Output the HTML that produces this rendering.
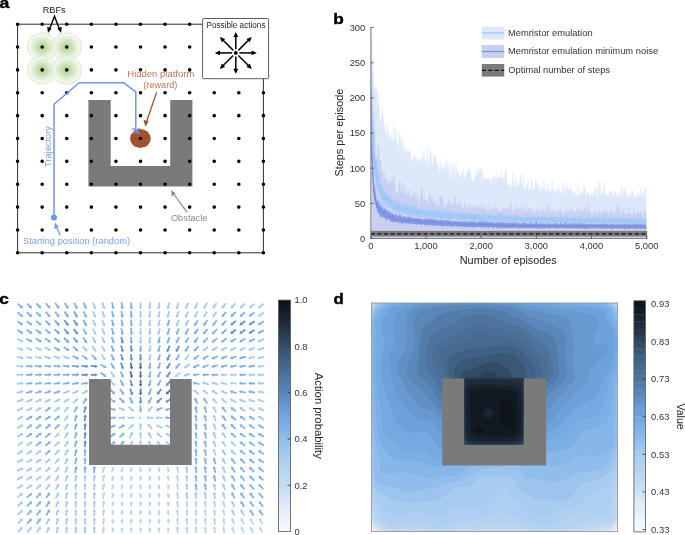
<!DOCTYPE html><html><head><meta charset="utf-8"><style>html,body{margin:0;padding:0;background:#fff;}body{width:685px;height:535px;overflow:hidden;position:relative;font-family:"Liberation Sans",sans-serif;}svg{position:absolute;left:0;top:0;will-change:transform;}</style></head><body><svg width="685" height="535" viewBox="0 0 685 535"><defs><radialGradient id="rbf" cx="50%" cy="50%" r="50%"><stop offset="0" stop-color="#aed292" stop-opacity="1"/><stop offset="0.3" stop-color="#c0daa8" stop-opacity="0.95"/><stop offset="0.6" stop-color="#dbeacd" stop-opacity="0.85"/><stop offset="0.85" stop-color="#edf5e6" stop-opacity="0.75"/><stop offset="1" stop-color="#f0f6ea" stop-opacity="0.75"/></radialGradient><marker id="ah" viewBox="0 0 10 10" refX="8" refY="5" markerWidth="4" markerHeight="4" orient="auto-start-reverse"><path d="M0,0 L10,5 L0,10 z" fill="context-stroke"/></marker></defs>
<path d="M202.6,24.2 H17.6 V252.79999999999998 H263.4 V78.7" fill="none" stroke="#151515" stroke-width="0.9"/>
<ellipse cx="42.2" cy="47.1" rx="14.8" ry="14.3" fill="url(#rbf)" stroke="#d2e3c1" stroke-width="0.7"/>
<ellipse cx="66.8" cy="47.1" rx="14.8" ry="14.3" fill="url(#rbf)" stroke="#d2e3c1" stroke-width="0.7"/>
<ellipse cx="42.2" cy="69.9" rx="14.8" ry="14.3" fill="url(#rbf)" stroke="#d2e3c1" stroke-width="0.7"/>
<ellipse cx="66.8" cy="69.9" rx="14.8" ry="14.3" fill="url(#rbf)" stroke="#d2e3c1" stroke-width="0.7"/>
<path d="M88.4,100 H110.7 V166 H170.2 V100 H192.4 V186.6 H88.4 Z" fill="#7a7a7a"/>
<path d="M15.80,24.20a1.8,1.8 0 1,0 3.6,0a1.8,1.8 0 1,0 -3.6,0M40.38,24.20a1.8,1.8 0 1,0 3.6,0a1.8,1.8 0 1,0 -3.6,0M64.96,24.20a1.8,1.8 0 1,0 3.6,0a1.8,1.8 0 1,0 -3.6,0M89.54,24.20a1.8,1.8 0 1,0 3.6,0a1.8,1.8 0 1,0 -3.6,0M114.12,24.20a1.8,1.8 0 1,0 3.6,0a1.8,1.8 0 1,0 -3.6,0M138.70,24.20a1.8,1.8 0 1,0 3.6,0a1.8,1.8 0 1,0 -3.6,0M163.28,24.20a1.8,1.8 0 1,0 3.6,0a1.8,1.8 0 1,0 -3.6,0M187.86,24.20a1.8,1.8 0 1,0 3.6,0a1.8,1.8 0 1,0 -3.6,0M15.80,47.06a1.8,1.8 0 1,0 3.6,0a1.8,1.8 0 1,0 -3.6,0M40.38,47.06a1.8,1.8 0 1,0 3.6,0a1.8,1.8 0 1,0 -3.6,0M64.96,47.06a1.8,1.8 0 1,0 3.6,0a1.8,1.8 0 1,0 -3.6,0M89.54,47.06a1.8,1.8 0 1,0 3.6,0a1.8,1.8 0 1,0 -3.6,0M114.12,47.06a1.8,1.8 0 1,0 3.6,0a1.8,1.8 0 1,0 -3.6,0M138.70,47.06a1.8,1.8 0 1,0 3.6,0a1.8,1.8 0 1,0 -3.6,0M163.28,47.06a1.8,1.8 0 1,0 3.6,0a1.8,1.8 0 1,0 -3.6,0M187.86,47.06a1.8,1.8 0 1,0 3.6,0a1.8,1.8 0 1,0 -3.6,0M15.80,69.92a1.8,1.8 0 1,0 3.6,0a1.8,1.8 0 1,0 -3.6,0M40.38,69.92a1.8,1.8 0 1,0 3.6,0a1.8,1.8 0 1,0 -3.6,0M64.96,69.92a1.8,1.8 0 1,0 3.6,0a1.8,1.8 0 1,0 -3.6,0M89.54,69.92a1.8,1.8 0 1,0 3.6,0a1.8,1.8 0 1,0 -3.6,0M114.12,69.92a1.8,1.8 0 1,0 3.6,0a1.8,1.8 0 1,0 -3.6,0M138.70,69.92a1.8,1.8 0 1,0 3.6,0a1.8,1.8 0 1,0 -3.6,0M163.28,69.92a1.8,1.8 0 1,0 3.6,0a1.8,1.8 0 1,0 -3.6,0M187.86,69.92a1.8,1.8 0 1,0 3.6,0a1.8,1.8 0 1,0 -3.6,0M15.80,92.78a1.8,1.8 0 1,0 3.6,0a1.8,1.8 0 1,0 -3.6,0M40.38,92.78a1.8,1.8 0 1,0 3.6,0a1.8,1.8 0 1,0 -3.6,0M64.96,92.78a1.8,1.8 0 1,0 3.6,0a1.8,1.8 0 1,0 -3.6,0M89.54,92.78a1.8,1.8 0 1,0 3.6,0a1.8,1.8 0 1,0 -3.6,0M114.12,92.78a1.8,1.8 0 1,0 3.6,0a1.8,1.8 0 1,0 -3.6,0M138.70,92.78a1.8,1.8 0 1,0 3.6,0a1.8,1.8 0 1,0 -3.6,0M163.28,92.78a1.8,1.8 0 1,0 3.6,0a1.8,1.8 0 1,0 -3.6,0M187.86,92.78a1.8,1.8 0 1,0 3.6,0a1.8,1.8 0 1,0 -3.6,0M212.44,92.78a1.8,1.8 0 1,0 3.6,0a1.8,1.8 0 1,0 -3.6,0M237.02,92.78a1.8,1.8 0 1,0 3.6,0a1.8,1.8 0 1,0 -3.6,0M261.60,92.78a1.8,1.8 0 1,0 3.6,0a1.8,1.8 0 1,0 -3.6,0M15.80,115.64a1.8,1.8 0 1,0 3.6,0a1.8,1.8 0 1,0 -3.6,0M40.38,115.64a1.8,1.8 0 1,0 3.6,0a1.8,1.8 0 1,0 -3.6,0M64.96,115.64a1.8,1.8 0 1,0 3.6,0a1.8,1.8 0 1,0 -3.6,0M89.54,115.64a1.8,1.8 0 1,0 3.6,0a1.8,1.8 0 1,0 -3.6,0M114.12,115.64a1.8,1.8 0 1,0 3.6,0a1.8,1.8 0 1,0 -3.6,0M138.70,115.64a1.8,1.8 0 1,0 3.6,0a1.8,1.8 0 1,0 -3.6,0M163.28,115.64a1.8,1.8 0 1,0 3.6,0a1.8,1.8 0 1,0 -3.6,0M187.86,115.64a1.8,1.8 0 1,0 3.6,0a1.8,1.8 0 1,0 -3.6,0M212.44,115.64a1.8,1.8 0 1,0 3.6,0a1.8,1.8 0 1,0 -3.6,0M237.02,115.64a1.8,1.8 0 1,0 3.6,0a1.8,1.8 0 1,0 -3.6,0M261.60,115.64a1.8,1.8 0 1,0 3.6,0a1.8,1.8 0 1,0 -3.6,0M15.80,138.50a1.8,1.8 0 1,0 3.6,0a1.8,1.8 0 1,0 -3.6,0M40.38,138.50a1.8,1.8 0 1,0 3.6,0a1.8,1.8 0 1,0 -3.6,0M64.96,138.50a1.8,1.8 0 1,0 3.6,0a1.8,1.8 0 1,0 -3.6,0M89.54,138.50a1.8,1.8 0 1,0 3.6,0a1.8,1.8 0 1,0 -3.6,0M114.12,138.50a1.8,1.8 0 1,0 3.6,0a1.8,1.8 0 1,0 -3.6,0M138.70,138.50a1.8,1.8 0 1,0 3.6,0a1.8,1.8 0 1,0 -3.6,0M163.28,138.50a1.8,1.8 0 1,0 3.6,0a1.8,1.8 0 1,0 -3.6,0M187.86,138.50a1.8,1.8 0 1,0 3.6,0a1.8,1.8 0 1,0 -3.6,0M212.44,138.50a1.8,1.8 0 1,0 3.6,0a1.8,1.8 0 1,0 -3.6,0M237.02,138.50a1.8,1.8 0 1,0 3.6,0a1.8,1.8 0 1,0 -3.6,0M261.60,138.50a1.8,1.8 0 1,0 3.6,0a1.8,1.8 0 1,0 -3.6,0M15.80,161.36a1.8,1.8 0 1,0 3.6,0a1.8,1.8 0 1,0 -3.6,0M40.38,161.36a1.8,1.8 0 1,0 3.6,0a1.8,1.8 0 1,0 -3.6,0M64.96,161.36a1.8,1.8 0 1,0 3.6,0a1.8,1.8 0 1,0 -3.6,0M89.54,161.36a1.8,1.8 0 1,0 3.6,0a1.8,1.8 0 1,0 -3.6,0M114.12,161.36a1.8,1.8 0 1,0 3.6,0a1.8,1.8 0 1,0 -3.6,0M138.70,161.36a1.8,1.8 0 1,0 3.6,0a1.8,1.8 0 1,0 -3.6,0M163.28,161.36a1.8,1.8 0 1,0 3.6,0a1.8,1.8 0 1,0 -3.6,0M187.86,161.36a1.8,1.8 0 1,0 3.6,0a1.8,1.8 0 1,0 -3.6,0M212.44,161.36a1.8,1.8 0 1,0 3.6,0a1.8,1.8 0 1,0 -3.6,0M237.02,161.36a1.8,1.8 0 1,0 3.6,0a1.8,1.8 0 1,0 -3.6,0M261.60,161.36a1.8,1.8 0 1,0 3.6,0a1.8,1.8 0 1,0 -3.6,0M15.80,184.22a1.8,1.8 0 1,0 3.6,0a1.8,1.8 0 1,0 -3.6,0M40.38,184.22a1.8,1.8 0 1,0 3.6,0a1.8,1.8 0 1,0 -3.6,0M64.96,184.22a1.8,1.8 0 1,0 3.6,0a1.8,1.8 0 1,0 -3.6,0M89.54,184.22a1.8,1.8 0 1,0 3.6,0a1.8,1.8 0 1,0 -3.6,0M114.12,184.22a1.8,1.8 0 1,0 3.6,0a1.8,1.8 0 1,0 -3.6,0M138.70,184.22a1.8,1.8 0 1,0 3.6,0a1.8,1.8 0 1,0 -3.6,0M163.28,184.22a1.8,1.8 0 1,0 3.6,0a1.8,1.8 0 1,0 -3.6,0M187.86,184.22a1.8,1.8 0 1,0 3.6,0a1.8,1.8 0 1,0 -3.6,0M212.44,184.22a1.8,1.8 0 1,0 3.6,0a1.8,1.8 0 1,0 -3.6,0M237.02,184.22a1.8,1.8 0 1,0 3.6,0a1.8,1.8 0 1,0 -3.6,0M261.60,184.22a1.8,1.8 0 1,0 3.6,0a1.8,1.8 0 1,0 -3.6,0M15.80,207.08a1.8,1.8 0 1,0 3.6,0a1.8,1.8 0 1,0 -3.6,0M40.38,207.08a1.8,1.8 0 1,0 3.6,0a1.8,1.8 0 1,0 -3.6,0M64.96,207.08a1.8,1.8 0 1,0 3.6,0a1.8,1.8 0 1,0 -3.6,0M89.54,207.08a1.8,1.8 0 1,0 3.6,0a1.8,1.8 0 1,0 -3.6,0M114.12,207.08a1.8,1.8 0 1,0 3.6,0a1.8,1.8 0 1,0 -3.6,0M138.70,207.08a1.8,1.8 0 1,0 3.6,0a1.8,1.8 0 1,0 -3.6,0M163.28,207.08a1.8,1.8 0 1,0 3.6,0a1.8,1.8 0 1,0 -3.6,0M187.86,207.08a1.8,1.8 0 1,0 3.6,0a1.8,1.8 0 1,0 -3.6,0M212.44,207.08a1.8,1.8 0 1,0 3.6,0a1.8,1.8 0 1,0 -3.6,0M237.02,207.08a1.8,1.8 0 1,0 3.6,0a1.8,1.8 0 1,0 -3.6,0M261.60,207.08a1.8,1.8 0 1,0 3.6,0a1.8,1.8 0 1,0 -3.6,0M15.80,229.94a1.8,1.8 0 1,0 3.6,0a1.8,1.8 0 1,0 -3.6,0M40.38,229.94a1.8,1.8 0 1,0 3.6,0a1.8,1.8 0 1,0 -3.6,0M64.96,229.94a1.8,1.8 0 1,0 3.6,0a1.8,1.8 0 1,0 -3.6,0M89.54,229.94a1.8,1.8 0 1,0 3.6,0a1.8,1.8 0 1,0 -3.6,0M114.12,229.94a1.8,1.8 0 1,0 3.6,0a1.8,1.8 0 1,0 -3.6,0M138.70,229.94a1.8,1.8 0 1,0 3.6,0a1.8,1.8 0 1,0 -3.6,0M163.28,229.94a1.8,1.8 0 1,0 3.6,0a1.8,1.8 0 1,0 -3.6,0M187.86,229.94a1.8,1.8 0 1,0 3.6,0a1.8,1.8 0 1,0 -3.6,0M212.44,229.94a1.8,1.8 0 1,0 3.6,0a1.8,1.8 0 1,0 -3.6,0M237.02,229.94a1.8,1.8 0 1,0 3.6,0a1.8,1.8 0 1,0 -3.6,0M261.60,229.94a1.8,1.8 0 1,0 3.6,0a1.8,1.8 0 1,0 -3.6,0M15.80,252.80a1.8,1.8 0 1,0 3.6,0a1.8,1.8 0 1,0 -3.6,0M40.38,252.80a1.8,1.8 0 1,0 3.6,0a1.8,1.8 0 1,0 -3.6,0M64.96,252.80a1.8,1.8 0 1,0 3.6,0a1.8,1.8 0 1,0 -3.6,0M89.54,252.80a1.8,1.8 0 1,0 3.6,0a1.8,1.8 0 1,0 -3.6,0M114.12,252.80a1.8,1.8 0 1,0 3.6,0a1.8,1.8 0 1,0 -3.6,0M138.70,252.80a1.8,1.8 0 1,0 3.6,0a1.8,1.8 0 1,0 -3.6,0M163.28,252.80a1.8,1.8 0 1,0 3.6,0a1.8,1.8 0 1,0 -3.6,0M187.86,252.80a1.8,1.8 0 1,0 3.6,0a1.8,1.8 0 1,0 -3.6,0M212.44,252.80a1.8,1.8 0 1,0 3.6,0a1.8,1.8 0 1,0 -3.6,0M237.02,252.80a1.8,1.8 0 1,0 3.6,0a1.8,1.8 0 1,0 -3.6,0M261.60,252.80a1.8,1.8 0 1,0 3.6,0a1.8,1.8 0 1,0 -3.6,0" fill="#000"/>
<rect x="202.6" y="18.5" width="66" height="60.2" rx="1" fill="#fff" stroke="#333" stroke-width="0.8"/>
<text x="236" y="28" font-family="Liberation Sans, sans-serif" font-size="8.3" text-anchor="middle" fill="#222" textLength="59" lengthAdjust="spacingAndGlyphs">Possible actions</text>
<line x1="239.40" y1="52.90" x2="252.80" y2="52.90" stroke="#000" stroke-width="1.5"/><path d="M256.80,52.90 L251.60,55.30 L251.60,50.50 Z" fill="#000"/><line x1="238.35" y1="50.35" x2="248.95" y2="39.75" stroke="#000" stroke-width="1.5"/><path d="M251.78,36.92 L249.80,42.29 L246.41,38.90 Z" fill="#000"/><line x1="235.80" y1="49.30" x2="235.80" y2="35.90" stroke="#000" stroke-width="1.5"/><path d="M235.80,31.90 L238.20,37.10 L233.40,37.10 Z" fill="#000"/><line x1="233.25" y1="50.35" x2="222.65" y2="39.75" stroke="#000" stroke-width="1.5"/><path d="M219.82,36.92 L225.19,38.90 L221.80,42.29 Z" fill="#000"/><line x1="232.20" y1="52.90" x2="218.80" y2="52.90" stroke="#000" stroke-width="1.5"/><path d="M214.80,52.90 L220.00,50.50 L220.00,55.30 Z" fill="#000"/><line x1="233.25" y1="55.45" x2="222.65" y2="66.05" stroke="#000" stroke-width="1.5"/><path d="M219.82,68.88 L221.80,63.51 L225.19,66.90 Z" fill="#000"/><line x1="235.80" y1="56.50" x2="235.80" y2="69.90" stroke="#000" stroke-width="1.5"/><path d="M235.80,73.90 L233.40,68.70 L238.20,68.70 Z" fill="#000"/><line x1="238.35" y1="55.45" x2="248.95" y2="66.05" stroke="#000" stroke-width="1.5"/><path d="M251.78,68.88 L246.41,66.90 L249.80,63.51 Z" fill="#000"/>
<circle cx="235.8" cy="52.9" r="1.9" fill="#000"/>
<text x="54.2" y="12.8" font-family="Liberation Sans, sans-serif" font-size="9.6" text-anchor="middle" fill="#222" textLength="23" lengthAdjust="spacingAndGlyphs">RBFs</text>
<path d="M49.6,29 L54.5,16.3 L59.4,29" fill="none" stroke="#000" stroke-width="1.4" stroke-linejoin="miter"/>
<path d="M48,33 L47.2,26.8 L51.6,28.4 Z M61,33 L61.8,26.8 L57.4,28.4 Z" fill="#000"/>
<ellipse cx="140.4" cy="138.5" rx="10.3" ry="9.6" fill="#a0522d"/>
<circle cx="140.4" cy="138.5" r="1.8" fill="#000"/>
<path d="M54,217.4 V104.2 L79.2,82.7 H123.5 L135.8,91.9 V131" fill="none" stroke="#6d95ec" stroke-width="1.5" stroke-linejoin="round"/>
<path d="M132.4,128.2 L139.6,133.8 M139.6,128.2 L132.4,133.8" stroke="#6d95ec" stroke-width="1.6"/>
<circle cx="54" cy="217.4" r="3" fill="#6d95ec"/>
<line x1="156.6" y1="92.4" x2="146.4" y2="122" stroke="#a0522d" stroke-width="1.3"/>
<path d="M145.4,126.8 L143.4,119.8 L148.6,121.5 Z" fill="#a0522d"/>
<text x="160.8" y="77.2" font-family="Liberation Sans, sans-serif" font-size="9" text-anchor="middle" fill="#b9775a" textLength="67" lengthAdjust="spacingAndGlyphs">Hidden platform</text>
<text x="160.3" y="87.6" font-family="Liberation Sans, sans-serif" font-size="9" text-anchor="middle" fill="#b9775a" textLength="34" lengthAdjust="spacingAndGlyphs">(reward)</text>
<text transform="translate(50.6,146.5) rotate(-90)" font-family="Liberation Sans, sans-serif" font-size="9" text-anchor="middle" fill="#7ba0ec" textLength="41" lengthAdjust="spacingAndGlyphs">Trajectory</text>
<line x1="60.3" y1="235.5" x2="56" y2="226" stroke="#6d95ec" stroke-width="1.2"/>
<path d="M55,222.5 L54.2,229 L58.6,227 Z" fill="#6d95ec"/>
<text x="76.5" y="244" font-family="Liberation Sans, sans-serif" font-size="9" text-anchor="middle" fill="#7ba0ec" textLength="107" lengthAdjust="spacingAndGlyphs">Starting position (random)</text>
<line x1="186.9" y1="212.1" x2="173" y2="193" stroke="#888" stroke-width="1.1"/>
<path d="M171.3,190.1 L171.6,196.5 L175.6,193.6 Z" fill="#888"/>
<text x="189.2" y="221.2" font-family="Liberation Sans, sans-serif" font-size="9" text-anchor="middle" fill="#8a8a8a" textLength="36.6" lengthAdjust="spacingAndGlyphs">Obstacle</text>
<text transform="translate(-0.6,8.0) scale(1.14,1)" font-family="Liberation Sans, sans-serif" font-size="15.5" font-weight="bold" fill="#000" stroke="#000" stroke-width="0.4">a</text>
<defs><clipPath id="cb"><rect x="370.8" y="27.6" width="275.9" height="210.9"/></clipPath></defs>
<g clip-path="url(#cb)">
<polygon points="370.8,238.5 370.8,12.2 371.3,12.2 371.8,35.3 372.3,35.3 372.8,58.2 373.3,58.2 373.8,87.8 374.3,87.8 374.8,86.2 375.3,86.2 375.8,90.7 376.3,90.7 376.8,89.4 377.3,89.4 377.8,104.0 378.3,104.0 378.8,93.5 379.3,93.5 379.8,119.7 380.3,119.7 380.8,120.2 381.3,120.2 381.8,106.1 382.3,106.1 382.8,114.6 383.3,114.6 383.8,122.3 384.3,122.3 384.8,127.4 385.3,127.4 385.8,135.3 386.3,135.3 386.8,124.9 387.3,124.9 387.8,130.4 388.3,130.4 388.8,138.2 389.3,138.2 389.8,137.7 390.3,137.7 390.8,133.1 391.3,133.1 391.8,140.5 392.3,140.5 392.8,139.3 393.3,139.3 393.8,121.6 394.3,121.6 394.8,141.7 395.3,141.7 395.8,127.5 396.3,127.5 396.8,142.7 397.3,142.7 397.8,148.9 398.3,148.9 398.8,132.7 399.3,132.7 399.8,134.0 400.3,134.0 400.8,143.9 401.3,143.9 401.8,135.8 402.3,135.8 402.8,152.2 403.3,152.2 403.8,141.8 404.3,141.8 404.8,148.6 405.3,148.6 405.8,153.6 406.3,153.6 406.8,150.1 407.3,150.1 407.8,151.3 408.3,151.3 408.8,152.2 409.3,152.2 409.8,147.8 410.3,147.8 410.8,158.3 411.3,158.3 411.8,161.8 412.3,161.8 412.8,158.5 413.3,158.5 413.8,156.6 414.3,156.6 414.8,155.8 415.3,155.8 415.8,162.7 416.3,162.7 416.8,156.4 417.3,156.4 417.8,160.3 418.3,160.3 418.8,158.2 419.3,158.2 419.8,163.5 420.3,163.5 420.8,159.0 421.3,159.0 421.8,156.8 422.3,156.8 422.8,159.6 423.3,159.6 423.8,148.3 424.3,148.3 424.8,162.6 425.3,162.6 425.8,160.8 426.3,160.8 426.8,144.0 427.3,144.0 427.8,167.6 428.3,167.6 428.8,159.4 429.3,159.4 429.8,147.1 430.3,147.1 430.8,152.1 431.3,152.1 431.8,162.3 432.3,162.3 432.8,164.8 433.3,164.8 433.8,151.8 434.3,151.8 434.8,157.3 435.3,157.3 435.8,158.1 436.3,158.1 436.8,163.8 437.3,163.8 437.8,164.9 438.3,164.9 438.8,171.9 439.3,171.9 439.8,157.6 440.3,157.6 440.8,167.1 441.3,167.1 441.8,168.1 442.3,168.1 442.8,169.1 443.3,169.1 443.8,170.6 444.3,170.6 444.8,162.7 445.3,162.7 445.8,168.5 446.3,168.5 446.8,158.1 447.3,158.1 447.8,175.0 448.3,175.0 448.8,162.6 449.3,162.6 449.8,178.8 450.3,178.8 450.8,161.6 451.3,161.6 451.8,177.1 452.3,177.1 452.8,164.5 453.3,164.5 453.8,168.2 454.3,168.2 454.8,177.5 455.3,177.5 455.8,160.5 456.3,160.5 456.8,171.4 457.3,171.4 457.8,173.2 458.3,173.2 458.8,173.8 459.3,173.8 459.8,176.0 460.3,176.0 460.8,176.1 461.3,176.1 461.8,172.8 462.3,172.8 462.8,168.9 463.3,168.9 463.8,179.0 464.3,179.0 464.8,176.5 465.3,176.5 465.8,174.5 466.3,174.5 466.8,172.4 467.3,172.4 467.8,168.4 468.3,168.4 468.8,171.2 469.3,171.2 469.8,166.5 470.3,166.5 470.8,174.8 471.3,174.8 471.8,177.8 472.3,177.8 472.8,181.8 473.3,181.8 473.8,180.0 474.3,180.0 474.8,175.8 475.3,175.8 475.8,173.8 476.3,173.8 476.8,167.8 477.3,167.8 477.8,174.7 478.3,174.7 478.8,167.5 479.3,167.5 479.8,171.6 480.3,171.6 480.8,169.0 481.3,169.0 481.8,167.8 482.3,167.8 482.8,181.2 483.3,181.2 483.8,176.6 484.3,176.6 484.8,178.2 485.3,178.2 485.8,179.3 486.3,179.3 486.8,179.6 487.3,179.6 487.8,179.0 488.3,179.0 488.8,178.6 489.3,178.6 489.8,181.0 490.3,181.0 490.8,184.2 491.3,184.2 491.8,176.4 492.3,176.4 492.8,178.9 493.3,178.9 493.8,176.8 494.3,176.8 494.8,176.6 495.3,176.6 495.8,182.4 496.3,182.4 496.8,171.1 497.3,171.1 497.8,177.5 498.3,177.5 498.8,178.0 499.3,178.0 499.8,176.4 500.3,176.4 500.8,169.7 501.3,169.7 501.8,178.2 502.3,178.2 502.8,176.7 503.3,176.7 503.8,179.9 504.3,179.9 504.8,171.2 505.3,171.2 505.8,168.6 506.3,168.6 506.8,182.1 507.3,182.1 507.8,184.6 508.3,184.6 508.8,185.3 509.3,185.3 509.8,184.4 510.3,184.4 510.8,188.1 511.3,188.1 511.8,181.6 512.3,181.6 512.8,170.6 513.3,170.6 513.8,185.1 514.3,185.1 514.8,187.5 515.3,187.5 515.8,177.6 516.3,177.6 516.8,184.9 517.3,184.9 517.8,184.9 518.3,184.9 518.8,184.6 519.3,184.6 519.8,177.9 520.3,177.9 520.8,174.1 521.3,174.1 521.8,188.0 522.3,188.0 522.8,173.9 523.3,173.9 523.8,187.6 524.3,187.6 524.8,189.7 525.3,189.7 525.8,185.8 526.3,185.8 526.8,185.3 527.3,185.3 527.8,178.5 528.3,178.5 528.8,190.4 529.3,190.4 529.8,190.1 530.3,190.1 530.8,180.2 531.3,180.2 531.8,180.4 532.3,180.4 532.8,188.3 533.3,188.3 533.8,190.1 534.3,190.1 534.8,183.1 535.3,183.1 535.8,177.5 536.3,177.5 536.8,186.1 537.3,186.1 537.8,183.8 538.3,183.8 538.8,189.2 539.3,189.2 539.8,184.3 540.3,184.3 540.8,190.3 541.3,190.3 541.8,187.9 542.3,187.9 542.8,188.1 543.3,188.1 543.8,177.7 544.3,177.7 544.8,191.4 545.3,191.4 545.8,188.9 546.3,188.9 546.8,189.7 547.3,189.7 547.8,181.8 548.3,181.8 548.8,192.6 549.3,192.6 549.8,190.1 550.3,190.1 550.8,192.4 551.3,192.4 551.8,178.6 552.3,178.6 552.8,191.0 553.3,191.0 553.8,189.2 554.3,189.2 554.8,189.9 555.3,189.9 555.8,192.5 556.3,192.5 556.8,192.8 557.3,192.8 557.8,183.9 558.3,183.9 558.8,188.9 559.3,188.9 559.8,192.1 560.3,192.1 560.8,193.3 561.3,193.3 561.8,182.4 562.3,182.4 562.8,194.2 563.3,194.2 563.8,180.8 564.3,180.8 564.8,188.9 565.3,188.9 565.8,192.5 566.3,192.5 566.8,181.8 567.3,181.8 567.8,189.6 568.3,189.6 568.8,189.4 569.3,189.4 569.8,185.9 570.3,185.9 570.8,190.2 571.3,190.2 571.8,190.1 572.3,190.1 572.8,195.1 573.3,195.1 573.8,193.5 574.3,193.5 574.8,191.0 575.3,191.0 575.8,195.8 576.3,195.8 576.8,194.7 577.3,194.7 577.8,182.6 578.3,182.6 578.8,194.9 579.3,194.9 579.8,194.6 580.3,194.6 580.8,193.5 581.3,193.5 581.8,191.7 582.3,191.7 582.8,191.2 583.3,191.2 583.8,184.3 584.3,184.3 584.8,187.9 585.3,187.9 585.8,194.4 586.3,194.4 586.8,194.1 587.3,194.1 587.8,191.1 588.3,191.1 588.8,192.4 589.3,192.4 589.8,197.6 590.3,197.6 590.8,194.0 591.3,194.0 591.8,191.3 592.3,191.3 592.8,196.0 593.3,196.0 593.8,193.5 594.3,193.5 594.8,188.2 595.3,188.2 595.8,187.8 596.3,187.8 596.8,198.2 597.3,198.2 597.8,187.5 598.3,187.5 598.8,180.5 599.3,180.5 599.8,194.3 600.3,194.3 600.8,184.7 601.3,184.7 601.8,195.4 602.3,195.4 602.8,193.6 603.3,193.6 603.8,181.3 604.3,181.3 604.8,191.0 605.3,191.0 605.8,196.8 606.3,196.8 606.8,193.9 607.3,193.9 607.8,196.2 608.3,196.2 608.8,192.5 609.3,192.5 609.8,189.8 610.3,189.8 610.8,193.3 611.3,193.3 611.8,191.1 612.3,191.1 612.8,195.9 613.3,195.9 613.8,195.4 614.3,195.4 614.8,188.4 615.3,188.4 615.8,192.3 616.3,192.3 616.8,197.1 617.3,197.1 617.8,195.6 618.3,195.6 618.8,195.0 619.3,195.0 619.8,195.0 620.3,195.0 620.8,183.3 621.3,183.3 621.8,197.1 622.3,197.1 622.8,186.5 623.3,186.5 623.8,194.1 624.3,194.1 624.8,187.2 625.3,187.2 625.8,189.5 626.3,189.5 626.8,197.1 627.3,197.1 627.8,196.3 628.3,196.3 628.8,192.6 629.3,192.6 629.8,193.5 630.3,193.5 630.8,195.9 631.3,195.9 631.8,189.0 632.3,189.0 632.8,192.6 633.3,192.6 633.8,197.8 634.3,197.8 634.8,197.5 635.3,197.5 635.8,195.3 636.3,195.3 636.8,195.3 637.3,195.3 637.8,190.4 638.3,190.4 638.8,196.3 639.3,196.3 639.8,195.5 640.3,195.5 640.8,185.7 641.3,185.7 641.8,195.8 642.3,195.8 642.8,190.7 643.3,190.7 643.8,197.7 644.3,197.7 644.8,186.9 645.3,186.9 645.8,186.2 646.3,186.2 646.7,238.5" fill="#dde8fa"/>
<polygon points="370.8,238.5 370.8,18.3 371.3,18.3 371.8,70.1 372.3,70.1 372.8,105.9 373.3,105.9 373.8,117.7 374.3,117.7 374.8,129.3 375.3,129.3 375.8,155.8 376.3,155.8 376.8,157.2 377.3,157.2 377.8,141.9 378.3,141.9 378.8,149.0 379.3,149.0 379.8,160.2 380.3,160.2 380.8,160.0 381.3,160.0 381.8,171.5 382.3,171.5 382.8,171.3 383.3,171.3 383.8,179.4 384.3,179.4 384.8,170.4 385.3,170.4 385.8,180.2 386.3,180.2 386.8,179.0 387.3,179.0 387.8,184.5 388.3,184.5 388.8,182.4 389.3,182.4 389.8,181.7 390.3,181.7 390.8,183.6 391.3,183.6 391.8,176.1 392.3,176.1 392.8,183.4 393.3,183.4 393.8,171.0 394.3,171.0 394.8,184.3 395.3,184.3 395.8,193.5 396.3,193.5 396.8,191.7 397.3,191.7 397.8,191.6 398.3,191.6 398.8,183.7 399.3,183.7 399.8,180.7 400.3,180.7 400.8,193.8 401.3,193.8 401.8,181.8 402.3,181.8 402.8,188.8 403.3,188.8 403.8,192.7 404.3,192.7 404.8,184.4 405.3,184.4 405.8,195.1 406.3,195.1 406.8,194.1 407.3,194.1 407.8,190.6 408.3,190.6 408.8,190.1 409.3,190.1 409.8,196.8 410.3,196.8 410.8,196.9 411.3,196.9 411.8,190.0 412.3,190.0 412.8,196.6 413.3,196.6 413.8,193.6 414.3,193.6 414.8,192.5 415.3,192.5 415.8,200.5 416.3,200.5 416.8,191.7 417.3,191.7 417.8,196.6 418.3,196.6 418.8,205.1 419.3,205.1 419.8,198.3 420.3,198.3 420.8,189.5 421.3,189.5 421.8,188.5 422.3,188.5 422.8,200.3 423.3,200.3 423.8,191.4 424.3,191.4 424.8,200.0 425.3,200.0 425.8,198.6 426.3,198.6 426.8,201.8 427.3,201.8 427.8,203.2 428.3,203.2 428.8,192.4 429.3,192.4 429.8,194.0 430.3,194.0 430.8,196.6 431.3,196.6 431.8,201.4 432.3,201.4 432.8,195.2 433.3,195.2 433.8,202.7 434.3,202.7 434.8,201.5 435.3,201.5 435.8,201.2 436.3,201.2 436.8,206.4 437.3,206.4 437.8,196.7 438.3,196.7 438.8,206.0 439.3,206.0 439.8,197.0 440.3,197.0 440.8,195.8 441.3,195.8 441.8,199.0 442.3,199.0 442.8,197.2 443.3,197.2 443.8,207.6 444.3,207.6 444.8,204.0 445.3,204.0 445.8,203.5 446.3,203.5 446.8,206.2 447.3,206.2 447.8,197.6 448.3,197.6 448.8,201.1 449.3,201.1 449.8,201.1 450.3,201.1 450.8,205.0 451.3,205.0 451.8,203.5 452.3,203.5 452.8,206.2 453.3,206.2 453.8,198.8 454.3,198.8 454.8,194.9 455.3,194.9 455.8,207.8 456.3,207.8 456.8,201.8 457.3,201.8 457.8,203.3 458.3,203.3 458.8,205.2 459.3,205.2 459.8,205.5 460.3,205.5 460.8,199.0 461.3,199.0 461.8,208.7 462.3,208.7 462.8,208.5 463.3,208.5 463.8,206.8 464.3,206.8 464.8,201.8 465.3,201.8 465.8,207.4 466.3,207.4 466.8,206.7 467.3,206.7 467.8,209.4 468.3,209.4 468.8,205.7 469.3,205.7 469.8,203.4 470.3,203.4 470.8,209.9 471.3,209.9 471.8,207.2 472.3,207.2 472.8,206.0 473.3,206.0 473.8,203.2 474.3,203.2 474.8,208.6 475.3,208.6 475.8,209.1 476.3,209.1 476.8,205.5 477.3,205.5 477.8,209.0 478.3,209.0 478.8,205.1 479.3,205.1 479.8,208.6 480.3,208.6 480.8,201.7 481.3,201.7 481.8,209.1 482.3,209.1 482.8,207.2 483.3,207.2 483.8,202.9 484.3,202.9 484.8,208.5 485.3,208.5 485.8,209.9 486.3,209.9 486.8,210.8 487.3,210.8 487.8,202.8 488.3,202.8 488.8,210.3 489.3,210.3 489.8,210.8 490.3,210.8 490.8,207.6 491.3,207.6 491.8,207.6 492.3,207.6 492.8,209.5 493.3,209.5 493.8,203.1 494.3,203.1 494.8,210.4 495.3,210.4 495.8,204.8 496.3,204.8 496.8,208.9 497.3,208.9 497.8,211.6 498.3,211.6 498.8,210.7 499.3,210.7 499.8,209.3 500.3,209.3 500.8,211.3 501.3,211.3 501.8,210.9 502.3,210.9 502.8,207.4 503.3,207.4 503.8,208.3 504.3,208.3 504.8,210.0 505.3,210.0 505.8,208.7 506.3,208.7 506.8,207.9 507.3,207.9 507.8,208.6 508.3,208.6 508.8,211.1 509.3,211.1 509.8,206.5 510.3,206.5 510.8,202.7 511.3,202.7 511.8,209.7 512.3,209.7 512.8,213.4 513.3,213.4 513.8,205.9 514.3,205.9 514.8,210.0 515.3,210.0 515.8,209.4 516.3,209.4 516.8,202.5 517.3,202.5 517.8,209.2 518.3,209.2 518.8,206.9 519.3,206.9 519.8,211.5 520.3,211.5 520.8,207.5 521.3,207.5 521.8,207.2 522.3,207.2 522.8,212.0 523.3,212.0 523.8,205.1 524.3,205.1 524.8,212.5 525.3,212.5 525.8,204.7 526.3,204.7 526.8,210.1 527.3,210.1 527.8,211.1 528.3,211.1 528.8,206.3 529.3,206.3 529.8,208.3 530.3,208.3 530.8,211.1 531.3,211.1 531.8,208.3 532.3,208.3 532.8,211.0 533.3,211.0 533.8,213.7 534.3,213.7 534.8,211.5 535.3,211.5 535.8,208.7 536.3,208.7 536.8,210.2 537.3,210.2 537.8,208.0 538.3,208.0 538.8,211.4 539.3,211.4 539.8,208.9 540.3,208.9 540.8,213.8 541.3,213.8 541.8,204.7 542.3,204.7 542.8,212.3 543.3,212.3 543.8,208.2 544.3,208.2 544.8,210.0 545.3,210.0 545.8,213.0 546.3,213.0 546.8,202.6 547.3,202.6 547.8,206.6 548.3,206.6 548.8,212.6 549.3,212.6 549.8,204.1 550.3,204.1 550.8,212.6 551.3,212.6 551.8,211.3 552.3,211.3 552.8,208.4 553.3,208.4 553.8,212.1 554.3,212.1 554.8,212.7 555.3,212.7 555.8,209.8 556.3,209.8 556.8,211.5 557.3,211.5 557.8,210.3 558.3,210.3 558.8,213.3 559.3,213.3 559.8,204.2 560.3,204.2 560.8,210.6 561.3,210.6 561.8,214.6 562.3,214.6 562.8,212.1 563.3,212.1 563.8,213.0 564.3,213.0 564.8,212.1 565.3,212.1 565.8,207.5 566.3,207.5 566.8,210.6 567.3,210.6 567.8,211.5 568.3,211.5 568.8,211.0 569.3,211.0 569.8,206.9 570.3,206.9 570.8,211.9 571.3,211.9 571.8,206.6 572.3,206.6 572.8,211.6 573.3,211.6 573.8,211.3 574.3,211.3 574.8,211.2 575.3,211.2 575.8,212.8 576.3,212.8 576.8,206.2 577.3,206.2 577.8,211.1 578.3,211.1 578.8,207.3 579.3,207.3 579.8,212.5 580.3,212.5 580.8,211.1 581.3,211.1 581.8,210.1 582.3,210.1 582.8,211.8 583.3,211.8 583.8,204.7 584.3,204.7 584.8,210.6 585.3,210.6 585.8,208.2 586.3,208.2 586.8,211.9 587.3,211.9 587.8,203.9 588.3,203.9 588.8,206.6 589.3,206.6 589.8,212.7 590.3,212.7 590.8,210.9 591.3,210.9 591.8,214.4 592.3,214.4 592.8,211.9 593.3,211.9 593.8,213.9 594.3,213.9 594.8,208.2 595.3,208.2 595.8,212.5 596.3,212.5 596.8,213.0 597.3,213.0 597.8,213.0 598.3,213.0 598.8,209.0 599.3,209.0 599.8,212.7 600.3,212.7 600.8,212.1 601.3,212.1 601.8,213.1 602.3,213.1 602.8,211.7 603.3,211.7 603.8,209.3 604.3,209.3 604.8,211.4 605.3,211.4 605.8,209.8 606.3,209.8 606.8,212.3 607.3,212.3 607.8,212.1 608.3,212.1 608.8,213.5 609.3,213.5 609.8,209.5 610.3,209.5 610.8,210.2 611.3,210.2 611.8,210.5 612.3,210.5 612.8,214.2 613.3,214.2 613.8,212.7 614.3,212.7 614.8,210.3 615.3,210.3 615.8,214.4 616.3,214.4 616.8,204.2 617.3,204.2 617.8,205.9 618.3,205.9 618.8,206.0 619.3,206.0 619.8,213.7 620.3,213.7 620.8,209.9 621.3,209.9 621.8,213.9 622.3,213.9 622.8,207.9 623.3,207.9 623.8,210.6 624.3,210.6 624.8,214.0 625.3,214.0 625.8,214.1 626.3,214.1 626.8,214.2 627.3,214.2 627.8,212.3 628.3,212.3 628.8,204.4 629.3,204.4 629.8,214.7 630.3,214.7 630.8,212.9 631.3,212.9 631.8,214.1 632.3,214.1 632.8,213.4 633.3,213.4 633.8,207.8 634.3,207.8 634.8,213.6 635.3,213.6 635.8,212.5 636.3,212.5 636.8,212.5 637.3,212.5 637.8,210.8 638.3,210.8 638.8,213.2 639.3,213.2 639.8,212.6 640.3,212.6 640.8,211.0 641.3,211.0 641.8,212.7 642.3,212.7 642.8,216.1 643.3,216.1 643.8,212.8 644.3,212.8 644.8,212.0 645.3,212.0 645.8,212.2 646.3,212.2 646.7,238.5" fill="#cad0f2"/>
<polygon points="370.8,62.2 371.3,66.6 371.8,91.2 372.3,117.9 372.8,121.0 373.3,127.3 373.8,132.9 374.3,149.9 374.8,148.2 375.3,158.5 375.8,158.2 376.3,162.4 376.8,158.0 377.3,166.9 377.8,169.3 378.3,172.6 378.8,174.7 379.3,177.2 379.8,177.6 380.3,180.5 380.8,185.9 381.3,183.6 381.8,189.0 382.3,187.6 382.8,181.8 383.3,188.2 383.8,191.6 384.3,189.3 384.8,191.2 385.3,191.1 385.8,191.4 386.3,188.4 386.8,194.7 387.3,196.0 387.8,195.9 388.3,195.1 388.8,197.5 389.3,191.7 389.8,197.4 390.3,197.8 390.8,195.7 391.3,198.1 391.8,197.8 392.3,200.6 392.8,198.3 393.3,199.5 393.8,196.6 394.3,199.9 394.8,200.3 395.3,201.3 395.8,199.2 396.3,200.1 396.8,202.9 397.3,200.3 397.8,199.7 398.3,202.9 398.8,200.1 399.3,203.7 399.8,203.2 400.3,204.2 400.8,203.2 401.3,201.0 401.8,204.5 402.3,204.5 402.8,200.3 403.3,205.8 403.8,206.2 404.3,204.5 404.8,201.3 405.3,205.2 405.8,205.9 406.3,205.2 406.8,203.4 407.3,203.3 407.8,203.7 408.3,206.7 408.8,206.1 409.3,205.2 409.8,203.8 410.3,205.5 410.8,207.6 411.3,206.9 411.8,205.0 412.3,206.6 412.8,207.3 413.3,204.6 413.8,207.6 414.3,205.7 414.8,207.1 415.3,205.7 415.8,205.7 416.3,206.3 416.8,208.8 417.3,206.8 417.8,206.0 418.3,208.5 418.8,208.3 419.3,208.2 419.8,208.7 420.3,209.0 420.8,208.2 421.3,205.2 421.8,209.7 422.3,208.7 422.8,210.0 423.3,209.6 423.8,206.7 424.3,209.3 424.8,208.9 425.3,210.4 425.8,209.2 426.3,208.4 426.8,207.6 427.3,206.3 427.8,210.3 428.3,210.1 428.8,209.0 429.3,209.7 429.8,210.9 430.3,210.7 430.8,209.2 431.3,209.5 431.8,210.1 432.3,210.7 432.8,210.6 433.3,209.9 433.8,210.8 434.3,208.7 434.8,209.0 435.3,211.3 435.8,207.9 436.3,210.0 436.8,207.5 437.3,210.7 437.8,208.6 438.3,211.4 438.8,211.7 439.3,207.9 439.8,210.2 440.3,210.7 440.8,211.2 441.3,211.0 441.8,209.8 442.3,210.3 442.8,212.2 443.3,211.5 443.8,208.9 444.3,209.6 444.8,212.1 445.3,212.2 445.8,211.8 446.3,212.6 446.8,209.8 447.3,211.7 447.8,212.4 448.3,210.3 448.8,210.5 449.3,212.2 449.8,211.2 450.3,211.4 450.8,211.4 451.3,211.5 451.8,209.9 452.3,212.3 452.8,212.8 453.3,213.4 453.8,212.0 454.3,212.2 454.8,213.1 455.3,213.0 455.8,213.3 456.3,213.3 456.8,210.9 457.3,211.5 457.8,210.2 458.3,212.7 458.8,213.1 459.3,212.2 459.8,213.9 460.3,213.6 460.8,212.9 461.3,213.3 461.8,213.6 462.3,211.8 462.8,213.8 463.3,212.4 463.8,213.6 464.3,214.1 464.8,212.8 465.3,213.3 465.8,212.2 466.3,211.7 466.8,213.4 467.3,213.5 467.8,212.6 468.3,213.8 468.8,214.2 469.3,212.9 469.8,212.7 470.3,211.8 470.8,213.2 471.3,213.5 471.8,214.2 472.3,214.6 472.8,214.7 473.3,213.1 473.8,214.8 474.3,213.8 474.8,213.2 475.3,214.9 475.8,213.7 476.3,214.1 476.8,214.8 477.3,214.3 477.8,214.1 478.3,214.0 478.8,214.0 479.3,213.6 479.8,214.6 480.3,214.7 480.8,215.0 481.3,213.6 481.8,214.9 482.3,213.0 482.8,214.2 483.3,214.4 483.8,214.9 484.3,213.9 484.8,210.6 485.3,214.9 485.8,215.4 486.3,214.8 486.8,213.6 487.3,215.0 487.8,215.1 488.3,214.1 488.8,214.8 489.3,215.2 489.8,212.9 490.3,213.6 490.8,215.5 491.3,213.5 491.8,215.7 492.3,214.6 492.8,215.3 493.3,214.0 493.8,214.9 494.3,215.1 494.8,215.0 495.3,215.9 495.8,215.7 496.3,212.9 496.8,213.9 497.3,213.1 497.8,214.0 498.3,215.0 498.8,216.0 499.3,215.5 499.8,215.2 500.3,214.5 500.8,212.6 501.3,214.6 501.8,212.6 502.3,214.1 502.8,216.3 503.3,215.6 503.8,216.4 504.3,215.2 504.8,216.3 505.3,214.0 505.8,215.8 506.3,214.8 506.8,215.8 507.3,216.3 507.8,215.0 508.3,214.1 508.8,214.8 509.3,215.9 509.8,216.7 510.3,216.5 510.8,216.2 511.3,214.8 511.8,216.2 512.3,215.7 512.8,216.7 513.3,216.5 513.8,215.6 514.3,212.6 514.8,214.9 515.3,216.6 515.8,215.7 516.3,215.0 516.8,215.0 517.3,216.9 517.8,214.9 518.3,216.6 518.8,216.4 519.3,216.5 519.8,215.7 520.3,217.2 520.8,216.0 521.3,217.0 521.8,216.6 522.3,216.9 522.8,216.8 523.3,215.4 523.8,217.4 524.3,215.6 524.8,217.2 525.3,216.3 525.8,217.3 526.3,217.4 526.8,215.5 527.3,217.1 527.8,211.7 528.3,216.2 528.8,216.3 529.3,216.3 529.8,215.9 530.3,215.7 530.8,217.5 531.3,217.1 531.8,216.5 532.3,216.9 532.8,217.1 533.3,217.0 533.8,215.0 534.3,215.5 534.8,215.2 535.3,217.6 535.8,217.5 536.3,216.4 536.8,217.6 537.3,216.2 537.8,214.6 538.3,216.7 538.8,217.0 539.3,217.1 539.8,216.8 540.3,217.0 540.8,217.0 541.3,216.6 541.8,216.7 542.3,217.4 542.8,215.7 543.3,217.1 543.8,217.3 544.3,214.0 544.8,216.7 545.3,215.7 545.8,217.0 546.3,216.7 546.8,216.4 547.3,217.6 547.8,216.6 548.3,216.4 548.8,217.2 549.3,216.6 549.8,216.8 550.3,216.4 550.8,216.8 551.3,216.2 551.8,217.1 552.3,217.3 552.8,214.9 553.3,217.5 553.8,217.0 554.3,216.9 554.8,217.1 555.3,216.0 555.8,217.2 556.3,216.7 556.8,216.0 557.3,215.4 557.8,217.0 558.3,217.9 558.8,217.9 559.3,217.2 559.8,216.5 560.3,215.8 560.8,215.4 561.3,217.3 561.8,217.5 562.3,217.4 562.8,217.6 563.3,217.9 563.8,217.8 564.3,217.1 564.8,218.1 565.3,217.2 565.8,216.6 566.3,216.5 566.8,216.0 567.3,217.0 567.8,216.0 568.3,217.6 568.8,218.1 569.3,217.5 569.8,217.6 570.3,217.1 570.8,217.6 571.3,217.7 571.8,217.3 572.3,216.5 572.8,217.4 573.3,217.9 573.8,218.2 574.3,215.9 574.8,215.8 575.3,217.4 575.8,216.9 576.3,217.4 576.8,217.1 577.3,217.7 577.8,217.1 578.3,217.1 578.8,218.3 579.3,215.8 579.8,217.3 580.3,218.3 580.8,217.0 581.3,214.7 581.8,216.9 582.3,218.0 582.8,218.3 583.3,218.2 583.8,217.0 584.3,217.6 584.8,218.1 585.3,217.6 585.8,217.6 586.3,218.4 586.8,218.0 587.3,218.3 587.8,217.9 588.3,216.5 588.8,216.8 589.3,217.7 589.8,217.7 590.3,218.0 590.8,217.6 591.3,217.9 591.8,217.6 592.3,217.0 592.8,217.7 593.3,216.2 593.8,217.6 594.3,218.5 594.8,216.4 595.3,218.5 595.8,217.6 596.3,216.8 596.8,217.6 597.3,215.8 597.8,217.3 598.3,217.8 598.8,215.6 599.3,218.4 599.8,217.8 600.3,218.4 600.8,217.6 601.3,218.4 601.8,217.2 602.3,216.9 602.8,217.9 603.3,216.3 603.8,216.8 604.3,216.2 604.8,217.2 605.3,215.8 605.8,217.4 606.3,218.3 606.8,217.4 607.3,216.2 607.8,217.7 608.3,218.0 608.8,218.8 609.3,218.5 609.8,216.4 610.3,218.0 610.8,217.2 611.3,217.2 611.8,218.5 612.3,216.6 612.8,217.2 613.3,218.4 613.8,216.9 614.3,216.6 614.8,217.5 615.3,217.4 615.8,216.6 616.3,218.6 616.8,218.5 617.3,218.4 617.8,217.2 618.3,218.2 618.8,216.6 619.3,218.6 619.8,218.1 620.3,216.3 620.8,217.7 621.3,219.0 621.8,218.1 622.3,216.9 622.8,218.0 623.3,217.0 623.8,217.9 624.3,218.9 624.8,217.0 625.3,218.1 625.8,218.4 626.3,218.1 626.8,218.6 627.3,218.0 627.8,217.6 628.3,218.7 628.8,218.0 629.3,218.4 629.8,219.0 630.3,216.9 630.8,218.2 631.3,217.2 631.8,217.7 632.3,219.1 632.8,218.3 633.3,218.2 633.8,218.8 634.3,217.7 634.8,216.7 635.3,216.2 635.8,217.9 636.3,219.2 636.8,218.0 637.3,216.5 637.8,218.3 638.3,218.4 638.8,216.4 639.3,218.7 639.8,216.8 640.3,217.5 640.8,219.2 641.3,218.6 641.8,219.0 642.3,219.3 642.8,218.1 643.3,219.1 643.8,218.5 644.3,219.0 644.8,219.4 645.3,218.2 645.8,217.8 646.3,218.6 646.3,223.9 645.8,224.6 645.3,223.6 644.8,223.3 644.3,224.3 643.8,225.8 643.3,223.4 642.8,224.3 642.3,223.7 641.8,223.3 641.3,224.6 640.8,225.0 640.3,223.8 639.8,223.2 639.3,223.6 638.8,223.4 638.3,224.0 637.8,223.1 637.3,224.6 636.8,224.0 636.3,224.6 635.8,224.8 635.3,223.2 634.8,226.0 634.3,223.6 633.8,223.2 633.3,224.5 632.8,223.8 632.3,223.8 631.8,223.7 631.3,223.1 630.8,223.4 630.3,223.3 629.8,223.2 629.3,224.7 628.8,224.9 628.3,223.0 627.8,224.3 627.3,223.9 626.8,223.1 626.3,223.0 625.8,223.0 625.3,223.2 624.8,224.2 624.3,223.3 623.8,224.4 623.3,223.9 622.8,225.3 622.3,223.0 621.8,224.0 621.3,223.4 620.8,223.1 620.3,223.5 619.8,223.2 619.3,223.8 618.8,223.1 618.3,224.5 617.8,224.1 617.3,223.0 616.8,223.4 616.3,223.0 615.8,223.4 615.3,223.9 614.8,223.7 614.3,223.6 613.8,223.2 613.3,224.0 612.8,223.0 612.3,223.1 611.8,223.0 611.3,223.8 610.8,222.7 610.3,222.8 609.8,223.2 609.3,222.8 608.8,223.8 608.3,222.8 607.8,223.3 607.3,223.5 606.8,223.0 606.3,223.9 605.8,223.8 605.3,223.0 604.8,223.1 604.3,224.4 603.8,224.5 603.3,224.5 602.8,225.2 602.3,223.6 601.8,223.2 601.3,223.1 600.8,223.9 600.3,222.6 599.8,223.0 599.3,223.3 598.8,223.1 598.3,223.5 597.8,223.7 597.3,223.6 596.8,222.7 596.3,223.3 595.8,223.4 595.3,223.2 594.8,222.8 594.3,222.6 593.8,223.6 593.3,223.2 592.8,223.0 592.3,222.5 591.8,223.3 591.3,223.5 590.8,223.7 590.3,223.7 589.8,224.7 589.3,223.8 588.8,223.3 588.3,222.6 587.8,222.9 587.3,223.2 586.8,222.9 586.3,223.2 585.8,222.6 585.3,223.1 584.8,224.3 584.3,223.5 583.8,223.3 583.3,223.4 582.8,223.3 582.3,224.0 581.8,223.7 581.3,223.0 580.8,224.8 580.3,224.3 579.8,222.8 579.3,225.5 578.8,222.6 578.3,223.2 577.8,223.4 577.3,222.7 576.8,224.2 576.3,222.5 575.8,222.9 575.3,222.7 574.8,223.5 574.3,222.5 573.8,222.9 573.3,222.3 572.8,224.2 572.3,223.8 571.8,224.4 571.3,222.3 570.8,224.2 570.3,222.9 569.8,222.3 569.3,222.5 568.8,223.2 568.3,223.0 567.8,223.8 567.3,222.6 566.8,222.2 566.3,222.9 565.8,223.3 565.3,222.3 564.8,222.2 564.3,222.7 563.8,223.8 563.3,222.6 562.8,222.6 562.3,222.3 561.8,222.6 561.3,222.3 560.8,222.4 560.3,223.8 559.8,222.3 559.3,222.3 558.8,222.5 558.3,222.1 557.8,222.2 557.3,223.0 556.8,223.0 556.3,222.5 555.8,222.5 555.3,222.5 554.8,223.3 554.3,224.2 553.8,223.7 553.3,222.6 552.8,222.1 552.3,222.7 551.8,223.2 551.3,223.5 550.8,223.5 550.3,222.9 549.8,223.6 549.3,225.6 548.8,223.1 548.3,223.4 547.8,223.3 547.3,222.3 546.8,222.2 546.3,223.0 545.8,222.7 545.3,223.0 544.8,222.5 544.3,223.8 543.8,223.3 543.3,223.4 542.8,222.4 542.3,222.5 541.8,222.8 541.3,222.3 540.8,221.9 540.3,223.6 539.8,221.9 539.3,222.6 538.8,222.5 538.3,222.6 537.8,223.1 537.3,222.4 536.8,223.2 536.3,223.9 535.8,222.5 535.3,223.3 534.8,222.6 534.3,223.2 533.8,224.0 533.3,222.7 532.8,221.9 532.3,222.1 531.8,222.3 531.3,222.4 530.8,224.3 530.3,223.4 529.8,221.9 529.3,223.5 528.8,222.0 528.3,222.4 527.8,222.8 527.3,221.8 526.8,222.7 526.3,222.4 525.8,222.3 525.3,221.8 524.8,222.4 524.3,222.4 523.8,222.1 523.3,221.8 522.8,222.7 522.3,222.4 521.8,222.1 521.3,222.6 520.8,222.5 520.3,221.5 519.8,222.1 519.3,221.5 518.8,222.6 518.3,221.5 517.8,222.3 517.3,222.2 516.8,222.5 516.3,222.4 515.8,221.6 515.3,222.3 514.8,222.9 514.3,223.4 513.8,221.7 513.3,222.0 512.8,221.5 512.3,224.2 511.8,222.5 511.3,221.2 510.8,221.5 510.3,221.1 509.8,222.2 509.3,221.1 508.8,221.4 508.3,221.8 507.8,221.6 507.3,221.4 506.8,223.0 506.3,222.1 505.8,222.3 505.3,222.2 504.8,221.3 504.3,221.7 503.8,221.9 503.3,221.7 502.8,220.9 502.3,220.9 501.8,221.3 501.3,220.9 500.8,221.9 500.3,221.1 499.8,220.6 499.3,221.7 498.8,221.1 498.3,221.2 497.8,223.0 497.3,222.1 496.8,221.3 496.3,222.3 495.8,221.8 495.3,222.4 494.8,220.5 494.3,222.2 493.8,221.1 493.3,221.1 492.8,220.5 492.3,220.5 491.8,220.4 491.3,220.5 490.8,222.2 490.3,221.1 489.8,221.8 489.3,220.2 488.8,221.8 488.3,221.7 487.8,221.3 487.3,222.6 486.8,220.9 486.3,221.4 485.8,220.8 485.3,223.0 484.8,220.2 484.3,220.4 483.8,220.8 483.3,220.8 482.8,220.4 482.3,221.5 481.8,220.2 481.3,220.2 480.8,219.9 480.3,219.9 479.8,220.0 479.3,221.7 478.8,221.1 478.3,220.4 477.8,221.9 477.3,220.3 476.8,220.1 476.3,221.3 475.8,220.6 475.3,220.1 474.8,222.0 474.3,221.0 473.8,219.7 473.3,219.8 472.8,220.2 472.3,221.3 471.8,219.9 471.3,220.2 470.8,222.7 470.3,219.9 469.8,220.5 469.3,219.8 468.8,219.6 468.3,219.8 467.8,219.6 467.3,220.3 466.8,221.3 466.3,220.5 465.8,219.7 465.3,219.2 464.8,219.9 464.3,219.4 463.8,220.3 463.3,219.3 462.8,221.2 462.3,220.9 461.8,219.0 461.3,220.1 460.8,220.0 460.3,219.3 459.8,219.1 459.3,219.9 458.8,220.7 458.3,219.3 457.8,221.2 457.3,220.8 456.8,218.7 456.3,219.1 455.8,219.0 455.3,219.8 454.8,219.3 454.3,218.7 453.8,218.9 453.3,218.6 452.8,219.8 452.3,219.6 451.8,218.8 451.3,218.5 450.8,219.8 450.3,220.4 449.8,220.2 449.3,219.5 448.8,220.4 448.3,218.7 447.8,218.1 447.3,222.2 446.8,220.2 446.3,218.8 445.8,219.4 445.3,217.9 444.8,218.5 444.3,218.7 443.8,219.2 443.3,217.8 442.8,218.5 442.3,218.3 441.8,219.1 441.3,217.6 440.8,219.0 440.3,218.1 439.8,217.7 439.3,217.7 438.8,219.6 438.3,217.7 437.8,218.0 437.3,218.5 436.8,218.8 436.3,218.6 435.8,217.8 435.3,218.5 434.8,217.7 434.3,216.9 433.8,219.4 433.3,217.8 432.8,217.9 432.3,217.1 431.8,219.7 431.3,218.2 430.8,218.4 430.3,218.0 429.8,217.3 429.3,216.9 428.8,217.1 428.3,217.9 427.8,216.4 427.3,217.7 426.8,216.7 426.3,216.7 425.8,217.6 425.3,217.5 424.8,217.9 424.3,217.1 423.8,217.2 423.3,216.9 422.8,216.9 422.3,216.5 421.8,216.9 421.3,216.7 420.8,216.9 420.3,216.8 419.8,218.4 419.3,219.3 418.8,216.2 418.3,215.7 417.8,215.3 417.3,217.9 416.8,215.4 416.3,216.6 415.8,214.9 415.3,216.3 414.8,215.1 414.3,215.7 413.8,216.9 413.3,215.4 412.8,215.9 412.3,214.8 411.8,218.7 411.3,215.9 410.8,215.6 410.3,214.6 409.8,214.6 409.3,217.8 408.8,216.9 408.3,218.1 407.8,214.1 407.3,215.8 406.8,215.5 406.3,213.5 405.8,213.4 405.3,213.8 404.8,214.8 404.3,212.9 403.8,213.4 403.3,214.3 402.8,213.1 402.3,213.1 401.8,213.0 401.3,213.4 400.8,212.6 400.3,214.7 399.8,212.0 399.3,213.7 398.8,211.3 398.3,212.3 397.8,212.8 397.3,211.5 396.8,211.3 396.3,211.4 395.8,210.4 395.3,212.3 394.8,210.2 394.3,211.1 393.8,209.4 393.3,209.7 392.8,210.2 392.3,211.9 391.8,208.8 391.3,208.1 390.8,208.0 390.3,207.6 389.8,207.2 389.3,208.3 388.8,205.9 388.3,208.1 387.8,205.8 387.3,208.4 386.8,207.2 386.3,206.3 385.8,206.7 385.3,204.2 384.8,203.1 384.3,203.6 383.8,202.6 383.3,201.0 382.8,203.8 382.3,204.6 381.8,200.1 381.3,200.7 380.8,199.5 380.3,195.1 379.8,197.2 379.3,192.4 378.8,190.4 378.3,189.5 377.8,188.6 377.3,186.7 376.8,188.3 376.3,185.4 375.8,180.3 375.3,175.6 374.8,178.2 374.3,169.4 373.8,163.6 373.3,165.8 372.8,154.1 372.3,150.0 371.8,139.8 371.3,122.7 370.8,110.7" fill="#a4cbf6" fill-opacity="0.9"/>
<polyline points="370.8,88.4 371.3,114.4 371.8,112.8 372.3,124.7 372.8,125.7 373.3,144.0 373.8,158.6 374.3,156.2 374.8,171.4 375.3,165.2 375.8,163.0 376.3,171.1 376.8,179.4 377.3,175.1 377.8,182.3 378.3,183.5 378.8,188.8 379.3,186.6 379.8,186.9 380.3,186.7 380.8,189.1 381.3,192.9 381.8,192.4 382.3,191.8 382.8,195.3 383.3,196.7 383.8,196.5 384.3,199.7 384.8,195.8 385.3,193.4 385.8,200.2 386.3,198.4 386.8,199.3 387.3,203.3 387.8,198.3 388.3,201.6 388.8,200.7 389.3,202.9 389.8,203.3 390.3,204.2 390.8,200.5 391.3,203.6 391.8,205.2 392.3,203.9 392.8,204.0 393.3,203.8 393.8,205.3 394.3,205.6 394.8,208.5 395.3,207.6 395.8,209.5 396.3,206.5 396.8,205.3 397.3,203.9 397.8,209.3 398.3,208.5 398.8,204.8 399.3,208.5 399.8,207.6 400.3,208.2 400.8,210.8 401.3,209.4 401.8,206.3 402.3,207.9 402.8,206.0 403.3,208.8 403.8,210.9 404.3,208.8 404.8,210.0 405.3,209.4 405.8,207.7 406.3,206.0 406.8,209.5 407.3,211.0 407.8,209.3 408.3,209.8 408.8,210.6 409.3,211.3 409.8,211.2 410.3,211.3 410.8,212.8 411.3,209.8 411.8,210.4 412.3,210.8 412.8,214.7 413.3,211.7 413.8,209.5 414.3,210.6 414.8,213.0 415.3,212.1 415.8,210.8 416.3,212.4 416.8,211.0 417.3,214.5 417.8,211.8 418.3,211.1 418.8,215.1 419.3,211.4 419.8,213.7 420.3,213.5 420.8,213.6 421.3,213.1 421.8,212.1 422.3,213.6 422.8,214.3 423.3,213.0 423.8,213.1 424.3,213.2 424.8,217.0 425.3,212.0 425.8,212.7 426.3,214.1 426.8,213.2 427.3,211.0 427.8,214.7 428.3,213.9 428.8,212.7 429.3,214.8 429.8,212.9 430.3,215.4 430.8,213.3 431.3,215.4 431.8,216.8 432.3,215.1 432.8,215.0 433.3,215.7 433.8,213.9 434.3,215.0 434.8,211.9 435.3,214.9 435.8,214.0 436.3,214.0 436.8,215.9 437.3,213.6 437.8,213.1 438.3,214.5 438.8,213.4 439.3,214.2 439.8,217.1 440.3,213.7 440.8,218.8 441.3,214.8 441.8,216.5 442.3,217.6 442.8,216.1 443.3,217.1 443.8,214.8 444.3,215.6 444.8,217.5 445.3,217.6 445.8,216.6 446.3,213.4 446.8,215.8 447.3,214.4 447.8,214.0 448.3,215.2 448.8,215.9 449.3,214.9 449.8,214.3 450.3,214.5 450.8,217.8 451.3,216.9 451.8,216.5 452.3,213.7 452.8,215.2 453.3,217.3 453.8,215.8 454.3,215.1 454.8,215.6 455.3,215.4 455.8,215.8 456.3,215.7 456.8,217.7 457.3,215.2 457.8,216.0 458.3,215.7 458.8,215.6 459.3,215.2 459.8,214.9 460.3,219.7 460.8,213.9 461.3,219.3 461.8,217.8 462.3,214.7 462.8,216.0 463.3,215.2 463.8,214.8 464.3,217.2 464.8,214.6 465.3,217.2 465.8,217.4 466.3,217.2 466.8,217.9 467.3,217.6 467.8,218.3 468.3,217.2 468.8,218.1 469.3,218.3 469.8,216.0 470.3,216.7 470.8,218.4 471.3,214.0 471.8,217.7 472.3,216.5 472.8,215.1 473.3,217.8 473.8,220.4 474.3,215.4 474.8,213.5 475.3,216.2 475.8,219.2 476.3,215.8 476.8,217.1 477.3,216.7 477.8,218.3 478.3,219.4 478.8,218.4 479.3,218.0 479.8,217.1 480.3,219.5 480.8,219.4 481.3,217.8 481.8,216.9 482.3,217.1 482.8,218.4 483.3,217.7 483.8,217.3 484.3,218.1 484.8,220.1 485.3,217.6 485.8,217.7 486.3,218.0 486.8,217.4 487.3,217.5 487.8,217.8 488.3,216.3 488.8,218.9 489.3,217.6 489.8,218.7 490.3,219.4 490.8,216.7 491.3,217.7 491.8,217.5 492.3,216.7 492.8,216.8 493.3,218.9 493.8,220.9 494.3,218.3 494.8,219.1 495.3,219.0 495.8,216.2 496.3,218.8 496.8,218.7 497.3,217.4 497.8,218.4 498.3,219.3 498.8,216.0 499.3,219.8 499.8,217.8 500.3,218.0 500.8,216.7 501.3,219.7 501.8,218.4 502.3,218.9 502.8,220.3 503.3,218.7 503.8,219.0 504.3,218.2 504.8,219.2 505.3,219.0 505.8,217.2 506.3,216.5 506.8,217.7 507.3,218.3 507.8,220.4 508.3,219.7 508.8,217.8 509.3,217.9 509.8,218.9 510.3,217.6 510.8,220.1 511.3,220.2 511.8,220.3 512.3,218.3 512.8,219.2 513.3,219.0 513.8,218.4 514.3,218.4 514.8,221.0 515.3,219.0 515.8,217.8 516.3,219.0 516.8,219.1 517.3,216.5 517.8,220.2 518.3,219.4 518.8,219.7 519.3,218.9 519.8,220.1 520.3,219.4 520.8,219.8 521.3,218.3 521.8,218.7 522.3,217.8 522.8,218.9 523.3,220.3 523.8,219.5 524.3,219.5 524.8,220.2 525.3,218.1 525.8,220.4 526.3,219.8 526.8,219.7 527.3,222.0 527.8,219.6 528.3,217.5 528.8,218.7 529.3,219.9 529.8,221.4 530.3,220.1 530.8,217.8 531.3,220.1 531.8,220.5 532.3,221.2 532.8,219.8 533.3,220.1 533.8,218.6 534.3,220.0 534.8,218.8 535.3,220.5 535.8,217.9 536.3,217.8 536.8,220.5 537.3,219.8 537.8,218.1 538.3,219.3 538.8,218.6 539.3,219.5 539.8,220.9 540.3,219.7 540.8,218.4 541.3,217.1 541.8,218.0 542.3,219.3 542.8,218.8 543.3,218.8 543.8,218.2 544.3,219.3 544.8,217.9 545.3,219.8 545.8,219.2 546.3,219.1 546.8,220.1 547.3,219.6 547.8,219.5 548.3,219.1 548.8,220.3 549.3,219.6 549.8,220.3 550.3,220.9 550.8,217.9 551.3,220.6 551.8,218.9 552.3,220.5 552.8,220.0 553.3,220.7 553.8,220.8 554.3,220.5 554.8,219.7 555.3,221.7 555.8,219.5 556.3,220.4 556.8,221.4 557.3,221.5 557.8,221.1 558.3,219.9 558.8,219.5 559.3,220.4 559.8,221.5 560.3,220.8 560.8,219.0 561.3,220.8 561.8,221.1 562.3,221.2 562.8,217.7 563.3,219.6 563.8,220.9 564.3,219.3 564.8,221.7 565.3,219.9 565.8,221.2 566.3,223.1 566.8,220.3 567.3,222.3 567.8,218.8 568.3,219.8 568.8,220.3 569.3,221.0 569.8,220.6 570.3,220.5 570.8,220.3 571.3,219.4 571.8,219.5 572.3,220.2 572.8,221.2 573.3,222.0 573.8,221.9 574.3,218.4 574.8,219.8 575.3,219.3 575.8,221.3 576.3,220.3 576.8,220.3 577.3,219.8 577.8,221.5 578.3,220.3 578.8,222.4 579.3,220.9 579.8,219.8 580.3,220.8 580.8,220.6 581.3,220.9 581.8,219.2 582.3,220.1 582.8,221.6 583.3,220.3 583.8,219.3 584.3,220.1 584.8,220.8 585.3,221.5 585.8,220.1 586.3,220.7 586.8,220.1 587.3,220.9 587.8,221.1 588.3,221.6 588.8,220.4 589.3,218.2 589.8,220.5 590.3,221.2 590.8,220.0 591.3,219.4 591.8,221.1 592.3,218.9 592.8,218.7 593.3,221.1 593.8,219.0 594.3,220.7 594.8,221.2 595.3,219.2 595.8,218.2 596.3,219.9 596.8,221.5 597.3,219.4 597.8,220.3 598.3,220.1 598.8,219.9 599.3,222.4 599.8,220.4 600.3,220.8 600.8,222.0 601.3,222.3 601.8,223.1 602.3,222.0 602.8,221.6 603.3,221.3 603.8,219.6 604.3,221.6 604.8,220.6 605.3,221.7 605.8,221.4 606.3,221.7 606.8,220.3 607.3,219.7 607.8,220.3 608.3,219.8 608.8,221.6 609.3,220.2 609.8,220.3 610.3,222.6 610.8,220.8 611.3,219.5 611.8,218.7 612.3,221.2 612.8,222.3 613.3,220.0 613.8,220.8 614.3,220.6 614.8,221.2 615.3,219.3 615.8,220.7 616.3,219.0 616.8,222.1 617.3,221.6 617.8,220.3 618.3,220.5 618.8,221.1 619.3,221.7 619.8,219.2 620.3,220.3 620.8,220.1 621.3,221.3 621.8,221.8 622.3,222.8 622.8,220.3 623.3,221.0 623.8,220.7 624.3,219.9 624.8,221.3 625.3,221.2 625.8,221.0 626.3,219.9 626.8,222.1 627.3,221.4 627.8,221.1 628.3,219.8 628.8,223.3 629.3,221.3 629.8,221.4 630.3,220.8 630.8,221.8 631.3,220.6 631.8,221.5 632.3,222.1 632.8,220.5 633.3,220.1 633.8,221.1 634.3,221.2 634.8,222.4 635.3,222.2 635.8,221.7 636.3,222.7 636.8,221.4 637.3,222.3 637.8,221.6 638.3,222.2 638.8,220.7 639.3,220.7 639.8,220.8 640.3,221.7 640.8,220.8 641.3,221.3 641.8,221.9 642.3,220.3 642.8,220.8 643.3,221.0 643.8,221.5 644.3,222.1 644.8,222.2 645.3,221.6 645.8,221.5 646.3,220.4" fill="none" stroke="#9cc6f5" stroke-width="1"/>
<polygon points="370.8,67.2 371.3,111.2 371.8,140.4 372.3,148.1 372.8,166.5 373.3,171.2 373.8,179.5 374.3,185.1 374.8,187.0 375.3,190.9 375.8,193.7 376.3,197.9 376.8,199.7 377.3,200.9 377.8,202.2 378.3,200.5 378.8,200.7 379.3,203.5 379.8,205.3 380.3,206.5 380.8,203.3 381.3,206.2 381.8,208.4 382.3,204.0 382.8,208.7 383.3,207.8 383.8,210.1 384.3,208.7 384.8,208.1 385.3,206.7 385.8,210.8 386.3,210.7 386.8,211.3 387.3,209.9 387.8,211.1 388.3,210.9 388.8,212.0 389.3,210.9 389.8,212.8 390.3,212.8 390.8,213.3 391.3,212.3 391.8,214.4 392.3,214.3 392.8,211.7 393.3,215.3 393.8,214.7 394.3,215.1 394.8,214.5 395.3,215.2 395.8,214.2 396.3,212.6 396.8,215.4 397.3,215.2 397.8,215.4 398.3,216.4 398.8,214.7 399.3,216.0 399.8,212.9 400.3,215.7 400.8,214.7 401.3,215.5 401.8,216.7 402.3,216.9 402.8,215.5 403.3,216.9 403.8,217.0 404.3,216.1 404.8,216.5 405.3,217.1 405.8,217.7 406.3,215.8 406.8,217.8 407.3,217.0 407.8,217.1 408.3,216.6 408.8,217.6 409.3,216.9 409.8,217.1 410.3,217.2 410.8,217.4 411.3,218.3 411.8,216.5 412.3,216.8 412.8,218.6 413.3,218.7 413.8,218.4 414.3,218.6 414.8,218.8 415.3,217.1 415.8,218.3 416.3,218.6 416.8,218.9 417.3,217.8 417.8,218.7 418.3,218.5 418.8,217.9 419.3,219.0 419.8,218.9 420.3,218.7 420.8,219.1 421.3,219.4 421.8,219.0 422.3,218.7 422.8,219.3 423.3,219.2 423.8,219.5 424.3,218.7 424.8,218.6 425.3,218.3 425.8,218.8 426.3,218.7 426.8,219.3 427.3,217.1 427.8,219.7 428.3,219.9 428.8,218.2 429.3,219.9 429.8,218.5 430.3,219.6 430.8,218.9 431.3,218.4 431.8,220.1 432.3,218.9 432.8,219.5 433.3,219.4 433.8,218.4 434.3,220.1 434.8,220.2 435.3,219.2 435.8,220.3 436.3,220.2 436.8,220.5 437.3,220.1 437.8,219.7 438.3,219.8 438.8,220.7 439.3,220.1 439.8,220.8 440.3,219.3 440.8,220.2 441.3,219.7 441.8,220.1 442.3,220.2 442.8,220.2 443.3,220.5 443.8,219.7 444.3,220.9 444.8,220.9 445.3,220.1 445.8,220.2 446.3,221.2 446.8,219.6 447.3,220.4 447.8,221.4 448.3,220.4 448.8,220.6 449.3,220.3 449.8,221.2 450.3,220.6 450.8,221.2 451.3,221.4 451.8,220.9 452.3,221.7 452.8,220.8 453.3,220.7 453.8,221.7 454.3,221.8 454.8,221.1 455.3,220.8 455.8,221.6 456.3,220.9 456.8,221.8 457.3,220.7 457.8,222.1 458.3,221.7 458.8,222.0 459.3,220.9 459.8,221.5 460.3,221.5 460.8,221.2 461.3,222.1 461.8,221.6 462.3,221.9 462.8,221.9 463.3,222.0 463.8,221.5 464.3,220.8 464.8,221.5 465.3,222.0 465.8,219.9 466.3,221.9 466.8,222.1 467.3,221.6 467.8,222.4 468.3,221.8 468.8,222.4 469.3,221.3 469.8,221.5 470.3,221.7 470.8,222.4 471.3,220.7 471.8,222.2 472.3,222.5 472.8,220.4 473.3,221.5 473.8,222.0 474.3,221.0 474.8,222.1 475.3,221.8 475.8,222.0 476.3,222.4 476.8,222.1 477.3,222.4 477.8,222.3 478.3,222.5 478.8,221.5 479.3,221.1 479.8,222.2 480.3,220.8 480.8,221.3 481.3,220.5 481.8,221.8 482.3,222.4 482.8,221.9 483.3,219.6 483.8,221.3 484.3,221.2 484.8,222.6 485.3,222.6 485.8,222.7 486.3,222.1 486.8,220.8 487.3,222.5 487.8,221.0 488.3,222.9 488.8,222.6 489.3,222.2 489.8,221.6 490.3,222.7 490.8,221.5 491.3,222.5 491.8,222.2 492.3,221.7 492.8,222.2 493.3,222.4 493.8,222.8 494.3,223.1 494.8,222.7 495.3,223.2 495.8,223.2 496.3,221.5 496.8,222.1 497.3,222.8 497.8,222.6 498.3,222.7 498.8,222.5 499.3,221.7 499.8,222.2 500.3,223.4 500.8,222.0 501.3,221.8 501.8,223.2 502.3,221.7 502.8,222.0 503.3,223.0 503.8,222.6 504.3,222.8 504.8,223.6 505.3,221.4 505.8,223.6 506.3,222.8 506.8,222.7 507.3,223.2 507.8,223.5 508.3,222.5 508.8,221.5 509.3,222.3 509.8,222.8 510.3,222.6 510.8,223.8 511.3,222.5 511.8,223.1 512.3,221.6 512.8,223.8 513.3,223.5 513.8,222.5 514.3,222.9 514.8,222.5 515.3,222.3 515.8,221.8 516.3,223.4 516.8,223.6 517.3,222.9 517.8,222.5 518.3,223.6 518.8,222.7 519.3,223.8 519.8,224.0 520.3,222.9 520.8,224.0 521.3,222.7 521.8,223.2 522.3,223.9 522.8,221.8 523.3,222.0 523.8,224.1 524.3,223.5 524.8,222.4 525.3,222.5 525.8,223.5 526.3,223.6 526.8,223.2 527.3,224.0 527.8,224.1 528.3,224.2 528.8,223.8 529.3,223.0 529.8,223.4 530.3,223.7 530.8,223.4 531.3,224.2 531.8,221.6 532.3,222.8 532.8,224.2 533.3,223.2 533.8,224.0 534.3,223.9 534.8,223.6 535.3,224.1 535.8,221.7 536.3,221.4 536.8,222.2 537.3,224.2 537.8,224.1 538.3,223.0 538.8,223.9 539.3,223.9 539.8,224.2 540.3,222.6 540.8,223.0 541.3,223.5 541.8,223.8 542.3,223.7 542.8,223.7 543.3,223.2 543.8,223.8 544.3,223.9 544.8,223.5 545.3,224.0 545.8,223.9 546.3,223.5 546.8,223.1 547.3,224.2 547.8,224.2 548.3,223.4 548.8,223.1 549.3,223.6 549.8,222.9 550.3,223.4 550.8,223.9 551.3,224.3 551.8,224.0 552.3,224.1 552.8,223.9 553.3,223.3 553.8,223.1 554.3,223.4 554.8,223.5 555.3,223.9 555.8,223.3 556.3,222.6 556.8,224.4 557.3,223.5 557.8,223.6 558.3,224.4 558.8,223.8 559.3,224.4 559.8,224.3 560.3,222.3 560.8,223.0 561.3,224.1 561.8,223.7 562.3,223.8 562.8,223.2 563.3,223.1 563.8,223.9 564.3,223.4 564.8,224.2 565.3,222.5 565.8,223.1 566.3,222.0 566.8,224.0 567.3,224.5 567.8,223.9 568.3,223.4 568.8,223.8 569.3,223.3 569.8,223.2 570.3,224.6 570.8,223.3 571.3,224.6 571.8,223.2 572.3,224.0 572.8,223.6 573.3,223.2 573.8,224.1 574.3,222.1 574.8,224.5 575.3,223.2 575.8,223.2 576.3,224.3 576.8,223.6 577.3,224.5 577.8,223.0 578.3,222.9 578.8,224.5 579.3,223.0 579.8,223.4 580.3,224.6 580.8,222.3 581.3,223.5 581.8,224.4 582.3,222.9 582.8,222.9 583.3,224.4 583.8,223.0 584.3,224.6 584.8,223.7 585.3,224.3 585.8,223.3 586.3,223.8 586.8,224.3 587.3,224.3 587.8,223.9 588.3,224.3 588.8,224.7 589.3,223.5 589.8,224.4 590.3,223.7 590.8,223.6 591.3,223.6 591.8,223.7 592.3,222.9 592.8,223.7 593.3,224.6 593.8,224.3 594.3,224.4 594.8,223.7 595.3,223.3 595.8,224.7 596.3,224.1 596.8,223.7 597.3,224.1 597.8,224.3 598.3,223.6 598.8,224.6 599.3,224.4 599.8,224.5 600.3,223.1 600.8,224.8 601.3,224.6 601.8,224.3 602.3,223.9 602.8,224.3 603.3,224.1 603.8,223.3 604.3,223.8 604.8,224.1 605.3,223.0 605.8,224.6 606.3,223.6 606.8,224.0 607.3,224.5 607.8,224.0 608.3,224.3 608.8,223.9 609.3,224.1 609.8,224.7 610.3,224.3 610.8,224.6 611.3,223.9 611.8,223.9 612.3,224.5 612.8,223.2 613.3,223.3 613.8,224.6 614.3,224.8 614.8,224.5 615.3,224.7 615.8,224.5 616.3,224.4 616.8,223.7 617.3,224.6 617.8,223.7 618.3,224.0 618.8,224.1 619.3,224.5 619.8,224.5 620.3,224.3 620.8,224.3 621.3,224.9 621.8,224.3 622.3,224.8 622.8,223.7 623.3,224.8 623.8,223.5 624.3,223.2 624.8,223.4 625.3,225.0 625.8,223.9 626.3,224.7 626.8,224.5 627.3,223.9 627.8,224.2 628.3,223.9 628.8,224.0 629.3,224.6 629.8,223.7 630.3,224.7 630.8,225.0 631.3,224.4 631.8,224.4 632.3,224.6 632.8,224.5 633.3,224.2 633.8,225.0 634.3,223.6 634.8,224.2 635.3,224.3 635.8,224.1 636.3,224.7 636.8,222.4 637.3,224.7 637.8,223.7 638.3,224.4 638.8,224.1 639.3,224.4 639.8,223.8 640.3,224.7 640.8,223.7 641.3,225.0 641.8,223.7 642.3,224.4 642.8,224.8 643.3,224.1 643.8,224.0 644.3,224.8 644.8,224.4 645.3,224.5 645.8,224.6 646.3,224.2 646.3,228.3 645.8,229.3 645.3,229.5 644.8,228.2 644.3,229.3 643.8,229.6 643.3,228.7 642.8,228.5 642.3,228.6 641.8,229.2 641.3,228.5 640.8,229.0 640.3,228.8 639.8,228.8 639.3,228.3 638.8,228.6 638.3,228.6 637.8,229.2 637.3,229.5 636.8,229.3 636.3,229.3 635.8,228.5 635.3,229.0 634.8,228.9 634.3,228.8 633.8,229.0 633.3,228.5 632.8,228.4 632.3,228.2 631.8,228.2 631.3,228.5 630.8,228.8 630.3,228.3 629.8,228.5 629.3,228.6 628.8,228.8 628.3,229.0 627.8,228.8 627.3,228.6 626.8,229.0 626.3,228.2 625.8,228.1 625.3,230.1 624.8,228.7 624.3,230.0 623.8,228.5 623.3,228.6 622.8,228.4 622.3,229.3 621.8,229.3 621.3,228.1 620.8,228.9 620.3,228.4 619.8,228.2 619.3,228.1 618.8,228.3 618.3,228.2 617.8,228.8 617.3,228.4 616.8,228.5 616.3,228.6 615.8,228.3 615.3,228.8 614.8,228.3 614.3,228.4 613.8,228.1 613.3,228.7 612.8,229.8 612.3,229.5 611.8,228.7 611.3,228.1 610.8,230.5 610.3,228.3 609.8,228.1 609.3,228.1 608.8,228.9 608.3,228.3 607.8,228.5 607.3,228.2 606.8,228.3 606.3,228.9 605.8,228.8 605.3,229.2 604.8,228.1 604.3,228.3 603.8,228.2 603.3,228.8 602.8,228.6 602.3,229.0 601.8,228.7 601.3,228.2 600.8,228.4 600.3,228.5 599.8,228.5 599.3,228.3 598.8,228.0 598.3,228.1 597.8,228.2 597.3,229.6 596.8,228.0 596.3,228.4 595.8,228.0 595.3,228.5 594.8,229.2 594.3,228.0 593.8,229.5 593.3,228.0 592.8,228.1 592.3,229.1 591.8,228.2 591.3,228.2 590.8,227.9 590.3,228.4 589.8,228.3 589.3,228.7 588.8,227.9 588.3,229.1 587.8,228.9 587.3,227.9 586.8,228.2 586.3,228.2 585.8,229.3 585.3,228.7 584.8,227.9 584.3,230.3 583.8,228.2 583.3,228.7 582.8,228.3 582.3,228.9 581.8,227.8 581.3,229.1 580.8,228.9 580.3,228.0 579.8,228.0 579.3,228.6 578.8,228.1 578.3,228.2 577.8,229.0 577.3,228.6 576.8,228.9 576.3,228.5 575.8,228.3 575.3,228.1 574.8,227.9 574.3,228.7 573.8,228.2 573.3,228.7 572.8,228.2 572.3,228.1 571.8,229.6 571.3,228.0 570.8,228.1 570.3,228.8 569.8,227.9 569.3,228.3 568.8,228.0 568.3,229.1 567.8,228.3 567.3,228.4 566.8,228.2 566.3,227.9 565.8,228.4 565.3,228.0 564.8,228.4 564.3,229.2 563.8,227.7 563.3,228.4 562.8,228.1 562.3,228.2 561.8,227.9 561.3,228.3 560.8,227.9 560.3,228.1 559.8,228.8 559.3,228.1 558.8,228.5 558.3,228.8 557.8,227.9 557.3,227.7 556.8,228.0 556.3,227.7 555.8,228.2 555.3,229.2 554.8,228.9 554.3,228.1 553.8,227.9 553.3,227.8 552.8,227.8 552.3,228.1 551.8,228.0 551.3,227.8 550.8,228.6 550.3,228.4 549.8,228.4 549.3,228.9 548.8,228.2 548.3,228.4 547.8,228.0 547.3,227.7 546.8,228.4 546.3,228.2 545.8,228.1 545.3,228.1 544.8,228.0 544.3,228.3 543.8,228.2 543.3,229.2 542.8,228.8 542.3,227.7 541.8,227.8 541.3,228.0 540.8,228.8 540.3,228.0 539.8,227.7 539.3,229.2 538.8,228.9 538.3,228.0 537.8,229.2 537.3,227.7 536.8,228.3 536.3,228.2 535.8,227.9 535.3,228.1 534.8,228.0 534.3,228.1 533.8,227.9 533.3,227.6 532.8,227.8 532.3,227.7 531.8,228.6 531.3,227.9 530.8,228.8 530.3,227.9 529.8,227.9 529.3,227.6 528.8,227.7 528.3,227.6 527.8,227.7 527.3,228.6 526.8,227.7 526.3,228.2 525.8,227.6 525.3,228.8 524.8,228.7 524.3,228.3 523.8,228.0 523.3,228.2 522.8,227.7 522.3,227.9 521.8,228.6 521.3,227.6 520.8,227.5 520.3,228.4 519.8,229.4 519.3,227.4 518.8,228.5 518.3,228.0 517.8,227.5 517.3,227.6 516.8,228.6 516.3,228.1 515.8,227.3 515.3,227.3 514.8,227.9 514.3,227.8 513.8,227.5 513.3,228.1 512.8,227.9 512.3,227.5 511.8,227.4 511.3,227.7 510.8,227.4 510.3,227.8 509.8,228.4 509.3,227.6 508.8,227.9 508.3,227.8 507.8,227.7 507.3,227.5 506.8,228.1 506.3,228.4 505.8,228.0 505.3,228.3 504.8,228.8 504.3,227.6 503.8,227.4 503.3,227.5 502.8,229.1 502.3,228.7 501.8,227.5 501.3,227.2 500.8,227.0 500.3,228.5 499.8,228.3 499.3,229.0 498.8,227.9 498.3,227.0 497.8,228.0 497.3,228.2 496.8,227.9 496.3,228.6 495.8,227.3 495.3,227.2 494.8,227.0 494.3,227.8 493.8,227.9 493.3,227.1 492.8,228.0 492.3,227.8 491.8,227.1 491.3,227.5 490.8,227.2 490.3,227.0 489.8,227.5 489.3,227.3 488.8,228.7 488.3,228.1 487.8,227.4 487.3,227.5 486.8,227.3 486.3,227.9 485.8,227.2 485.3,227.0 484.8,226.7 484.3,226.9 483.8,228.9 483.3,227.0 482.8,226.8 482.3,227.2 481.8,226.7 481.3,227.7 480.8,227.7 480.3,228.0 479.8,227.3 479.3,227.1 478.8,226.6 478.3,226.6 477.8,227.0 477.3,226.7 476.8,227.7 476.3,226.6 475.8,227.1 475.3,227.1 474.8,227.1 474.3,228.3 473.8,227.6 473.3,228.3 472.8,227.4 472.3,226.6 471.8,228.1 471.3,227.3 470.8,226.5 470.3,226.9 469.8,226.5 469.3,227.5 468.8,226.6 468.3,227.1 467.8,226.8 467.3,227.5 466.8,226.6 466.3,227.3 465.8,226.6 465.3,227.9 464.8,227.9 464.3,226.2 463.8,226.6 463.3,226.4 462.8,226.9 462.3,227.8 461.8,227.0 461.3,226.4 460.8,226.8 460.3,226.2 459.8,226.1 459.3,227.4 458.8,226.4 458.3,226.0 457.8,226.7 457.3,227.0 456.8,226.1 456.3,226.3 455.8,225.8 455.3,226.6 454.8,226.1 454.3,226.3 453.8,225.8 453.3,227.4 452.8,226.2 452.3,226.9 451.8,225.8 451.3,226.8 450.8,227.0 450.3,226.9 449.8,225.8 449.3,225.9 448.8,226.7 448.3,226.0 447.8,225.5 447.3,228.2 446.8,226.0 446.3,226.5 445.8,225.4 445.3,225.6 444.8,225.6 444.3,226.2 443.8,226.7 443.3,225.6 442.8,226.4 442.3,225.9 441.8,225.6 441.3,226.3 440.8,226.3 440.3,225.8 439.8,225.8 439.3,225.2 438.8,225.5 438.3,225.9 437.8,225.1 437.3,227.5 436.8,225.6 436.3,224.9 435.8,226.8 435.3,224.8 434.8,224.9 434.3,225.2 433.8,225.5 433.3,226.4 432.8,225.8 432.3,224.7 431.8,225.0 431.3,224.9 430.8,226.3 430.3,224.5 429.8,225.3 429.3,225.6 428.8,224.4 428.3,224.6 427.8,225.8 427.3,225.4 426.8,224.8 426.3,225.4 425.8,224.2 425.3,225.2 424.8,226.3 424.3,224.6 423.8,224.4 423.3,224.2 422.8,224.5 422.3,224.2 421.8,224.6 421.3,224.6 420.8,225.4 420.3,224.7 419.8,224.5 419.3,223.8 418.8,223.9 418.3,224.6 417.8,224.0 417.3,223.7 416.8,224.1 416.3,226.4 415.8,224.1 415.3,224.7 414.8,224.3 414.3,223.7 413.8,223.9 413.3,223.7 412.8,224.6 412.3,224.0 411.8,224.2 411.3,224.2 410.8,223.4 410.3,223.6 409.8,224.3 409.3,223.1 408.8,224.2 408.3,223.4 407.8,223.4 407.3,223.1 406.8,224.2 406.3,222.7 405.8,223.5 405.3,223.7 404.8,223.0 404.3,223.1 403.8,222.8 403.3,222.5 402.8,224.7 402.3,225.2 401.8,223.5 401.3,223.6 400.8,222.2 400.3,222.5 399.8,223.7 399.3,222.4 398.8,222.9 398.3,221.8 397.8,222.1 397.3,222.2 396.8,222.3 396.3,222.0 395.8,222.1 395.3,222.0 394.8,222.3 394.3,221.4 393.8,223.2 393.3,221.3 392.8,221.3 392.3,223.1 391.8,221.8 391.3,221.1 390.8,221.0 390.3,221.5 389.8,220.0 389.3,219.9 388.8,219.5 388.3,219.3 387.8,220.1 387.3,218.7 386.8,218.7 386.3,221.6 385.8,221.4 385.3,217.5 384.8,218.8 384.3,217.8 383.8,217.2 383.3,217.3 382.8,217.7 382.3,216.3 381.8,216.5 381.3,217.7 380.8,217.6 380.3,216.5 379.8,216.0 379.3,214.6 378.8,213.5 378.3,213.5 377.8,212.9 377.3,211.7 376.8,210.3 376.3,207.8 375.8,205.4 375.3,204.6 374.8,202.6 374.3,200.7 373.8,196.4 373.3,192.7 372.8,185.0 372.3,174.9 371.8,168.7 371.3,152.1 370.8,110.9" fill="#7d93e3" fill-opacity="0.9"/>
<polyline points="370.8,89.7 371.3,126.2 371.8,158.0 372.3,156.4 372.8,177.3 373.3,180.5 373.8,188.7 374.3,193.4 374.8,196.4 375.3,200.1 375.8,200.9 376.3,202.1 376.8,207.4 377.3,204.9 377.8,205.5 378.3,208.1 378.8,207.2 379.3,208.1 379.8,208.1 380.3,210.0 380.8,211.7 381.3,212.7 381.8,212.5 382.3,212.6 382.8,211.7 383.3,214.2 383.8,214.3 384.3,214.4 384.8,212.0 385.3,210.4 385.8,216.1 386.3,216.9 386.8,217.4 387.3,215.6 387.8,215.6 388.3,215.9 388.8,216.9 389.3,216.6 389.8,216.6 390.3,213.9 390.8,217.5 391.3,216.8 391.8,218.3 392.3,217.7 392.8,217.7 393.3,215.0 393.8,219.3 394.3,218.7 394.8,219.4 395.3,218.1 395.8,218.6 396.3,220.1 396.8,218.7 397.3,218.8 397.8,219.1 398.3,219.6 398.8,218.5 399.3,219.3 399.8,219.4 400.3,219.5 400.8,220.4 401.3,220.0 401.8,219.9 402.3,220.7 402.8,219.3 403.3,221.4 403.8,219.4 404.3,220.8 404.8,221.1 405.3,220.3 405.8,220.6 406.3,219.6 406.8,221.4 407.3,221.6 407.8,220.4 408.3,218.8 408.8,221.8 409.3,219.4 409.8,218.4 410.3,221.3 410.8,219.5 411.3,220.9 411.8,221.4 412.3,221.3 412.8,221.3 413.3,222.0 413.8,221.1 414.3,221.7 414.8,219.2 415.3,219.8 415.8,221.3 416.3,221.4 416.8,220.4 417.3,218.7 417.8,219.7 418.3,220.7 418.8,219.7 419.3,223.2 419.8,223.2 420.3,221.2 420.8,222.5 421.3,221.7 421.8,222.0 422.3,221.6 422.8,221.5 423.3,222.2 423.8,222.3 424.3,221.1 424.8,222.1 425.3,222.3 425.8,222.4 426.3,222.9 426.8,223.2 427.3,220.8 427.8,223.5 428.3,222.1 428.8,222.3 429.3,222.5 429.8,222.0 430.3,219.8 430.8,220.7 431.3,222.7 431.8,224.0 432.3,222.3 432.8,222.7 433.3,223.4 433.8,221.9 434.3,222.9 434.8,223.1 435.3,221.0 435.8,221.8 436.3,223.0 436.8,221.4 437.3,222.6 437.8,223.3 438.3,223.4 438.8,223.3 439.3,223.2 439.8,223.8 440.3,223.4 440.8,224.3 441.3,224.4 441.8,222.8 442.3,222.6 442.8,223.3 443.3,224.3 443.8,223.5 444.3,224.6 444.8,224.5 445.3,224.0 445.8,223.1 446.3,221.6 446.8,222.9 447.3,224.0 447.8,224.5 448.3,223.1 448.8,222.8 449.3,224.0 449.8,222.9 450.3,222.8 450.8,223.8 451.3,223.8 451.8,224.6 452.3,225.1 452.8,224.1 453.3,223.9 453.8,224.5 454.3,224.5 454.8,223.3 455.3,224.3 455.8,222.0 456.3,223.8 456.8,223.3 457.3,224.5 457.8,224.5 458.3,224.8 458.8,225.1 459.3,223.2 459.8,223.5 460.3,224.8 460.8,224.1 461.3,224.1 461.8,224.8 462.3,224.2 462.8,225.1 463.3,224.3 463.8,223.8 464.3,224.6 464.8,223.4 465.3,223.8 465.8,225.6 466.3,224.2 466.8,224.6 467.3,224.7 467.8,225.6 468.3,223.8 468.8,225.3 469.3,223.9 469.8,224.0 470.3,223.6 470.8,224.9 471.3,223.7 471.8,225.3 472.3,223.3 472.8,224.3 473.3,224.6 473.8,224.5 474.3,223.9 474.8,225.3 475.3,224.6 475.8,225.1 476.3,224.7 476.8,225.3 477.3,224.6 477.8,224.0 478.3,225.4 478.8,224.8 479.3,223.9 479.8,224.5 480.3,223.9 480.8,225.8 481.3,225.5 481.8,224.8 482.3,223.9 482.8,225.3 483.3,224.1 483.8,225.6 484.3,223.7 484.8,225.7 485.3,223.7 485.8,225.3 486.3,225.2 486.8,225.6 487.3,225.1 487.8,223.2 488.3,224.6 488.8,225.2 489.3,225.4 489.8,224.4 490.3,226.1 490.8,224.6 491.3,224.7 491.8,225.3 492.3,224.9 492.8,225.2 493.3,224.7 493.8,225.1 494.3,224.5 494.8,225.5 495.3,224.9 495.8,225.2 496.3,225.8 496.8,226.0 497.3,224.4 497.8,227.0 498.3,227.2 498.8,224.7 499.3,224.5 499.8,224.6 500.3,224.1 500.8,224.9 501.3,224.6 501.8,225.3 502.3,224.9 502.8,224.0 503.3,225.0 503.8,226.1 504.3,226.4 504.8,224.8 505.3,226.4 505.8,226.0 506.3,226.1 506.8,223.8 507.3,225.7 507.8,225.8 508.3,224.9 508.8,225.4 509.3,227.1 509.8,226.0 510.3,227.5 510.8,225.6 511.3,225.2 511.8,225.8 512.3,224.3 512.8,227.6 513.3,224.6 513.8,226.0 514.3,225.7 514.8,226.2 515.3,225.8 515.8,225.5 516.3,226.8 516.8,226.3 517.3,226.6 517.8,226.7 518.3,225.6 518.8,226.0 519.3,225.4 519.8,226.0 520.3,225.8 520.8,224.2 521.3,225.1 521.8,226.6 522.3,226.5 522.8,225.7 523.3,225.4 523.8,226.5 524.3,226.9 524.8,226.1 525.3,224.9 525.8,225.7 526.3,226.3 526.8,226.1 527.3,226.5 527.8,225.5 528.3,227.1 528.8,226.2 529.3,225.6 529.8,226.3 530.3,225.4 530.8,225.3 531.3,224.8 531.8,226.1 532.3,226.8 532.8,227.0 533.3,226.1 533.8,227.4 534.3,225.2 534.8,226.7 535.3,226.8 535.8,226.5 536.3,225.9 536.8,226.5 537.3,225.9 537.8,226.4 538.3,225.7 538.8,225.1 539.3,226.7 539.8,226.1 540.3,227.3 540.8,226.2 541.3,224.9 541.8,225.4 542.3,224.7 542.8,225.9 543.3,226.8 543.8,225.3 544.3,224.5 544.8,226.1 545.3,226.6 545.8,227.1 546.3,225.9 546.8,225.1 547.3,226.9 547.8,226.4 548.3,226.6 548.8,225.5 549.3,226.4 549.8,225.1 550.3,226.7 550.8,226.2 551.3,226.1 551.8,226.3 552.3,226.0 552.8,226.1 553.3,225.6 553.8,226.3 554.3,226.2 554.8,226.5 555.3,225.5 555.8,225.7 556.3,227.3 556.8,225.6 557.3,225.2 557.8,227.0 558.3,226.4 558.8,225.6 559.3,225.9 559.8,226.3 560.3,225.0 560.8,226.3 561.3,225.8 561.8,225.0 562.3,226.4 562.8,225.6 563.3,226.8 563.8,226.5 564.3,226.0 564.8,226.5 565.3,226.4 565.8,226.3 566.3,226.7 566.8,225.8 567.3,225.0 567.8,226.5 568.3,227.6 568.8,226.7 569.3,226.7 569.8,225.7 570.3,226.0 570.8,227.2 571.3,226.1 571.8,227.3 572.3,225.8 572.8,225.3 573.3,227.1 573.8,225.9 574.3,226.6 574.8,226.7 575.3,226.2 575.8,226.0 576.3,226.6 576.8,226.7 577.3,226.6 577.8,225.9 578.3,224.8 578.8,225.7 579.3,227.9 579.8,226.2 580.3,227.8 580.8,225.5 581.3,225.9 581.8,225.6 582.3,225.5 582.8,226.2 583.3,226.4 583.8,225.3 584.3,226.5 584.8,225.8 585.3,226.8 585.8,226.8 586.3,225.9 586.8,226.5 587.3,226.6 587.8,225.9 588.3,228.0 588.8,227.3 589.3,226.5 589.8,225.4 590.3,225.8 590.8,226.0 591.3,226.8 591.8,226.1 592.3,226.6 592.8,227.5 593.3,227.1 593.8,225.0 594.3,226.3 594.8,226.4 595.3,225.8 595.8,225.7 596.3,226.3 596.8,226.4 597.3,227.0 597.8,224.8 598.3,225.7 598.8,226.2 599.3,226.2 599.8,226.9 600.3,225.5 600.8,224.6 601.3,226.8 601.8,226.2 602.3,225.0 602.8,226.4 603.3,227.2 603.8,227.7 604.3,226.0 604.8,226.6 605.3,225.8 605.8,227.1 606.3,225.8 606.8,226.5 607.3,227.5 607.8,226.1 608.3,226.3 608.8,227.3 609.3,226.1 609.8,226.9 610.3,227.1 610.8,226.9 611.3,227.0 611.8,226.4 612.3,226.8 612.8,227.0 613.3,226.9 613.8,226.4 614.3,226.3 614.8,227.0 615.3,226.6 615.8,227.1 616.3,227.9 616.8,226.6 617.3,225.5 617.8,226.6 618.3,226.6 618.8,227.4 619.3,227.0 619.8,225.9 620.3,227.1 620.8,226.9 621.3,227.1 621.8,225.1 622.3,225.5 622.8,225.8 623.3,225.3 623.8,226.1 624.3,226.3 624.8,226.2 625.3,226.0 625.8,225.7 626.3,227.6 626.8,228.0 627.3,226.0 627.8,226.8 628.3,226.3 628.8,226.2 629.3,228.3 629.8,226.6 630.3,227.1 630.8,227.2 631.3,227.2 631.8,224.6 632.3,226.6 632.8,227.4 633.3,226.0 633.8,226.2 634.3,225.7 634.8,226.8 635.3,226.1 635.8,227.3 636.3,226.1 636.8,227.0 637.3,226.5 637.8,227.1 638.3,227.1 638.8,226.7 639.3,226.9 639.8,227.4 640.3,225.4 640.8,226.6 641.3,227.3 641.8,227.8 642.3,226.7 642.8,226.3 643.3,227.9 643.8,227.1 644.3,226.6 644.8,227.1 645.3,227.1 645.8,226.2 646.3,227.9" fill="none" stroke="#778ee2" stroke-width="1"/>
<rect x="370.8" y="230.9" width="275.9" height="5.6" fill="#7b7b7b"/>
<line x1="370.8" y1="233.8" x2="646.7" y2="233.8" stroke="#111" stroke-width="1.2" stroke-dasharray="4,2.6"/>
</g>
<path d="M370.8,27.6 V238.5 H646.7" fill="none" stroke="#777" stroke-width="0.9"/>
<line x1="646.7" y1="230.9" x2="646.7" y2="238.5" stroke="#555" stroke-width="0.8"/>
<text x="365.3" y="241.80" font-family="Liberation Sans, sans-serif" font-size="9.4" text-anchor="end" fill="#333">0</text>
<text x="365.3" y="206.65" font-family="Liberation Sans, sans-serif" font-size="9.4" text-anchor="end" fill="#333">50</text>
<text x="365.3" y="171.50" font-family="Liberation Sans, sans-serif" font-size="9.4" text-anchor="end" fill="#333">100</text>
<text x="365.3" y="136.35" font-family="Liberation Sans, sans-serif" font-size="9.4" text-anchor="end" fill="#333">150</text>
<text x="365.3" y="101.20" font-family="Liberation Sans, sans-serif" font-size="9.4" text-anchor="end" fill="#333">200</text>
<text x="365.3" y="66.05" font-family="Liberation Sans, sans-serif" font-size="9.4" text-anchor="end" fill="#333">250</text>
<text x="365.3" y="30.90" font-family="Liberation Sans, sans-serif" font-size="9.4" text-anchor="end" fill="#333">300</text>
<text x="370.80" y="249.4" font-family="Liberation Sans, sans-serif" font-size="9.4" text-anchor="middle" fill="#333">0</text>
<text x="425.98" y="249.4" font-family="Liberation Sans, sans-serif" font-size="9.4" text-anchor="middle" fill="#333">1,000</text>
<text x="481.16" y="249.4" font-family="Liberation Sans, sans-serif" font-size="9.4" text-anchor="middle" fill="#333">2,000</text>
<text x="536.34" y="249.4" font-family="Liberation Sans, sans-serif" font-size="9.4" text-anchor="middle" fill="#333">3,000</text>
<text x="591.52" y="249.4" font-family="Liberation Sans, sans-serif" font-size="9.4" text-anchor="middle" fill="#333">4,000</text>
<text x="646.70" y="249.4" font-family="Liberation Sans, sans-serif" font-size="9.4" text-anchor="middle" fill="#333">5,000</text>
<path d="M370.8,238.50 h3 M370.8,203.35 h3 M370.8,168.20 h3 M370.8,133.05 h3 M370.8,97.90 h3 M370.8,62.75 h3 M370.8,27.60 h3 M370.80,238.5 v-3 M425.98,238.5 v-3 M481.16,238.5 v-3 M536.34,238.5 v-3 M591.52,238.5 v-3 M646.70,238.5 v-3" stroke="#444" stroke-width="0.8"/>
<text x="508.3" y="264.2" font-family="Liberation Sans, sans-serif" font-size="10" text-anchor="middle" fill="#222" textLength="97" lengthAdjust="spacingAndGlyphs">Number of episodes</text>
<text transform="translate(343,132.6) rotate(-90)" font-family="Liberation Sans, sans-serif" font-size="10" text-anchor="middle" fill="#222" textLength="88" lengthAdjust="spacingAndGlyphs">Steps per episode</text>
<rect x="481.8" y="26.6" width="22.4" height="12.9" fill="#dde8fa"/>
<line x1="481.8" y1="33" x2="504.2" y2="33" stroke="#9fc8f6" stroke-width="1.3"/>
<rect x="481.8" y="45" width="22.4" height="13" fill="#c9d1f3"/>
<line x1="481.8" y1="51.5" x2="504.2" y2="51.5" stroke="#7a90e3" stroke-width="1.3"/>
<rect x="481.8" y="64" width="22.4" height="12.6" fill="#7b7b7b"/>
<line x1="482" y1="70.3" x2="504.2" y2="70.3" stroke="#111" stroke-width="1.2" stroke-dasharray="4,2.3"/>
<text x="507.9" y="36.1" font-family="Liberation Sans, sans-serif" font-size="9.3" fill="#333" textLength="84.7" lengthAdjust="spacingAndGlyphs">Memristor emulation</text>
<text x="507.9" y="53.8" font-family="Liberation Sans, sans-serif" font-size="9.3" fill="#333" textLength="150.2" lengthAdjust="spacingAndGlyphs">Memristor emulation minimum noise</text>
<text x="508.3" y="72.9" font-family="Liberation Sans, sans-serif" font-size="9.3" fill="#333" textLength="101.7" lengthAdjust="spacingAndGlyphs">Optimal number of steps</text>
<text transform="translate(333.3,23.5) scale(1.18,1)" font-family="Liberation Sans, sans-serif" font-size="14.6" font-weight="bold" fill="#000" stroke="#000" stroke-width="0.4">b</text>
<path d="M17.0,304.3L20.4,307.2L19.4,307.8L23.0,308.4L22.0,304.9L21.5,306.0L18.2,303.0ZM26.4,304.1L29.6,307.2L28.6,307.8L32.2,308.5L31.3,304.9L30.8,306.0L27.5,302.9ZM35.7,304.0L38.8,307.2L37.7,307.7L41.3,308.6L40.6,305.0L40.0,306.1L37.0,302.8ZM45.1,303.7L48.0,307.2L46.9,307.6L50.3,308.8L49.9,305.2L49.3,306.2L46.4,302.7ZM54.5,303.5L57.1,307.2L56.0,307.5L59.4,309.0L59.2,305.3L58.5,306.3L55.9,302.6ZM64.0,303.4L66.3,307.2L65.1,307.4L68.4,309.1L68.5,305.4L67.7,306.3L65.4,302.5ZM73.4,303.2L75.5,307.2L74.3,307.3L77.5,309.2L77.8,305.5L77.0,306.4L74.9,302.4ZM82.8,303.1L84.6,307.2L83.5,307.2L86.5,309.3L87.0,305.7L86.2,306.5L84.4,302.4ZM111.1,302.7L112.2,307.1L111.0,307.0L113.7,309.5L114.8,306.0L113.8,306.7L112.7,302.3ZM120.6,302.6L121.4,307.0L120.2,306.8L122.6,309.6L124.1,306.2L123.0,306.7L122.3,302.3ZM130.2,302.5L130.5,307.0L129.4,306.7L131.6,309.6L133.3,306.3L132.2,306.8L131.9,302.3ZM17.0,313.0L20.5,315.8L19.5,316.4L23.1,316.9L21.9,313.4L21.5,314.5L18.0,311.7ZM26.3,312.9L29.7,315.8L28.6,316.4L32.3,317.0L31.2,313.5L30.8,314.5L27.4,311.6ZM35.6,312.7L38.8,315.8L37.8,316.3L41.4,317.1L40.5,313.6L40.0,314.6L36.8,311.5ZM45.0,312.5L48.0,315.8L46.9,316.3L50.4,317.3L49.8,313.7L49.3,314.7L46.3,311.3ZM54.4,312.3L57.2,315.8L56.1,316.2L59.5,317.5L59.2,313.8L58.5,314.8L55.8,311.2ZM82.8,311.7L84.7,315.8L83.5,315.9L86.6,317.9L87.0,314.2L86.2,315.1L84.3,311.0ZM111.1,311.3L112.2,315.7L111.0,315.6L113.7,318.1L114.8,314.6L113.9,315.3L112.7,310.9ZM120.6,311.2L121.4,315.6L120.2,315.4L122.7,318.1L124.1,314.8L123.0,315.3L122.3,310.9ZM130.1,311.1L130.5,315.6L129.4,315.3L131.6,318.2L133.3,314.9L132.2,315.4L131.8,310.9ZM225.5,311.3L222.6,314.7L222.0,313.7L221.5,317.3L225.0,316.2L223.9,315.8L226.8,312.4ZM235.0,311.4L231.8,314.6L231.3,313.6L230.5,317.2L234.1,316.3L233.0,315.8L236.2,312.6ZM244.4,311.6L241.1,314.6L240.6,313.5L239.6,317.0L243.2,316.4L242.2,315.8L245.6,312.9ZM253.9,311.7L250.3,314.5L250.0,313.4L248.7,316.8L252.4,316.4L251.4,315.8L254.9,313.1ZM16.9,321.8L20.5,324.4L19.6,325.1L23.2,325.3L21.8,321.9L21.5,323.0L17.8,320.4ZM26.2,321.7L29.8,324.4L28.8,325.1L32.4,325.4L31.1,321.9L30.8,323.1L27.2,320.4ZM35.5,321.5L38.9,324.4L37.9,325.0L41.5,325.5L40.4,322.0L40.0,323.1L36.6,320.2ZM44.9,321.3L48.1,324.4L47.0,324.9L50.6,325.7L49.8,322.2L49.3,323.2L46.1,320.1ZM82.6,320.4L84.7,324.4L83.5,324.5L86.7,326.4L87.0,322.8L86.2,323.6L84.2,319.6ZM111.0,320.0L112.2,324.3L111.1,324.2L113.8,326.7L114.8,323.1L113.9,323.8L112.6,319.5ZM120.5,319.8L121.4,324.2L120.2,324.1L122.7,326.7L124.1,323.3L123.1,323.9L122.2,319.5ZM130.1,319.7L130.5,324.2L129.4,323.9L131.6,326.8L133.3,323.5L132.2,324.0L131.8,319.5ZM168.5,319.5L167.2,323.8L166.3,323.1L167.3,326.6L170.0,324.2L168.9,324.3L170.1,320.0ZM197.2,319.7L194.9,323.5L194.1,322.6L194.2,326.3L197.5,324.6L196.3,324.4L198.6,320.5ZM206.7,319.8L204.1,323.5L203.4,322.5L203.2,326.2L206.6,324.7L205.5,324.4L208.1,320.7ZM216.2,319.9L213.3,323.4L212.7,322.4L212.3,326.0L215.7,324.8L214.6,324.4L217.5,321.0ZM225.7,320.0L222.6,323.2L222.1,322.2L221.3,325.8L224.8,324.9L223.8,324.4L226.9,321.2ZM263.4,320.6L259.6,323.0L259.3,321.8L257.7,325.1L261.4,325.1L260.5,324.4L264.3,322.0ZM16.8,330.7L20.6,333.0L19.7,333.7L23.4,333.7L21.7,330.4L21.5,331.5L17.6,329.2ZM26.1,330.6L29.8,333.0L28.9,333.7L32.6,333.7L31.0,330.4L30.8,331.6L27.0,329.1ZM35.4,330.4L39.0,333.0L38.1,333.7L41.7,333.9L40.3,330.5L40.0,331.6L36.4,329.0ZM44.7,330.2L48.2,333.0L47.2,333.6L50.8,334.1L49.7,330.6L49.3,331.7L45.8,328.9ZM82.5,329.1L84.8,333.0L83.6,333.2L86.8,334.9L87.0,331.3L86.2,332.2L84.0,328.3ZM110.9,328.6L112.3,332.9L111.1,332.9L113.9,335.2L114.8,331.7L113.9,332.4L112.5,328.1ZM120.5,328.5L121.4,332.9L120.2,332.7L122.8,335.3L124.1,331.9L123.1,332.5L122.1,328.1ZM130.1,328.3L130.5,332.8L129.4,332.5L131.7,335.4L133.3,332.1L132.2,332.6L131.8,328.1ZM168.6,328.1L167.2,332.4L166.3,331.7L167.2,335.2L170.0,332.9L168.8,332.9L170.2,328.6ZM178.2,328.2L176.4,332.3L175.6,331.5L176.1,335.1L179.1,333.0L178.0,333.0L179.8,328.8ZM187.8,328.2L185.6,332.2L184.8,331.3L185.1,335.0L188.3,333.2L187.1,333.0L189.3,329.0ZM197.3,328.3L194.8,332.1L194.1,331.1L194.1,334.8L197.4,333.3L196.3,333.0L198.7,329.3ZM206.9,328.4L204.1,332.0L203.5,331.0L203.1,334.6L206.5,333.4L205.4,333.0L208.2,329.5ZM216.4,328.6L213.3,331.9L212.8,330.8L212.0,334.4L215.6,333.5L214.5,333.0L217.7,329.8ZM226.0,328.8L222.6,331.7L222.1,330.7L221.1,334.2L224.7,333.6L223.7,333.0L227.1,330.1ZM263.6,329.4L259.6,331.5L259.4,330.3L257.6,333.5L261.3,333.8L260.4,333.0L264.4,330.9ZM26.0,339.5L29.9,341.6L29.1,342.4L32.7,342.1L30.9,338.9L30.7,340.1L26.8,338.0ZM35.3,339.3L39.1,341.6L38.2,342.3L41.9,342.2L40.2,339.0L40.0,340.1L36.1,337.8ZM44.6,339.1L48.3,341.6L47.4,342.3L51.0,342.4L49.6,339.1L49.3,340.2L45.5,337.7ZM82.4,337.9L84.8,341.6L83.7,341.9L87.0,343.4L87.0,339.7L86.3,340.7L83.8,336.9ZM110.8,337.3L112.3,341.5L111.1,341.5L114.0,343.8L114.8,340.2L113.9,341.0L112.4,336.7ZM130.0,336.9L130.6,341.4L129.4,341.1L131.7,344.0L133.3,340.7L132.2,341.2L131.7,336.7ZM159.1,336.7L158.0,341.1L157.0,340.4L158.2,343.9L160.8,341.4L159.7,341.5L160.7,337.1ZM168.7,336.7L167.2,341.0L166.3,340.2L167.1,343.8L170.0,341.5L168.8,341.5L170.3,337.3ZM178.4,336.8L176.4,340.8L175.6,340.0L176.0,343.6L179.1,341.7L177.9,341.6L179.9,337.5ZM188.0,336.9L185.6,340.7L184.9,339.8L184.9,343.5L188.2,341.8L187.1,341.6L189.4,337.8ZM197.5,337.0L194.8,340.6L194.2,339.6L193.9,343.3L197.3,342.0L196.2,341.6L198.9,338.0ZM207.2,337.2L204.1,340.5L203.5,339.4L202.8,343.0L206.4,342.1L205.3,341.6L208.4,338.4ZM216.7,337.4L213.3,340.3L212.9,339.2L211.8,342.7L215.4,342.2L214.4,341.6L217.8,338.7ZM226.3,337.6L222.6,340.2L222.3,339.1L220.9,342.5L224.5,342.3L223.6,341.6L227.2,339.0ZM235.7,337.8L231.8,340.1L231.6,339.0L230.0,342.3L233.6,342.3L232.7,341.6L236.6,339.3ZM245.1,338.0L241.1,340.1L241.0,338.9L239.1,342.1L242.8,342.4L241.9,341.6L245.9,339.5ZM254.5,338.1L250.4,340.0L250.3,338.8L248.3,341.9L251.9,342.4L251.1,341.6L255.2,339.7ZM53.8,347.9L57.6,350.2L56.7,350.9L60.4,350.9L58.7,347.6L58.5,348.7L54.6,346.4ZM63.1,347.6L66.8,350.2L65.8,350.9L69.5,351.1L68.1,347.7L67.8,348.8L64.1,346.2ZM72.6,347.2L75.9,350.2L74.9,350.8L78.5,351.4L77.5,347.9L77.0,349.0L73.7,346.0ZM110.7,346.0L112.3,350.2L111.2,350.2L114.1,352.3L114.8,348.7L113.9,349.5L112.3,345.3ZM139.7,345.4L139.7,349.9L138.6,349.5L140.5,352.6L142.5,349.5L141.4,349.9L141.4,345.4ZM159.2,345.3L158.0,349.6L157.0,349.0L158.1,352.5L160.8,350.0L159.6,350.1L160.8,345.8ZM188.2,345.6L185.6,349.2L184.9,348.3L184.7,351.9L188.1,350.5L187.0,350.2L189.6,346.5ZM197.9,345.8L194.8,349.1L194.3,348.0L193.6,351.6L197.1,350.7L196.1,350.2L199.1,346.9ZM72.2,356.7L76.2,358.8L75.4,359.6L79.0,359.2L77.1,356.1L77.0,357.2L73.0,355.2ZM81.6,356.3L85.3,358.8L84.4,359.5L88.1,359.6L86.5,356.2L86.3,357.4L82.5,354.9ZM91.2,355.6L94.3,358.8L93.3,359.3L96.8,360.2L96.0,356.6L95.5,357.6L92.4,354.4ZM110.5,354.7L112.4,358.8L111.2,358.9L114.3,360.9L114.8,357.2L113.9,358.1L112.1,354.0ZM159.3,353.9L158.0,358.2L157.0,357.5L158.0,361.0L160.8,358.7L159.6,358.7L160.9,354.4ZM178.8,354.1L176.3,357.9L175.6,357.0L175.6,360.6L178.9,359.1L177.8,358.8L180.2,355.0ZM198.4,354.7L194.8,357.5L194.5,356.4L193.2,359.8L196.9,359.4L195.9,358.8L199.4,356.0ZM208.0,355.0L204.1,357.3L203.9,356.2L202.2,359.4L205.9,359.5L205.0,358.8L208.8,356.5ZM217.5,355.3L213.4,357.2L213.3,356.0L211.3,359.1L214.9,359.6L214.1,358.8L218.2,356.9ZM226.9,355.5L222.7,357.1L222.6,356.0L220.4,358.9L224.0,359.6L223.3,358.7L227.5,357.1ZM236.2,355.7L231.9,357.1L232.0,355.9L229.6,358.7L233.2,359.6L232.5,358.7L236.7,357.3ZM245.5,355.8L241.2,357.0L241.3,355.9L238.8,358.6L242.4,359.6L241.7,358.7L246.0,357.4ZM25.9,366.8L30.4,367.1L29.9,368.2L33.1,366.5L30.2,364.3L30.5,365.4L26.0,365.1ZM35.1,366.8L39.6,367.1L39.2,368.2L42.4,366.5L39.4,364.3L39.8,365.4L35.3,365.1ZM44.4,366.8L48.9,367.1L48.4,368.2L51.6,366.5L48.7,364.3L49.0,365.4L44.5,365.1ZM53.6,366.8L58.1,367.1L57.7,368.2L60.9,366.5L57.9,364.3L58.3,365.4L53.8,365.1ZM62.9,366.8L67.4,367.1L66.9,368.2L70.1,366.5L67.2,364.3L67.5,365.4L63.0,365.1ZM100.0,365.1L103.9,367.4L103.0,368.1L106.7,368.0L105.0,364.8L104.8,365.9L100.9,363.7ZM110.3,363.5L112.5,367.4L111.4,367.6L114.6,369.3L114.7,365.7L114.0,366.6L111.7,362.7ZM149.6,362.5L148.8,366.9L147.8,366.3L149.1,369.7L151.6,367.1L150.5,367.2L151.3,362.8ZM159.5,362.5L157.9,366.8L157.0,366.0L157.8,369.6L160.7,367.3L159.5,367.3L161.1,363.1ZM179.3,362.9L176.3,366.3L175.8,365.3L175.2,368.9L178.7,367.9L177.6,367.4L180.6,364.1ZM199.0,363.9L194.9,365.8L194.8,364.6L192.8,367.7L196.4,368.2L195.6,367.4L199.7,365.5ZM208.4,364.2L204.2,365.7L204.2,364.5L201.9,367.4L205.5,368.2L204.7,367.3L209.0,365.8ZM217.8,364.4L213.5,365.6L213.6,364.5L211.1,367.1L214.6,368.2L213.9,367.3L218.2,366.1ZM227.1,364.6L222.7,365.6L222.9,364.4L220.3,367.0L223.7,368.2L223.1,367.2L227.5,366.2ZM236.4,364.7L232.0,365.5L232.2,364.4L229.5,366.9L232.9,368.2L232.3,367.2L236.7,366.3ZM245.7,364.8L241.3,365.5L241.5,364.4L238.8,366.8L242.1,368.2L241.6,367.2L246.0,366.4ZM255.0,364.8L250.5,365.5L250.8,364.3L248.0,366.7L251.3,368.2L250.8,367.2L255.2,366.5ZM26.0,375.8L30.5,375.6L30.2,376.7L33.1,374.6L29.9,372.8L30.4,373.9L25.9,374.1ZM35.2,375.8L39.7,375.6L39.4,376.7L42.4,374.6L39.2,372.8L39.7,373.9L35.2,374.1ZM44.5,375.8L49.0,375.6L48.7,376.7L51.6,374.6L48.4,372.8L48.9,373.9L44.4,374.1ZM53.7,375.8L58.2,375.6L57.9,376.7L60.9,374.6L57.7,372.8L58.2,373.9L53.7,374.1ZM63.0,375.8L67.5,375.6L67.2,376.7L70.1,374.6L66.9,372.8L67.4,373.9L62.9,374.1ZM100.1,373.4L103.8,376.0L102.8,376.7L106.5,376.9L105.1,373.5L104.8,374.6L101.1,372.0ZM119.9,371.8L121.6,376.0L120.4,376.0L123.4,378.1L124.0,374.5L123.2,375.3L121.4,371.2ZM149.8,371.1L148.8,375.5L147.8,374.9L149.0,378.3L151.6,375.7L150.4,375.9L151.4,371.5ZM159.7,371.2L157.9,375.3L157.1,374.5L157.6,378.1L160.6,376.0L159.5,376.0L161.3,371.9ZM199.5,373.4L195.0,374.1L195.3,372.9L192.5,375.3L195.8,376.8L195.3,375.8L199.7,375.1ZM208.9,373.8L204.4,374.0L204.7,372.9L201.7,375.0L204.9,376.8L204.4,375.7L208.9,375.5ZM218.1,373.9L213.6,374.0L214.0,372.9L211.0,374.9L214.1,376.8L213.7,375.7L218.2,375.6ZM245.9,373.8L241.4,374.0L241.7,372.9L238.7,375.0L241.9,376.8L241.4,375.7L245.9,375.5ZM26.1,384.8L30.6,384.1L30.3,385.3L33.1,382.9L29.8,381.4L30.3,382.4L25.9,383.1ZM35.4,384.8L39.8,384.1L39.6,385.3L42.4,382.9L39.0,381.4L39.6,382.4L35.1,383.1ZM44.6,384.8L49.1,384.1L48.8,385.3L51.6,382.9L48.3,381.4L48.8,382.4L44.4,383.1ZM53.9,384.8L58.3,384.1L58.1,385.3L60.9,382.9L57.5,381.4L58.1,382.4L53.6,383.1ZM63.1,384.8L67.6,384.1L67.4,385.2L70.1,382.8L66.7,381.4L67.3,382.4L62.9,383.1ZM72.4,384.9L76.8,384.1L76.6,385.2L79.3,382.8L76.0,381.4L76.5,382.4L72.1,383.2ZM81.6,384.7L86.1,384.1L85.8,385.3L88.6,382.9L85.3,381.4L85.8,382.4L81.4,383.0ZM119.6,380.6L121.7,384.6L120.6,384.8L123.7,386.6L124.0,382.9L123.2,383.8L121.1,379.8ZM150.0,379.7L148.7,384.0L147.8,383.4L148.8,386.9L151.5,384.4L150.4,384.5L151.6,380.2ZM160.0,379.8L157.9,383.8L157.1,382.9L157.3,386.6L160.5,384.8L159.4,384.6L161.5,380.7ZM199.7,383.5L195.4,382.4L196.1,381.4L192.6,382.5L195.1,385.2L195.0,384.0L199.3,385.1ZM246.0,382.9L241.5,382.5L242.0,381.4L238.7,383.1L241.6,385.3L241.3,384.2L245.8,384.6ZM255.2,382.8L250.7,382.5L251.2,381.4L248.0,383.1L250.9,385.3L250.6,384.2L255.1,384.5ZM26.3,393.8L30.6,392.6L30.6,393.7L33.0,391.0L29.5,390.0L30.2,390.9L25.9,392.1ZM35.6,393.8L39.9,392.6L39.8,393.7L42.3,391.0L38.7,390.0L39.4,390.9L35.1,392.2ZM44.8,393.8L49.2,392.6L49.1,393.7L51.5,391.0L48.0,390.0L48.7,390.9L44.4,392.2ZM54.1,393.9L58.4,392.5L58.3,393.7L60.7,390.9L57.2,390.0L57.9,390.9L53.6,392.2ZM109.7,390.0L112.8,393.2L111.7,393.7L115.3,394.6L114.6,391.0L114.0,392.1L110.9,388.8ZM119.3,389.5L121.9,393.2L120.7,393.5L124.1,394.9L123.9,391.3L123.3,392.2L120.7,388.6ZM150.3,388.3L148.7,392.5L147.8,391.8L148.5,395.4L151.5,393.2L150.3,393.1L151.9,388.9ZM236.7,392.2L232.4,390.9L233.1,390.0L229.6,391.0L232.0,393.7L231.9,392.6L236.3,393.9ZM246.0,392.0L241.6,391.0L242.2,390.0L238.8,391.2L241.4,393.8L241.2,392.6L245.6,393.6ZM255.2,391.8L250.8,391.0L251.4,390.0L248.0,391.3L250.7,393.8L250.5,392.7L254.9,393.5ZM83.9,404.1L86.2,400.3L87.0,401.2L86.9,397.5L83.6,399.2L84.8,399.4L82.4,403.2ZM109.3,399.3L113.1,401.8L112.1,402.5L115.8,402.6L114.3,399.3L114.0,400.4L110.3,397.9ZM118.8,398.7L122.1,401.8L121.1,402.4L124.7,403.1L123.8,399.5L123.3,400.6L120.0,397.5ZM128.9,397.8L130.9,401.8L129.8,401.9L132.9,403.8L133.3,400.2L132.5,401.0L130.5,397.0ZM150.8,397.0L148.6,401.0L147.9,400.1L148.1,403.8L151.3,402.0L150.1,401.8L152.3,397.9ZM198.4,403.4L196.4,399.4L197.6,399.3L194.4,397.4L194.1,401.0L194.9,400.2L196.9,404.2ZM208.0,403.1L205.5,399.4L206.6,399.1L203.3,397.6L203.4,401.3L204.1,400.3L206.6,404.1ZM45.5,411.8L49.3,409.4L49.5,410.6L51.1,407.3L47.4,407.3L48.4,408.0L44.5,410.4ZM74.9,412.8L77.0,408.8L77.8,409.7L77.5,406.0L74.3,407.9L75.5,408.0L73.4,412.0ZM109.1,408.9L113.4,410.3L112.7,411.2L116.2,410.3L113.9,407.5L113.9,408.7L109.7,407.3ZM139.4,405.7L139.8,410.2L138.6,409.9L140.9,412.8L142.5,409.5L141.5,410.0L141.1,405.5ZM162.0,407.0L157.9,408.8L157.8,407.6L155.7,410.6L159.4,411.2L158.6,410.3L162.7,408.6ZM171.5,407.3L167.2,408.7L167.2,407.5L164.9,410.3L168.4,411.2L167.7,410.3L172.0,408.9ZM197.6,412.6L196.7,408.2L197.9,408.3L195.4,405.7L194.0,409.1L195.0,408.5L195.9,412.9ZM207.1,412.4L205.9,408.1L207.0,408.2L204.3,405.7L203.3,409.3L204.2,408.6L205.5,412.9ZM226.7,411.5L223.9,408.0L225.0,407.6L221.5,406.4L222.0,410.0L222.6,409.0L225.4,412.5ZM236.4,410.8L232.9,408.0L233.9,407.4L230.3,406.9L231.4,410.4L231.8,409.3L235.3,412.1ZM26.9,420.4L30.8,418.1L31.0,419.2L32.6,415.9L29.0,415.9L29.9,416.6L26.0,419.0ZM36.3,420.5L40.0,418.0L40.3,419.1L41.8,415.8L38.1,415.9L39.1,416.6L35.3,419.1ZM45.7,420.6L49.3,417.9L49.6,419.1L50.9,415.7L47.3,415.9L48.3,416.6L44.7,419.3ZM55.2,420.8L58.5,417.8L59.0,418.9L60.0,415.4L56.4,416.0L57.4,416.6L54.0,419.6ZM75.5,421.5L76.9,417.2L77.8,418.0L77.0,414.4L74.1,416.7L75.3,416.7L73.8,420.9ZM109.2,418.7L113.7,418.6L113.3,419.7L116.4,417.8L113.3,415.8L113.7,416.9L109.2,417.0ZM171.9,417.0L167.4,416.9L167.8,415.8L164.7,417.8L167.8,419.7L167.4,418.6L171.9,418.7ZM197.3,421.3L196.8,416.8L197.9,417.1L195.6,414.2L194.1,417.5L195.1,417.0L195.6,421.5ZM206.8,421.2L206.0,416.8L207.1,416.9L204.6,414.3L203.3,417.7L204.3,417.1L205.2,421.5ZM226.6,420.3L224.0,416.6L225.1,416.3L221.7,414.9L221.9,418.5L222.6,417.6L225.2,421.2ZM236.3,419.6L233.0,416.6L234.0,416.0L230.4,415.3L231.4,418.9L231.8,417.8L235.1,420.9ZM245.7,419.3L242.1,416.6L243.1,415.9L239.4,415.7L240.7,419.1L241.1,417.9L244.7,420.6ZM255.0,419.1L251.3,416.6L252.2,415.9L248.5,415.8L250.1,419.2L250.3,418.0L254.1,420.5ZM27.0,429.1L30.8,426.6L31.0,427.7L32.5,424.4L28.9,424.5L29.8,425.2L26.1,427.7ZM36.4,429.2L40.0,426.6L40.4,427.7L41.7,424.3L38.1,424.5L39.0,425.2L35.4,427.8ZM45.8,429.3L49.3,426.5L49.7,427.6L50.9,424.1L47.2,424.6L48.2,425.2L44.7,428.0ZM55.3,429.5L58.5,426.4L59.0,427.5L59.9,423.9L56.3,424.7L57.4,425.2L54.1,428.3ZM75.6,430.1L76.9,425.8L77.8,426.5L76.8,422.9L74.1,425.4L75.2,425.3L74.0,429.6ZM109.7,428.4L113.9,426.9L113.9,428.1L116.2,425.2L112.6,424.4L113.4,425.3L109.1,426.8ZM119.2,428.7L123.2,426.8L123.4,427.9L125.3,424.8L121.6,424.4L122.5,425.2L118.4,427.2ZM197.3,429.9L196.8,425.4L197.9,425.7L195.6,422.8L194.1,426.1L195.1,425.6L195.6,430.1ZM206.8,429.8L206.0,425.4L207.1,425.5L204.6,422.9L203.3,426.3L204.3,425.7L205.2,430.1ZM226.6,428.9L224.0,425.2L225.1,424.9L221.7,423.5L221.9,427.1L222.6,426.2L225.2,429.8ZM236.3,428.2L233.0,425.2L234.0,424.6L230.4,423.9L231.4,427.5L231.8,426.4L235.1,429.5ZM245.7,427.9L242.1,425.2L243.1,424.5L239.4,424.3L240.7,427.7L241.1,426.5L244.7,429.2ZM255.0,427.7L251.3,425.2L252.2,424.5L248.5,424.4L250.1,427.8L250.3,426.6L254.1,429.1ZM264.3,427.5L260.5,425.2L261.4,424.5L257.7,424.5L259.4,427.8L259.6,426.7L263.4,429.0ZM27.1,437.8L30.8,435.2L31.1,436.3L32.5,432.9L28.8,433.1L29.8,433.8L26.1,436.4ZM36.5,437.9L40.0,435.1L40.4,436.2L41.7,432.8L38.0,433.1L39.0,433.8L35.4,436.5ZM45.8,438.0L49.3,435.1L49.7,436.2L50.8,432.7L47.2,433.2L48.2,433.8L44.7,436.7ZM75.6,438.7L76.9,434.4L77.8,435.1L76.8,431.5L74.1,434.0L75.2,433.9L74.0,438.2ZM110.4,437.8L114.0,435.2L114.3,436.3L115.7,432.9L112.1,433.1L113.0,433.8L109.4,436.4ZM120.1,438.1L123.3,435.0L123.8,436.0L124.6,432.5L121.0,433.3L122.1,433.8L118.9,436.9ZM197.3,438.5L196.8,434.0L197.9,434.3L195.6,431.4L194.1,434.7L195.1,434.2L195.6,438.7ZM206.8,438.4L206.0,434.0L207.1,434.1L204.6,431.5L203.3,434.9L204.3,434.3L205.2,438.7ZM236.3,436.8L233.0,433.8L234.0,433.2L230.4,432.5L231.4,436.1L231.8,435.0L235.1,438.1ZM245.7,436.5L242.1,433.8L243.1,433.1L239.4,432.9L240.7,436.3L241.1,435.1L244.7,437.8ZM255.0,436.3L251.3,433.8L252.2,433.1L248.5,433.0L250.1,436.4L250.3,435.2L254.1,437.7ZM264.3,436.1L260.5,433.8L261.4,433.1L257.7,433.1L259.4,436.4L259.6,435.3L263.4,437.6ZM36.5,446.5L40.0,443.7L40.4,444.8L41.6,441.3L38.0,441.8L39.0,442.4L35.5,445.2ZM45.9,446.6L49.3,443.6L49.7,444.7L50.8,441.2L47.1,441.8L48.2,442.4L44.8,445.3ZM75.6,447.3L76.9,443.0L77.8,443.7L76.8,440.1L74.1,442.6L75.2,442.5L74.0,446.8ZM110.8,446.7L114.0,443.6L114.5,444.7L115.4,441.1L111.8,441.8L112.9,442.4L109.6,445.5ZM120.6,447.0L123.3,443.4L123.9,444.4L124.2,440.7L120.8,442.0L121.9,442.4L119.2,446.0ZM197.3,447.1L196.8,442.6L197.9,442.9L195.6,440.0L194.1,443.3L195.1,442.8L195.6,447.3ZM206.8,447.0L206.0,442.6L207.1,442.7L204.6,440.1L203.3,443.5L204.3,442.9L205.2,447.3ZM245.7,445.1L242.1,442.4L243.1,441.7L239.4,441.5L240.7,444.9L241.1,443.7L244.7,446.4ZM255.0,444.9L251.3,442.4L252.2,441.7L248.5,441.6L250.1,445.0L250.3,443.8L254.1,446.3ZM264.3,444.7L260.5,442.4L261.4,441.7L257.7,441.7L259.4,445.0L259.6,443.9L263.4,446.2ZM45.9,455.2L49.3,452.2L49.7,453.3L50.7,449.8L47.1,450.4L48.2,451.0L44.8,454.0ZM75.7,455.9L76.9,451.6L77.8,452.2L76.7,448.7L74.0,451.2L75.2,451.1L74.0,455.5ZM85.6,455.9L86.0,451.4L87.0,451.9L85.3,448.6L83.1,451.6L84.3,451.2L83.9,455.7ZM197.3,455.7L196.8,451.2L197.9,451.5L195.6,448.6L194.1,451.9L195.1,451.4L195.6,455.9ZM206.8,455.6L206.0,451.2L207.1,451.3L204.6,448.7L203.3,452.1L204.3,451.5L205.1,455.9ZM245.6,453.8L242.1,451.0L243.1,450.4L239.5,449.9L240.7,453.4L241.1,452.3L244.6,455.1ZM255.0,453.6L251.3,451.0L252.3,450.3L248.6,450.1L250.0,453.5L250.3,452.4L254.0,455.0ZM264.3,453.4L260.5,451.0L261.4,450.3L257.8,450.3L259.3,453.6L259.6,452.4L263.4,454.8ZM75.9,464.5L76.8,460.1L77.8,460.7L76.6,457.3L74.0,459.9L75.2,459.7L74.2,464.1ZM85.7,464.4L86.0,460.0L87.0,460.4L85.3,457.2L83.1,460.2L84.3,459.9L84.0,464.3ZM197.3,464.3L196.8,459.8L197.9,460.1L195.6,457.2L194.1,460.5L195.1,460.0L195.6,464.5ZM206.8,464.2L206.0,459.8L207.1,460.0L204.7,457.3L203.3,460.7L204.3,460.1L205.1,464.5ZM216.4,464.0L215.1,459.7L216.3,459.7L213.5,457.4L212.5,460.9L213.5,460.2L214.8,464.5ZM235.9,463.2L233.2,459.6L234.3,459.2L230.9,457.9L231.2,461.6L231.8,460.6L234.5,464.2ZM245.5,462.7L242.3,459.6L243.3,459.1L239.7,458.3L240.6,461.8L241.1,460.8L244.3,463.9ZM254.9,462.4L251.4,459.6L252.4,459.0L248.8,458.5L249.9,462.0L250.3,460.9L253.8,463.7ZM264.2,462.2L260.6,459.6L261.5,458.9L257.9,458.7L259.2,462.1L259.6,461.0L263.2,463.6ZM76.0,473.1L76.8,468.7L77.8,469.2L76.4,465.9L74.0,468.6L75.1,468.4L74.3,472.8ZM85.7,473.0L85.9,468.5L87.0,469.0L85.2,465.8L83.1,468.8L84.2,468.5L84.1,473.0ZM94.9,473.0L95.2,468.6L96.3,469.0L94.5,465.8L92.4,468.8L93.5,468.4L93.2,472.9ZM197.3,472.9L196.8,468.4L197.9,468.7L195.7,465.8L194.1,469.1L195.1,468.6L195.6,473.1ZM206.7,472.8L206.0,468.4L207.1,468.6L204.7,465.8L203.3,469.2L204.3,468.7L205.0,473.1ZM216.3,472.7L215.1,468.3L216.3,468.4L213.6,465.9L212.5,469.4L213.5,468.7L214.7,473.1ZM235.7,472.0L233.3,468.2L234.4,467.9L231.1,466.4L231.1,470.0L231.8,469.1L234.3,472.9ZM245.3,471.5L242.3,468.2L243.4,467.7L239.9,466.7L240.5,470.3L241.1,469.3L244.0,472.7ZM254.8,471.2L251.5,468.2L252.5,467.6L248.9,466.9L249.9,470.5L250.3,469.4L253.6,472.5ZM264.1,471.0L260.7,468.2L261.7,467.6L258.0,467.1L259.2,470.6L259.6,469.5L263.0,472.4ZM197.3,481.5L196.8,477.0L197.9,477.3L195.7,474.4L194.1,477.7L195.1,477.2L195.6,481.7ZM206.7,481.4L206.0,477.0L207.2,477.2L204.8,474.4L203.3,477.8L204.3,477.2L205.0,481.7ZM216.2,481.3L215.2,476.9L216.3,477.1L213.7,474.5L212.5,478.0L213.5,477.3L214.6,481.7ZM235.6,480.7L233.3,476.8L234.5,476.6L231.2,474.9L231.1,478.6L231.9,477.7L234.1,481.5ZM245.2,480.3L242.4,476.8L243.5,476.4L240.1,475.2L240.5,478.8L241.1,477.8L243.9,481.3ZM254.7,480.0L251.5,476.8L252.6,476.3L249.0,475.4L249.8,479.0L250.3,477.9L253.4,481.2ZM264.0,479.8L260.7,476.8L261.8,476.2L258.2,475.6L259.1,479.1L259.6,478.0L262.9,481.1ZM197.3,490.1L196.8,485.6L197.9,485.9L195.7,483.0L194.1,486.3L195.1,485.8L195.6,490.3ZM206.7,490.0L206.0,485.6L207.2,485.8L204.8,483.0L203.3,486.4L204.3,485.8L205.0,490.3ZM235.5,489.4L233.4,485.4L234.5,485.2L231.3,483.4L231.1,487.1L231.9,486.2L234.0,490.2ZM245.1,489.0L242.5,485.4L243.6,485.0L240.2,483.7L240.4,487.3L241.1,486.4L243.7,490.0ZM254.6,488.7L251.6,485.4L252.7,484.9L249.2,483.9L249.8,487.5L250.3,486.5L253.3,489.9ZM263.9,488.6L260.8,485.4L261.9,484.9L258.3,484.0L259.1,487.6L259.6,486.5L262.7,489.8ZM27.3,498.2L30.8,495.3L31.2,496.4L32.3,492.9L28.7,493.4L29.7,494.0L26.2,496.9ZM36.9,498.4L40.0,495.1L40.6,496.2L41.3,492.6L37.7,493.5L38.8,494.0L35.7,497.2ZM46.7,498.6L49.3,495.0L49.9,495.9L50.1,492.3L46.7,493.7L47.9,494.0L45.3,497.6ZM235.4,498.1L233.4,494.0L234.6,493.9L231.5,492.0L231.1,495.6L231.9,494.8L233.9,498.8ZM245.0,497.7L242.5,494.0L243.6,493.7L240.3,492.2L240.4,495.9L241.1,494.9L243.6,498.7ZM254.4,497.5L251.7,494.0L252.8,493.6L249.3,492.4L249.7,496.0L250.3,495.0L253.1,498.6ZM263.8,497.4L260.8,494.0L261.9,493.5L258.4,492.5L259.0,496.1L259.6,495.1L262.5,498.5ZM27.5,506.9L30.8,503.8L31.3,504.9L32.2,501.3L28.6,502.0L29.6,502.6L26.4,505.7ZM37.1,507.1L40.0,503.7L40.6,504.7L41.2,501.1L37.7,502.1L38.7,502.6L35.8,506.0ZM46.8,507.3L49.3,503.5L50.0,504.4L50.0,500.8L46.7,502.3L47.8,502.6L45.4,506.4ZM244.9,506.4L242.6,502.6L243.7,502.4L240.4,500.7L240.4,504.4L241.1,503.5L243.4,507.3ZM254.3,506.2L251.7,502.6L252.8,502.3L249.5,500.9L249.7,504.5L250.3,503.6L252.9,507.2ZM263.7,506.1L260.9,502.6L262.0,502.2L258.6,501.0L259.0,504.6L259.6,503.6L262.3,507.2ZM27.7,515.6L30.8,512.3L31.3,513.4L32.0,509.8L28.5,510.7L29.5,511.2L26.5,514.4ZM37.2,515.8L40.0,512.2L40.6,513.2L41.0,509.6L37.6,510.8L38.7,511.2L35.9,514.7ZM47.0,515.9L49.2,512.0L50.0,512.9L49.8,509.3L46.6,511.0L47.8,511.2L45.5,515.1ZM254.2,515.0L251.8,511.2L252.9,510.9L249.6,509.4L249.6,513.0L250.3,512.1L252.8,515.9ZM263.6,514.9L261.0,511.2L262.1,510.9L258.7,509.5L258.9,513.1L259.6,512.2L262.2,515.8ZM27.9,524.3L30.8,520.9L31.4,521.9L31.8,518.2L28.4,519.4L29.5,519.8L26.6,523.2ZM37.4,524.4L40.0,520.8L40.7,521.7L40.9,518.1L37.5,519.5L38.6,519.8L36.0,523.4Z" fill="#7bafe5"/>
<path d="M92.2,302.9L93.8,307.1L92.6,307.2L95.6,309.4L96.3,305.8L95.4,306.5L93.8,302.3ZM101.6,302.8L103.0,307.1L101.8,307.1L104.7,309.4L105.6,305.9L104.6,306.6L103.3,302.3ZM139.7,302.4L139.7,306.9L138.6,306.5L140.5,309.6L142.5,306.5L141.4,306.9L141.4,302.4ZM149.3,302.3L148.9,306.8L147.8,306.3L149.5,309.6L151.7,306.7L150.6,307.0L151.0,302.5ZM158.8,302.3L158.1,306.7L157.0,306.2L158.4,309.5L160.9,306.8L159.7,307.0L160.5,302.6ZM168.4,302.3L167.3,306.7L166.3,306.0L167.4,309.5L170.1,307.0L168.9,307.1L170.0,302.7ZM177.9,302.3L176.5,306.6L175.5,305.8L176.4,309.4L179.2,307.1L178.1,307.1L179.5,302.9ZM187.4,302.4L185.7,306.5L184.8,305.7L185.4,309.3L188.4,307.2L187.2,307.2L189.0,303.0ZM196.9,302.4L194.9,306.4L194.1,305.6L194.4,309.2L197.6,307.3L196.4,307.2L198.5,303.2ZM206.4,302.5L204.1,306.3L203.4,305.4L203.4,309.1L206.7,307.4L205.6,307.2L207.9,303.3ZM215.9,302.6L213.3,306.3L212.7,305.3L212.5,309.0L215.9,307.5L214.7,307.2L217.3,303.5ZM225.4,302.6L222.6,306.2L222.0,305.2L221.6,308.8L225.0,307.6L223.9,307.2L226.7,303.7ZM234.8,302.8L231.8,306.1L231.3,305.1L230.6,308.7L234.2,307.7L233.1,307.2L236.1,303.9ZM244.3,302.9L241.1,306.0L240.6,304.9L239.7,308.5L243.3,307.8L242.2,307.2L245.5,304.1ZM253.7,303.0L250.3,305.9L249.9,304.8L248.8,308.3L252.4,307.8L251.4,307.2L254.8,304.3ZM263.1,303.1L259.6,305.9L259.2,304.8L258.0,308.2L261.6,307.8L260.6,307.2L264.2,304.4ZM92.2,311.6L93.8,315.8L92.7,315.8L95.6,317.9L96.3,314.3L95.4,315.1L93.8,310.9ZM101.6,311.5L103.0,315.7L101.9,315.7L104.7,318.0L105.6,314.4L104.6,315.2L103.2,310.9ZM139.7,311.0L139.7,315.5L138.6,315.1L140.5,318.2L142.5,315.1L141.4,315.5L141.4,311.0ZM149.3,310.9L148.9,315.4L147.8,314.9L149.5,318.2L151.7,315.3L150.6,315.6L151.0,311.1ZM158.9,310.9L158.1,315.3L157.0,314.7L158.4,318.1L160.9,315.4L159.7,315.6L160.5,311.2ZM168.4,310.9L167.2,315.2L166.3,314.6L167.3,318.1L170.0,315.6L168.9,315.7L170.1,311.4ZM178.0,310.9L176.4,315.2L175.5,314.4L176.3,318.0L179.2,315.7L178.0,315.7L179.6,311.5ZM187.5,311.0L185.7,315.1L184.8,314.2L185.3,317.9L188.4,315.9L187.2,315.8L189.1,311.7ZM197.0,311.0L194.9,315.0L194.1,314.1L194.3,317.8L197.5,316.0L196.4,315.8L198.5,311.8ZM206.5,311.1L204.1,314.9L203.4,314.0L203.4,317.6L206.7,316.1L205.5,315.8L207.9,312.0ZM216.0,311.2L213.3,314.8L212.7,313.9L212.4,317.5L215.8,316.2L214.7,315.8L217.4,312.2ZM263.2,311.8L259.6,314.4L259.3,313.3L257.9,316.7L261.5,316.5L260.6,315.8L264.2,313.2ZM92.1,320.2L93.9,324.4L92.7,324.4L95.7,326.5L96.3,322.9L95.4,323.7L93.6,319.6ZM101.5,320.1L103.1,324.3L101.9,324.3L104.8,326.6L105.6,323.0L104.7,323.7L103.1,319.5ZM139.7,319.6L139.7,324.1L138.6,323.7L140.5,326.8L142.5,323.7L141.4,324.1L141.4,319.6ZM149.3,319.5L148.9,324.0L147.8,323.5L149.4,326.8L151.7,323.9L150.6,324.2L151.0,319.7ZM158.9,319.5L158.0,323.9L157.0,323.3L158.3,326.7L160.9,324.1L159.7,324.2L160.6,319.8ZM178.1,319.5L176.4,323.7L175.6,322.9L176.2,326.5L179.2,324.4L178.0,324.4L179.7,320.2ZM187.6,319.6L185.6,323.6L184.8,322.8L185.2,326.4L188.3,324.5L187.2,324.4L189.2,320.4ZM92.0,328.9L93.9,333.0L92.8,333.1L95.9,335.0L96.3,331.4L95.5,332.2L93.5,328.2ZM101.4,328.8L103.1,333.0L101.9,333.0L104.9,335.1L105.5,331.5L104.7,332.3L103.0,328.1ZM139.7,328.2L139.7,332.7L138.6,332.3L140.5,335.4L142.5,332.3L141.4,332.7L141.4,328.2ZM149.4,328.1L148.9,332.6L147.8,332.1L149.4,335.4L151.7,332.5L150.5,332.8L151.0,328.3ZM159.0,328.1L158.0,332.5L157.0,331.9L158.3,335.3L160.8,332.7L159.7,332.9L160.7,328.5ZM16.7,339.6L20.7,341.6L19.9,342.4L23.5,342.0L21.6,338.9L21.5,340.0L17.5,338.0ZM91.8,337.6L94.0,341.6L92.8,341.8L96.0,343.6L96.3,339.9L95.5,340.8L93.3,336.8ZM101.3,337.5L103.2,341.6L102.0,341.7L105.0,343.7L105.5,340.0L104.7,340.9L102.8,336.8ZM139.7,336.8L139.7,341.3L138.6,340.9L140.5,344.0L142.5,340.9L141.4,341.3L141.4,336.8ZM149.4,336.7L148.8,341.2L147.8,340.7L149.4,344.0L151.7,341.1L150.5,341.4L151.1,336.9ZM263.8,338.2L259.6,340.0L259.6,338.8L257.5,341.8L261.1,342.4L260.3,341.5L264.4,339.8ZM16.6,348.5L20.8,350.1L20.1,351.0L23.7,350.3L21.5,347.4L21.4,348.5L17.2,346.9ZM25.9,348.4L30.1,350.1L29.3,351.0L32.9,350.4L30.7,347.4L30.7,348.6L26.5,346.9ZM35.2,348.3L39.3,350.1L38.4,351.0L42.1,350.5L40.1,347.4L40.0,348.6L35.9,346.7ZM44.5,348.1L48.5,350.2L47.6,351.0L51.2,350.6L49.4,347.5L49.2,348.7L45.2,346.6ZM82.1,346.8L85.0,350.2L83.9,350.6L87.4,351.8L86.9,348.1L86.3,349.1L83.4,345.7ZM91.6,346.4L94.1,350.2L92.9,350.5L96.3,352.0L96.2,348.4L95.5,349.3L93.1,345.5ZM101.1,346.2L103.2,350.2L102.1,350.3L105.2,352.2L105.5,348.5L104.7,349.4L102.6,345.4ZM149.5,345.3L148.8,349.8L147.8,349.2L149.3,352.6L151.7,349.8L150.5,350.0L151.1,345.6ZM207.5,346.1L204.1,348.9L203.7,347.8L202.5,351.3L206.2,350.8L205.1,350.2L208.6,347.4ZM217.1,346.3L213.3,348.8L213.1,347.6L211.5,351.0L215.2,350.9L214.3,350.2L218.0,347.7ZM226.6,346.5L222.6,348.7L222.4,347.5L220.6,350.7L224.3,351.0L223.4,350.2L227.4,348.0ZM236.0,346.7L231.9,348.6L231.8,347.4L229.8,350.5L233.4,351.0L232.6,350.2L236.7,348.3ZM245.3,346.9L241.1,348.6L241.1,347.4L239.0,350.4L242.6,351.0L241.8,350.1L246.0,348.4ZM254.6,347.0L250.4,348.5L250.4,347.3L248.2,350.2L251.7,351.0L251.0,350.1L255.2,348.6ZM263.9,347.1L259.7,348.5L259.7,347.3L257.4,350.1L260.9,351.0L260.2,350.1L264.5,348.7ZM16.6,357.6L21.0,358.6L20.4,359.6L23.8,358.4L21.2,355.8L21.4,357.0L17.0,356.0ZM25.9,357.6L30.2,358.6L29.6,359.6L33.1,358.4L30.5,355.8L30.6,357.0L26.2,355.9ZM35.1,357.5L39.5,358.7L38.8,359.6L42.3,358.5L39.8,355.8L39.9,357.0L35.5,355.9ZM44.4,357.4L48.7,358.7L48.0,359.6L51.5,358.6L49.1,355.9L49.2,357.0L44.8,355.7ZM53.6,357.2L57.9,358.7L57.1,359.6L60.7,358.8L58.4,355.9L58.4,357.1L54.2,355.6ZM62.9,357.0L67.1,358.7L66.3,359.6L69.9,359.0L67.8,356.0L67.7,357.2L63.5,355.4ZM100.8,355.1L103.4,358.8L102.2,359.1L105.6,360.6L105.4,356.9L104.8,357.9L102.2,354.1ZM149.5,353.9L148.8,358.4L147.8,357.8L149.2,361.2L151.6,358.4L150.5,358.6L151.2,354.2ZM188.5,354.3L185.6,357.7L185.0,356.7L184.4,360.3L187.9,359.3L186.8,358.8L189.8,355.5ZM254.8,355.9L250.5,357.0L250.6,355.8L248.1,358.5L251.5,359.6L250.9,358.6L255.2,357.5ZM264.1,355.9L259.7,357.0L259.9,355.8L257.3,358.4L260.8,359.6L260.1,358.6L264.5,357.6ZM16.6,366.8L21.1,367.1L20.7,368.2L23.9,366.5L20.9,364.3L21.3,365.4L16.8,365.1ZM189.3,363.5L185.6,366.0L185.3,364.9L183.8,368.2L187.5,368.1L186.5,367.4L190.2,364.9ZM264.2,364.9L259.8,365.5L260.0,364.3L257.2,366.7L260.6,368.2L260.0,367.2L264.5,366.5ZM16.7,375.8L21.2,375.6L20.9,376.7L23.9,374.6L20.7,372.8L21.2,373.9L16.7,374.1ZM110.1,372.3L112.6,376.0L111.4,376.3L114.8,377.8L114.7,374.1L114.0,375.1L111.5,371.3ZM179.9,372.0L176.3,374.7L176.0,373.5L174.7,377.0L178.3,376.7L177.3,376.0L180.9,373.3ZM190.0,372.9L185.7,374.3L185.7,373.1L183.4,375.9L186.9,376.8L186.2,375.9L190.5,374.5ZM227.4,373.9L222.9,374.0L223.2,372.9L220.2,374.9L223.4,376.8L222.9,375.7L227.4,375.6ZM236.6,373.8L232.1,374.0L232.5,372.9L229.5,374.9L232.6,376.8L232.2,375.7L236.7,375.5ZM255.1,373.8L250.6,374.0L251.0,372.9L248.0,374.9L251.1,376.8L250.7,375.7L255.2,375.5ZM264.4,373.8L259.9,374.0L260.2,372.9L257.2,374.9L260.4,376.8L259.9,375.7L264.4,375.5ZM16.9,384.8L21.3,384.1L21.1,385.3L23.9,382.9L20.5,381.4L21.1,382.4L16.6,383.1ZM109.9,381.1L112.7,384.6L111.6,385.0L115.0,386.2L114.6,382.6L114.0,383.6L111.2,380.1ZM209.0,383.7L204.7,382.3L205.4,381.4L201.9,382.3L204.2,385.1L204.2,383.9L208.5,385.3ZM218.2,383.6L213.9,382.3L214.6,381.4L211.1,382.4L213.5,385.1L213.5,384.0L217.8,385.2ZM227.5,383.4L223.1,382.4L223.8,381.4L220.3,382.6L222.9,385.2L222.7,384.0L227.1,385.0ZM236.7,383.0L232.2,382.5L232.8,381.4L229.5,383.0L232.3,385.3L232.1,384.1L236.5,384.6ZM264.5,382.8L260.0,382.5L260.5,381.4L257.2,383.1L260.1,385.3L259.8,384.2L264.3,384.5ZM17.0,393.8L21.4,392.6L21.3,393.8L23.8,391.1L20.3,390.0L20.9,390.9L16.6,392.1ZM63.4,394.0L67.7,392.5L67.7,393.7L69.9,390.8L66.4,390.0L67.1,390.9L62.9,392.4ZM72.9,394.3L77.0,392.4L77.1,393.5L79.0,390.4L75.4,390.0L76.2,390.8L72.2,392.8ZM82.4,394.6L86.3,392.3L86.5,393.4L88.2,390.2L84.5,390.1L85.4,390.8L81.5,393.1ZM199.4,393.5L195.9,390.8L196.8,390.2L193.2,389.8L194.5,393.2L194.8,392.1L198.4,394.9ZM208.7,393.5L205.1,390.8L206.1,390.1L202.4,389.9L203.7,393.3L204.1,392.1L207.7,394.8ZM218.0,393.2L214.2,390.8L215.2,390.1L211.5,390.1L213.1,393.4L213.3,392.2L217.1,394.7ZM227.4,392.6L223.3,390.9L224.1,390.0L220.5,390.6L222.6,393.6L222.6,392.4L226.8,394.2ZM264.5,391.8L260.1,391.0L260.7,390.0L257.3,391.4L260.0,393.8L259.8,392.7L264.2,393.5ZM17.2,402.7L21.4,401.1L21.5,402.3L23.7,399.3L20.1,398.6L20.8,399.5L16.6,401.1ZM26.5,402.7L30.7,401.1L30.7,402.2L32.9,399.3L29.3,398.6L30.1,399.5L25.9,401.1ZM35.8,402.8L40.0,401.0L40.0,402.2L42.1,399.2L38.5,398.6L39.3,399.5L35.2,401.2ZM45.1,402.9L49.2,401.0L49.3,402.2L51.3,399.1L47.7,398.6L48.5,399.5L44.4,401.3ZM54.5,403.0L58.5,400.9L58.6,402.1L60.5,399.0L56.9,398.6L57.7,399.4L53.7,401.5ZM64.0,403.3L67.8,400.8L68.0,402.0L69.6,398.7L65.9,398.7L66.8,399.4L63.1,401.8ZM73.8,403.7L77.0,400.6L77.5,401.6L78.4,398.1L74.8,398.9L75.8,399.4L72.6,402.5ZM217.6,402.7L214.6,399.4L215.6,398.9L212.1,398.0L212.8,401.6L213.3,400.5L216.4,403.8ZM227.1,402.2L223.6,399.4L224.6,398.8L221.0,398.3L222.2,401.8L222.6,400.7L226.1,403.5ZM236.6,401.7L232.7,399.4L233.6,398.7L230.0,398.8L231.6,402.0L231.8,400.9L235.7,403.2ZM246.0,401.1L241.8,399.5L242.5,398.6L238.9,399.3L241.1,402.2L241.2,401.1L245.3,402.7ZM255.2,400.9L251.0,399.5L251.7,398.6L248.1,399.5L250.5,402.3L250.4,401.1L254.7,402.6ZM264.5,400.9L260.2,399.5L260.9,398.6L257.4,399.5L259.7,402.3L259.7,401.1L264.0,402.5ZM17.4,411.5L21.5,409.6L21.6,410.7L23.5,407.6L19.9,407.2L20.7,408.0L16.7,410.0ZM26.7,411.6L30.7,409.5L30.9,410.7L32.7,407.5L29.1,407.2L30.0,408.0L26.0,410.1ZM36.1,411.7L40.0,409.5L40.2,410.6L41.9,407.4L38.3,407.3L39.2,408.0L35.3,410.2ZM54.9,412.0L58.5,409.4L58.9,410.5L60.2,407.1L56.6,407.3L57.5,408.0L53.9,410.6ZM64.7,412.4L67.8,409.1L68.3,410.2L69.1,406.6L65.5,407.5L66.6,408.0L63.4,411.2ZM118.4,408.5L122.5,410.3L121.7,411.2L125.3,410.7L123.3,407.6L123.2,408.8L119.1,406.9ZM128.0,407.5L131.4,410.4L130.4,411.0L134.1,411.5L132.9,408.0L132.5,409.1L129.1,406.2ZM151.7,406.0L148.6,409.3L148.1,408.2L147.3,411.8L150.9,410.9L149.8,410.4L152.9,407.2ZM216.9,412.0L214.9,408.0L216.1,407.9L212.9,406.0L212.6,409.6L213.4,408.8L215.4,412.8ZM245.8,410.4L242.0,408.0L242.9,407.3L239.3,407.2L240.8,410.6L241.1,409.4L244.9,411.9ZM255.1,410.2L251.2,408.0L252.1,407.3L248.4,407.5L250.2,410.7L250.4,409.5L254.3,411.7ZM264.4,410.1L260.4,408.0L261.3,407.2L257.6,407.5L259.5,410.7L259.6,409.5L263.6,411.6ZM17.6,420.3L21.5,418.1L21.7,419.2L23.4,416.0L19.8,415.9L20.7,416.6L16.8,418.9ZM65.1,421.2L67.8,417.6L68.4,418.5L68.7,414.9L65.3,416.3L66.4,416.6L63.8,420.2ZM118.5,418.7L123.0,418.6L122.6,419.7L125.6,417.7L122.5,415.8L122.9,416.9L118.4,417.0ZM127.7,418.7L132.2,418.6L131.8,419.7L134.9,417.7L131.8,415.8L132.2,416.9L127.7,417.0ZM153.4,417.0L148.9,416.9L149.3,415.8L146.2,417.7L149.3,419.7L148.9,418.6L153.4,418.7ZM162.7,417.0L158.2,416.9L158.6,415.8L155.5,417.7L158.5,419.7L158.1,418.6L162.6,418.7ZM216.6,420.8L215.0,416.7L216.2,416.6L213.2,414.4L212.6,418.0L213.4,417.3L215.1,421.5ZM264.3,418.9L260.5,416.6L261.4,415.9L257.7,415.9L259.4,419.2L259.6,418.1L263.4,420.4ZM17.7,429.0L21.5,426.6L21.8,427.8L23.4,424.5L19.7,424.5L20.6,425.2L16.8,427.6ZM65.3,429.9L67.8,426.1L68.5,427.1L68.5,423.4L65.2,424.9L66.3,425.2L63.9,428.9ZM129.2,429.4L132.5,426.4L133.0,427.5L134.0,424.0L130.4,424.6L131.4,425.2L128.0,428.2ZM141.1,430.1L141.5,425.6L142.5,426.1L140.9,422.8L138.6,425.7L139.8,425.4L139.4,429.9ZM152.9,428.5L149.8,425.2L150.9,424.7L147.4,423.7L148.0,427.3L148.6,426.3L151.6,429.6ZM162.7,427.1L158.6,425.3L159.4,424.4L155.8,424.9L157.8,428.0L157.9,426.8L162.0,428.7ZM172.0,426.8L167.7,425.3L168.5,424.4L164.9,425.2L167.2,428.1L167.2,426.9L171.4,428.4ZM216.6,429.4L215.0,425.3L216.2,425.2L213.2,423.0L212.6,426.6L213.4,425.9L215.1,430.1ZM17.8,437.7L21.5,435.2L21.8,436.4L23.3,433.0L19.6,433.1L20.6,433.8L16.8,436.3ZM55.4,438.1L58.5,435.0L59.0,436.0L59.8,432.5L56.3,433.3L57.3,433.8L54.2,436.9ZM65.3,438.5L67.8,434.7L68.5,435.6L68.5,432.0L65.2,433.5L66.3,433.8L63.9,437.5ZM130.5,438.6L132.5,434.6L133.3,435.4L132.9,431.8L129.8,433.7L130.9,433.8L129.0,437.9ZM141.5,438.6L141.4,434.1L142.5,434.5L140.5,431.4L138.6,434.5L139.7,434.1L139.8,438.6ZM152.2,437.8L150.1,433.8L151.3,433.6L148.1,431.8L147.8,435.5L148.6,434.6L150.7,438.6ZM162.3,436.8L159.0,433.8L160.0,433.2L156.4,432.5L157.4,436.1L157.8,435.0L161.1,438.1ZM171.8,436.3L168.0,433.8L169.0,433.1L165.3,433.0L166.8,436.3L167.1,435.2L170.8,437.7ZM216.6,438.0L215.0,433.9L216.2,433.8L213.2,431.6L212.6,435.2L213.4,434.5L215.1,438.7ZM226.6,437.5L224.0,433.8L225.1,433.5L221.7,432.1L221.9,435.7L222.6,434.8L225.2,438.4ZM17.8,446.3L21.5,443.8L21.8,444.9L23.3,441.6L19.6,441.7L20.6,442.4L16.9,444.9ZM27.1,446.4L30.8,443.8L31.1,444.9L32.5,441.5L28.8,441.7L29.8,442.4L26.1,445.0ZM55.4,446.8L58.5,443.5L59.0,444.6L59.8,441.0L56.2,441.9L57.3,442.4L54.2,445.6ZM65.3,447.1L67.8,443.3L68.5,444.2L68.5,440.6L65.2,442.1L66.3,442.4L63.9,446.2ZM130.9,447.3L132.4,443.0L133.3,443.8L132.5,440.2L129.6,442.5L130.8,442.5L129.3,446.7ZM141.5,447.2L141.4,442.7L142.5,443.1L140.5,440.0L138.6,443.1L139.7,442.7L139.8,447.2ZM151.9,446.6L150.3,442.4L151.4,442.4L148.5,440.3L147.8,443.9L148.7,443.1L150.3,447.3ZM162.0,445.9L159.2,442.4L160.3,442.0L156.8,440.8L157.2,444.4L157.8,443.4L160.6,446.9ZM171.5,445.4L168.2,442.4L169.3,441.8L165.7,441.2L166.6,444.7L167.1,443.6L170.4,446.7ZM216.6,446.6L215.0,442.5L216.2,442.4L213.2,440.2L212.6,443.8L213.4,443.1L215.1,447.3ZM226.6,446.1L224.0,442.4L225.1,442.1L221.7,440.7L221.9,444.3L222.6,443.4L225.2,447.0ZM236.3,445.4L233.0,442.4L234.0,441.8L230.4,441.1L231.4,444.7L231.8,443.6L235.1,446.7ZM17.7,454.9L21.5,452.4L21.8,453.6L23.3,450.3L19.7,450.3L20.6,451.0L16.8,453.4ZM27.0,454.9L30.8,452.4L31.1,453.5L32.5,450.2L28.9,450.3L29.8,451.0L26.1,453.5ZM36.5,455.1L40.0,452.3L40.4,453.4L41.7,450.0L38.0,450.4L39.0,451.0L35.4,453.7ZM55.5,455.4L58.5,452.1L59.1,453.1L59.7,449.5L56.2,450.5L57.3,451.0L54.2,454.3ZM65.4,455.7L67.7,451.9L68.5,452.8L68.4,449.1L65.1,450.8L66.3,451.0L64.0,454.8ZM216.6,455.3L215.0,451.1L216.2,451.1L213.3,448.8L212.5,452.4L213.4,451.6L215.0,455.9ZM226.5,454.8L224.0,451.0L225.2,450.7L221.9,449.2L221.9,452.8L222.6,451.9L225.0,455.7ZM236.2,454.2L233.0,451.0L234.1,450.5L230.5,449.6L231.3,453.2L231.8,452.2L235.0,455.4ZM17.4,463.1L21.5,461.2L21.6,462.3L23.5,459.2L19.9,458.8L20.7,459.6L16.7,461.6ZM26.8,463.3L30.7,461.1L30.9,462.3L32.7,459.1L29.0,458.9L29.9,459.6L26.0,461.8ZM36.3,463.5L40.0,461.0L40.3,462.1L41.8,458.8L38.1,458.9L39.1,459.6L35.3,462.1ZM45.9,463.8L49.3,460.8L49.7,461.9L50.7,458.4L47.1,459.0L48.2,459.6L44.8,462.6ZM55.7,464.1L58.5,460.6L59.1,461.6L59.6,458.0L56.1,459.2L57.2,459.6L54.4,463.1ZM65.7,464.4L67.7,460.4L68.5,461.2L68.1,457.6L65.0,459.5L66.2,459.6L64.2,463.7ZM226.2,463.6L224.1,459.6L225.3,459.5L222.2,457.6L221.8,461.2L222.6,460.4L224.7,464.4ZM17.4,471.7L21.5,469.8L21.6,470.9L23.6,467.9L19.9,467.4L20.7,468.2L16.7,470.2ZM26.8,471.9L30.7,469.7L30.9,470.9L32.7,467.7L29.1,467.4L29.9,468.2L26.0,470.4ZM36.3,472.2L40.0,469.6L40.3,470.7L41.7,467.3L38.1,467.5L39.0,468.2L35.4,470.8ZM46.0,472.5L49.3,469.4L49.8,470.5L50.7,466.9L47.1,467.6L48.1,468.2L44.9,471.3ZM55.9,472.8L58.5,469.2L59.2,470.1L59.4,466.5L56.0,467.9L57.1,468.2L54.5,471.8ZM66.0,473.1L67.7,468.9L68.5,469.7L67.9,466.1L64.9,468.2L66.1,468.2L64.4,472.4ZM188.0,472.9L187.6,468.4L188.7,468.7L186.4,465.8L184.8,469.1L185.9,468.6L186.3,473.1ZM226.0,472.4L224.2,468.2L225.4,468.2L222.4,466.1L221.8,469.7L222.7,468.9L224.4,473.0ZM17.6,480.5L21.5,478.3L21.7,479.5L23.4,476.2L19.8,476.1L20.7,476.8L16.7,479.0ZM27.0,480.7L30.8,478.2L31.0,479.4L32.6,476.1L28.9,476.1L29.9,476.8L26.1,479.2ZM36.5,480.9L40.0,478.1L40.4,479.2L41.6,475.7L38.0,476.2L39.0,476.8L35.5,479.6ZM46.2,481.2L49.3,477.9L49.8,478.9L50.5,475.3L47.0,476.3L48.0,476.8L45.0,480.1ZM56.1,481.5L58.5,477.7L59.2,478.6L59.2,474.9L55.9,476.5L57.1,476.8L54.7,480.6ZM66.1,481.7L67.7,477.4L68.6,478.2L67.8,474.6L64.9,476.9L66.1,476.9L64.5,481.1ZM76.1,481.7L76.8,477.2L77.8,477.8L76.3,474.4L73.9,477.2L75.1,477.0L74.4,481.4ZM85.8,481.6L85.9,477.1L87.0,477.6L85.2,474.4L83.1,477.4L84.2,477.1L84.1,481.6ZM94.9,481.7L95.2,477.2L96.3,477.7L94.6,474.4L92.4,477.4L93.5,477.0L93.2,481.5ZM188.0,481.5L187.6,477.0L188.7,477.3L186.4,474.4L184.8,477.7L185.9,477.2L186.3,481.7ZM225.9,481.1L224.3,476.9L225.4,476.8L222.5,474.6L221.8,478.2L222.7,477.5L224.3,481.7ZM17.7,489.3L21.5,486.8L21.8,488.0L23.3,484.6L19.7,484.7L20.6,485.4L16.8,487.8ZM27.1,489.4L30.8,486.8L31.1,487.9L32.5,484.5L28.8,484.7L29.8,485.4L26.1,488.0ZM36.7,489.7L40.0,486.6L40.5,487.7L41.5,484.2L37.9,484.8L38.9,485.4L35.6,488.4ZM46.5,489.9L49.3,486.4L49.9,487.4L50.3,483.8L46.8,485.0L48.0,485.4L45.1,488.9ZM56.3,490.2L58.5,486.2L59.3,487.1L59.0,483.4L55.8,485.2L57.0,485.4L54.8,489.4ZM66.3,490.3L67.6,486.0L68.6,486.7L67.6,483.2L64.8,485.5L66.0,485.5L64.7,489.8ZM76.2,490.3L76.8,485.8L77.8,486.4L76.3,483.0L73.9,485.9L75.1,485.6L74.5,490.1ZM85.8,490.2L85.9,485.7L87.0,486.2L85.1,483.0L83.1,486.0L84.2,485.7L84.1,490.2ZM94.9,490.2L95.2,485.8L96.3,486.2L94.5,483.0L92.4,486.0L93.5,485.6L93.2,490.1ZM188.0,490.1L187.6,485.6L188.7,485.9L186.4,483.0L184.8,486.3L185.9,485.8L186.3,490.3ZM216.1,489.9L215.2,485.5L216.4,485.7L213.8,483.1L212.5,486.5L213.5,485.9L214.5,490.3ZM225.8,489.7L224.3,485.5L225.5,485.5L222.6,483.2L221.8,486.8L222.7,486.0L224.2,490.3ZM17.9,498.0L21.5,495.3L21.9,496.5L23.2,493.1L19.5,493.3L20.5,494.0L16.9,496.7ZM56.5,498.8L58.5,494.7L59.3,495.6L58.8,491.9L55.7,493.9L56.9,494.0L55.0,498.1ZM66.4,498.9L67.6,494.6L68.6,495.2L67.5,491.7L64.8,494.2L66.0,494.1L64.8,498.5ZM76.3,498.9L76.7,494.4L77.8,494.9L76.2,491.6L73.9,494.5L75.1,494.2L74.6,498.7ZM85.8,498.8L85.9,494.3L87.0,494.7L85.1,491.6L83.1,494.7L84.2,494.3L84.1,498.8ZM94.9,498.8L95.2,494.4L96.3,494.8L94.5,491.6L92.4,494.6L93.5,494.3L93.2,498.7ZM188.0,498.7L187.6,494.2L188.7,494.5L186.4,491.6L184.8,494.9L185.9,494.4L186.3,498.9ZM197.2,498.7L196.8,494.2L197.9,494.5L195.7,491.6L194.1,494.9L195.1,494.4L195.6,498.9ZM206.6,498.7L206.0,494.2L207.2,494.4L204.8,491.6L203.3,495.0L204.3,494.4L204.9,498.9ZM216.0,498.6L215.2,494.2L216.4,494.3L213.9,491.7L212.5,495.1L213.5,494.5L214.4,498.9ZM225.7,498.4L224.4,494.1L225.5,494.2L222.8,491.8L221.8,495.3L222.7,494.6L224.0,498.9ZM18.1,506.8L21.5,503.9L21.9,505.0L23.0,501.5L19.4,502.0L20.4,502.6L17.0,505.5ZM56.7,507.5L58.4,503.3L59.3,504.1L58.7,500.5L55.7,502.6L56.9,502.6L55.2,506.8ZM66.6,507.5L67.6,503.1L68.6,503.7L67.3,500.3L64.7,502.9L65.9,502.7L65.0,507.1ZM76.4,507.5L76.7,503.0L77.8,503.5L76.1,500.2L73.9,503.1L75.0,502.8L74.7,507.3ZM85.8,507.4L85.9,502.9L87.0,503.3L85.1,500.2L83.1,503.3L84.2,502.9L84.1,507.4ZM95.0,507.4L95.2,502.9L96.3,503.4L94.5,500.2L92.4,503.2L93.5,502.9L93.3,507.4ZM235.3,506.8L233.5,502.6L234.6,502.6L231.6,500.5L231.1,504.1L231.9,503.3L233.7,507.4ZM18.3,515.5L21.5,512.4L22.0,513.5L22.9,509.9L19.3,510.7L20.4,511.2L17.1,514.3ZM56.9,516.1L58.4,511.8L59.3,512.6L58.5,509.0L55.6,511.3L56.8,511.3L55.3,515.5ZM66.8,516.1L67.5,511.7L68.6,512.2L67.1,508.8L64.7,511.6L65.9,511.4L65.1,515.8ZM76.5,516.0L76.7,511.5L77.8,512.0L76.0,508.8L73.9,511.8L75.0,511.5L74.8,515.9ZM85.9,516.0L85.9,511.5L87.0,511.9L85.1,508.8L83.1,511.9L84.2,511.5L84.2,516.0ZM95.0,516.0L95.2,511.5L96.3,512.0L94.4,508.8L92.4,511.8L93.5,511.5L93.3,516.0ZM235.2,515.4L233.5,511.3L234.7,511.2L231.7,509.1L231.1,512.7L231.9,511.9L233.6,516.1ZM244.8,515.2L242.6,511.2L243.8,511.0L240.6,509.2L240.3,512.9L241.1,512.0L243.3,516.0ZM18.5,524.2L21.5,520.9L22.1,521.9L22.7,518.3L19.2,519.3L20.3,519.8L17.3,523.1ZM47.1,524.6L49.2,520.6L50.0,521.5L49.7,517.8L46.6,519.7L47.7,519.8L45.6,523.8ZM57.1,524.7L58.4,520.4L59.3,521.1L58.3,517.5L55.6,520.0L56.7,519.9L55.5,524.2ZM67.0,524.7L67.5,520.2L68.5,520.7L67.0,517.4L64.7,520.3L65.8,520.0L65.3,524.5ZM76.6,524.6L76.7,520.1L77.8,520.6L75.9,517.4L73.9,520.4L75.0,520.1L74.9,524.6ZM85.9,524.6L85.9,520.1L87.0,520.5L85.1,517.4L83.1,520.5L84.2,520.1L84.2,524.6ZM95.0,524.6L95.2,520.1L96.3,520.6L94.4,517.4L92.4,520.4L93.5,520.1L93.3,524.6ZM18.7,532.9L21.5,529.4L22.1,530.5L22.6,526.8L19.1,528.0L20.2,528.4L17.3,531.8ZM28.0,533.0L30.8,529.4L31.4,530.4L31.7,526.7L28.3,528.0L29.4,528.4L26.7,532.0ZM37.5,533.1L40.0,529.3L40.7,530.3L40.8,526.6L37.5,528.1L38.6,528.4L36.1,532.1ZM47.2,533.2L49.2,529.2L50.0,530.0L49.6,526.4L46.5,528.3L47.7,528.4L45.7,532.5ZM57.2,533.3L58.4,528.9L59.3,529.6L58.2,526.1L55.5,528.6L56.7,528.5L55.6,532.9ZM67.1,533.3L67.5,528.8L68.5,529.2L66.8,526.0L64.6,529.0L65.8,528.6L65.4,533.1ZM76.6,533.2L76.7,528.7L77.8,529.1L75.8,526.0L73.9,529.1L75.0,528.7L74.9,533.2ZM85.9,533.2L85.9,528.7L87.0,529.1L85.1,526.0L83.1,529.1L84.2,528.7L84.2,533.2ZM95.1,533.2L95.2,528.7L96.3,529.1L94.4,526.0L92.4,529.1L93.5,528.7L93.4,533.2Z" fill="#a4c9ef"/>
<path d="M63.9,312.0L66.3,315.8L65.2,316.1L68.5,317.6L68.5,314.0L67.8,314.9L65.3,311.1ZM73.3,311.9L75.5,315.8L74.3,316.0L77.5,317.7L77.7,314.1L77.0,315.0L74.8,311.0ZM54.3,321.1L57.3,324.4L56.2,324.9L59.7,325.9L59.1,322.3L58.5,323.3L55.6,319.9ZM54.1,329.9L57.4,333.0L56.3,333.6L59.9,334.3L59.0,330.7L58.5,331.8L55.3,328.7ZM53.9,338.8L57.5,341.6L56.5,342.2L60.1,342.6L58.9,339.2L58.5,340.3L55.0,337.5ZM63.4,338.5L66.6,341.6L65.6,342.2L69.2,342.9L68.3,339.3L67.8,340.4L64.5,337.3ZM72.8,338.2L75.7,341.6L74.6,342.0L78.1,343.1L77.6,339.5L77.0,340.5L74.1,337.1ZM72.1,366.8L76.6,367.1L76.2,368.2L79.4,366.5L76.4,364.3L76.8,365.4L72.3,365.1ZM72.2,375.8L76.7,375.6L76.4,376.7L79.4,374.6L76.2,372.8L76.7,373.9L72.2,374.1Z" fill="#6ea2dd"/>
<path d="M63.7,320.8L66.4,324.4L65.3,324.8L68.7,326.1L68.4,322.4L67.8,323.4L65.1,319.8ZM73.2,320.6L75.5,324.4L74.4,324.6L77.7,326.3L77.7,322.6L77.0,323.5L74.6,319.7ZM235.2,320.2L231.8,323.2L231.4,322.1L230.3,325.6L234.0,325.0L232.9,324.4L236.3,321.5ZM244.7,320.3L241.1,323.1L240.7,322.0L239.4,325.4L243.1,325.1L242.1,324.4L245.7,321.7ZM254.1,320.5L250.3,323.0L250.0,321.9L248.6,325.2L252.2,325.1L251.3,324.4L255.0,321.9ZM63.6,329.6L66.5,333.0L65.4,333.5L68.9,334.5L68.4,330.9L67.8,331.9L64.8,328.5ZM73.0,329.3L75.6,333.0L74.5,333.3L77.9,334.8L77.7,331.1L77.0,332.1L74.4,328.4ZM235.4,329.0L231.8,331.6L231.5,330.5L230.1,333.9L233.8,333.7L232.8,333.0L236.5,330.4ZM244.9,329.1L241.1,331.6L240.8,330.4L239.3,333.7L242.9,333.7L242.0,333.0L245.8,330.6ZM254.3,329.3L250.3,331.5L250.2,330.4L248.4,333.6L252.1,333.7L251.2,333.0L255.1,330.8ZM120.4,337.1L121.4,341.5L120.3,341.3L122.9,343.9L124.1,340.4L123.1,341.1L122.1,336.7ZM120.3,345.7L121.5,350.1L120.3,350.0L123.0,352.5L124.1,349.0L123.1,349.7L122.0,345.3ZM130.0,345.5L130.6,350.0L129.4,349.7L131.8,352.6L133.3,349.2L132.3,349.8L131.7,345.3ZM168.9,345.3L167.2,349.5L166.3,348.7L166.9,352.3L169.9,350.2L168.7,350.2L170.5,346.0ZM178.5,345.4L176.4,349.4L175.6,348.5L175.8,352.2L179.0,350.4L177.9,350.2L180.0,346.2ZM120.2,354.4L121.5,358.7L120.3,358.6L123.1,361.0L124.1,357.5L123.1,358.2L121.8,353.9ZM129.9,354.2L130.6,358.6L129.4,358.4L131.8,361.2L133.3,357.8L132.3,358.4L131.6,353.9ZM139.7,354.0L139.7,358.5L138.6,358.1L140.5,361.2L142.5,358.1L141.4,358.5L141.4,354.0ZM169.1,354.0L167.1,358.1L166.3,357.2L166.8,360.9L169.9,358.9L168.7,358.8L170.6,354.7ZM81.4,366.7L85.9,367.1L85.3,368.2L88.6,366.6L85.8,364.3L86.0,365.4L81.6,365.0ZM90.6,366.7L95.1,367.1L94.6,368.2L97.9,366.6L95.0,364.3L95.3,365.4L90.8,365.0ZM120.1,363.1L121.5,367.3L120.4,367.3L123.2,369.6L124.1,366.0L123.2,366.8L121.7,362.5ZM169.4,362.7L167.1,366.5L166.4,365.6L166.5,369.3L169.7,367.6L168.6,367.4L170.9,363.5ZM81.5,375.7L85.9,375.7L85.5,376.8L88.6,374.8L85.5,372.9L85.9,373.9L81.5,373.9ZM90.7,375.7L95.2,375.7L94.8,376.8L97.9,374.8L94.8,372.9L95.2,373.9L90.7,373.9ZM169.6,371.3L167.1,375.1L166.4,374.1L166.3,377.8L169.6,376.3L168.5,376.0L171.0,372.3ZM129.6,380.1L130.7,384.5L129.5,384.4L132.2,386.9L133.3,383.4L132.3,384.1L131.2,379.7ZM169.9,380.1L167.1,383.6L166.5,382.5L166.0,386.2L169.5,385.0L168.4,384.6L171.2,381.2ZM129.3,388.9L130.8,393.1L129.6,393.1L132.5,395.4L133.3,391.8L132.4,392.6L130.9,388.3ZM160.5,388.6L157.8,392.2L157.2,391.2L156.9,394.9L160.3,393.6L159.2,393.2L161.9,389.6ZM139.8,397.0L139.7,401.5L138.6,401.1L140.5,404.2L142.5,401.1L141.4,401.5L141.5,397.0ZM161.2,397.6L157.8,400.6L157.4,399.5L156.4,403.0L160.0,402.4L158.9,401.8L162.3,398.8ZM170.8,397.9L167.1,400.4L166.8,399.2L165.3,402.6L169.0,402.5L168.0,401.8L171.8,399.3ZM84.9,412.9L86.1,408.6L87.1,409.3L86.0,405.7L83.3,408.2L84.5,408.1L83.2,412.4ZM85.4,421.5L86.0,417.0L87.0,417.5L85.5,414.2L83.2,417.1L84.3,416.8L83.8,421.3ZM85.6,430.1L86.0,425.6L87.0,426.1L85.4,422.8L83.2,425.7L84.3,425.4L83.9,429.9ZM85.6,438.7L86.0,434.2L87.0,434.7L85.4,431.4L83.2,434.3L84.3,434.0L83.9,438.5ZM85.6,447.3L86.0,442.8L87.0,443.3L85.4,440.0L83.2,442.9L84.3,442.6L83.9,447.1Z" fill="#608ec2"/>
<path d="M129.9,362.8L130.6,367.2L129.5,367.0L131.9,369.7L133.3,366.4L132.3,366.9L131.5,362.5ZM139.7,362.6L139.7,367.1L138.6,366.7L140.5,369.8L142.5,366.7L141.4,367.1L141.4,362.6ZM129.7,371.4L130.6,375.9L129.5,375.7L132.0,378.3L133.3,374.9L132.3,375.5L131.4,371.1ZM139.7,371.2L139.7,375.7L138.6,375.3L140.5,378.4L142.5,375.3L141.4,375.7L141.4,371.2ZM139.7,379.8L139.7,384.3L138.6,383.9L140.5,387.0L142.5,383.9L141.4,384.3L141.4,379.8ZM139.8,388.4L139.7,392.9L138.6,392.5L140.5,395.6L142.5,392.5L141.4,392.9L141.5,388.4ZM170.2,388.9L167.1,392.0L166.6,391.0L165.8,394.5L169.3,393.7L168.3,393.2L171.4,390.1Z" fill="#4b7098"/>
<path d="M139.1,418.7L139.4,418.7L139.0,419.8L142.0,417.8L138.9,415.9L139.3,417.0L139.0,417.0ZM103.4,473.1L104.6,468.8L105.6,469.4L104.5,465.9L101.8,468.4L103.0,468.3L101.8,472.7ZM112.7,472.3L113.6,469.6L114.5,470.4L113.7,466.8L110.8,469.1L112.0,469.1L111.1,471.7ZM122.1,472.3L122.9,469.6L123.8,470.3L122.9,466.8L120.1,469.2L121.3,469.1L120.4,471.8ZM131.7,472.3L132.1,469.5L133.2,470.1L131.8,466.7L129.3,469.4L130.5,469.2L130.0,472.0ZM141.4,472.1L141.4,469.3L142.5,469.8L140.6,466.6L138.6,469.8L139.7,469.3L139.7,472.1ZM151.0,472.0L150.6,469.2L151.8,469.5L149.4,466.7L147.9,470.0L149.0,469.5L149.3,472.2ZM160.3,472.0L159.9,469.2L161.0,469.4L158.6,466.7L157.2,470.1L158.2,469.5L158.7,472.3ZM169.6,472.0L169.1,469.2L170.3,469.4L167.8,466.7L166.4,470.1L167.5,469.5L167.9,472.3ZM178.9,472.8L178.3,468.4L179.4,468.6L177.0,465.8L175.5,469.2L176.6,468.6L177.3,473.1ZM103.5,481.7L104.6,477.3L105.6,478.0L104.4,474.5L101.8,477.1L102.9,476.9L101.9,481.3ZM112.8,480.9L113.6,478.2L114.6,478.9L113.6,475.4L110.8,477.7L112.0,477.7L111.2,480.4ZM122.1,480.9L122.9,478.2L123.8,478.9L122.8,475.3L120.1,477.8L121.2,477.7L120.5,480.4ZM131.7,480.8L132.1,478.1L133.2,478.6L131.7,475.3L129.3,478.0L130.5,477.8L130.0,480.6ZM141.4,480.8L141.4,477.9L142.5,478.4L140.6,475.2L138.6,478.4L139.7,477.9L139.7,480.8ZM151.0,480.6L150.6,477.9L151.8,478.1L149.5,475.3L147.9,478.6L148.9,478.0L149.3,480.8ZM160.3,480.6L159.9,477.8L161.0,478.0L158.6,475.3L157.2,478.6L158.2,478.1L158.6,480.8ZM169.6,480.6L169.1,477.8L170.3,478.0L167.9,475.3L166.4,478.7L167.5,478.1L167.9,480.8ZM178.9,481.4L178.3,477.0L179.4,477.2L177.0,474.4L175.5,477.8L176.6,477.2L177.2,481.7ZM103.7,490.3L104.6,485.9L105.6,486.5L104.3,483.1L101.7,485.7L102.9,485.5L102.0,490.0ZM112.9,489.5L113.6,486.8L114.6,487.5L113.5,483.9L110.8,486.4L112.0,486.3L111.3,489.0ZM122.2,489.5L122.9,486.7L123.9,487.4L122.7,483.9L120.1,486.5L121.2,486.4L120.6,489.1ZM131.8,489.4L132.1,486.7L133.2,487.2L131.7,483.9L129.3,486.7L130.5,486.4L130.1,489.2ZM141.4,489.4L141.4,486.6L142.5,487.0L140.6,483.9L138.6,487.0L139.7,486.6L139.7,489.4ZM150.9,489.3L150.6,486.5L151.8,486.8L149.5,483.9L147.9,487.1L148.9,486.6L149.2,489.4ZM160.3,489.2L159.9,486.4L161.0,486.7L158.7,483.9L157.2,487.2L158.2,486.7L158.6,489.4ZM169.5,489.2L169.1,486.4L170.3,486.7L167.9,483.9L166.4,487.2L167.5,486.7L167.9,489.4ZM178.9,490.1L178.3,485.6L179.4,485.8L177.1,483.0L175.6,486.4L176.6,485.8L177.2,490.3ZM103.8,498.9L104.5,494.5L105.6,495.0L104.2,491.7L101.7,494.4L102.9,494.2L102.1,498.6ZM113.0,498.1L113.6,495.3L114.6,496.0L113.4,492.5L110.8,495.1L112.0,495.0L111.4,497.7ZM122.4,498.1L122.9,495.3L123.9,495.9L122.6,492.5L120.1,495.2L121.2,495.0L120.7,497.7ZM131.8,498.0L132.2,495.2L133.2,495.8L131.6,492.5L129.3,495.3L130.5,495.1L130.2,497.8ZM141.4,497.9L141.4,495.1L142.5,495.6L140.6,492.4L138.6,495.6L139.7,495.1L139.7,497.9ZM150.9,497.9L150.6,495.1L151.8,495.4L149.6,492.5L147.9,495.7L148.9,495.2L149.2,498.0ZM160.2,497.8L159.9,495.0L161.0,495.3L158.7,492.5L157.2,495.8L158.2,495.3L158.5,498.0ZM169.5,497.8L169.1,495.0L170.3,495.3L167.9,492.5L166.4,495.8L167.5,495.3L167.8,498.0ZM178.8,498.7L178.3,494.2L179.4,494.5L177.1,491.6L175.6,494.9L176.6,494.4L177.1,498.9ZM103.9,507.5L104.5,503.0L105.6,503.6L104.1,500.2L101.7,503.0L102.8,502.8L102.2,507.2ZM113.1,506.7L113.6,503.9L114.7,504.5L113.3,501.1L110.8,503.8L112.0,503.6L111.5,506.3ZM122.5,506.6L122.9,503.9L123.9,504.4L122.5,501.1L120.1,503.8L121.2,503.6L120.8,506.4ZM131.9,506.6L132.2,503.8L133.2,504.3L131.5,501.1L129.3,504.0L130.5,503.7L130.2,506.5ZM141.4,506.5L141.4,503.7L142.5,504.1L140.6,501.0L138.6,504.1L139.7,503.7L139.7,506.5ZM150.8,506.5L150.6,503.7L151.8,504.0L149.6,501.1L147.9,504.3L148.9,503.8L149.1,506.6ZM160.2,506.5L159.9,503.7L161.0,504.0L158.8,501.1L157.1,504.3L158.2,503.8L158.5,506.6ZM169.5,506.4L169.1,503.7L170.3,503.9L168.0,501.1L166.4,504.4L167.4,503.8L167.8,506.6ZM178.8,507.3L178.3,502.8L179.4,503.1L177.1,500.2L175.6,503.5L176.6,503.0L177.1,507.5ZM188.0,507.3L187.6,502.8L188.7,503.1L186.5,500.2L184.8,503.5L185.9,503.0L186.3,507.5ZM197.2,507.3L196.8,502.8L197.9,503.1L195.7,500.2L194.1,503.5L195.1,503.0L195.5,507.5ZM206.6,507.3L206.0,502.8L207.2,503.1L204.9,500.2L203.3,503.5L204.3,503.0L204.9,507.5ZM216.0,507.2L215.2,502.8L216.4,503.0L214.0,500.2L212.5,503.6L213.6,503.0L214.3,507.5ZM225.5,507.1L224.4,502.7L225.6,502.8L222.9,500.3L221.8,503.8L222.7,503.1L223.9,507.5ZM104.0,516.1L104.5,511.6L105.5,512.1L104.0,508.8L101.7,511.7L102.8,511.4L102.3,515.9ZM113.2,515.2L113.6,512.5L114.7,513.0L113.2,509.7L110.8,512.5L112.0,512.2L111.6,515.0ZM122.6,515.2L122.9,512.5L123.9,513.0L122.4,509.7L120.1,512.5L121.2,512.2L120.9,515.0ZM132.0,515.2L132.2,512.4L133.2,512.9L131.5,509.7L129.3,512.6L130.5,512.3L130.3,515.1ZM141.4,515.1L141.4,512.4L142.5,512.8L140.6,509.6L138.6,512.8L139.7,512.4L139.7,515.1ZM150.8,515.1L150.6,512.3L151.8,512.6L149.7,509.7L147.9,512.9L148.9,512.4L149.1,515.2ZM160.1,515.1L159.9,512.3L161.0,512.6L158.8,509.7L157.1,512.9L158.2,512.4L158.4,515.2ZM169.4,515.1L169.1,512.3L170.3,512.6L168.0,509.7L166.4,512.9L167.4,512.4L167.7,515.2ZM178.8,515.9L178.3,511.4L179.4,511.7L177.2,508.8L175.6,512.1L176.6,511.6L177.1,516.1ZM188.0,515.9L187.6,511.4L188.7,511.7L186.5,508.8L184.8,512.1L185.9,511.6L186.3,516.1ZM197.2,515.9L196.8,511.4L197.9,511.7L195.7,508.8L194.1,512.1L195.1,511.6L195.5,516.1ZM206.5,515.9L206.0,511.4L207.2,511.7L204.9,508.8L203.3,512.1L204.4,511.6L204.8,516.1ZM215.9,515.9L215.3,511.4L216.4,511.6L214.1,508.8L212.6,512.2L213.6,511.6L214.2,516.1ZM225.4,515.7L224.4,511.3L225.6,511.5L223.0,508.9L221.8,512.3L222.8,511.7L223.8,516.1ZM104.1,524.7L104.5,520.2L105.5,520.7L103.9,517.4L101.7,520.3L102.8,520.0L102.4,524.5ZM113.4,523.8L113.7,521.0L114.7,521.6L113.1,518.3L110.8,521.1L112.0,520.9L111.7,523.6ZM122.7,523.8L122.9,521.0L124.0,521.5L122.3,518.3L120.1,521.2L121.2,520.9L121.0,523.7ZM132.0,523.8L132.2,521.0L133.2,521.4L131.4,518.3L129.3,521.3L130.5,520.9L130.3,523.7ZM141.4,523.8L141.4,521.0L142.5,521.4L140.6,518.2L138.6,521.4L139.7,521.0L139.7,523.8ZM150.8,523.7L150.6,520.9L151.8,521.3L149.7,518.3L147.9,521.4L148.9,521.0L149.1,523.8ZM160.1,523.7L159.9,520.9L161.0,521.2L158.9,518.3L157.1,521.5L158.2,521.0L158.4,523.8ZM169.4,523.7L169.1,520.9L170.3,521.2L168.1,518.3L166.4,521.5L167.4,521.0L167.7,523.8ZM178.7,524.5L178.3,520.0L179.4,520.3L177.2,517.4L175.6,520.7L176.6,520.2L177.0,524.7ZM188.0,524.5L187.6,520.0L188.7,520.3L186.5,517.4L184.8,520.7L185.9,520.2L186.3,524.7ZM197.2,524.5L196.8,520.0L197.9,520.3L195.7,517.4L194.1,520.7L195.1,520.2L195.5,524.7ZM206.5,524.5L206.1,520.0L207.2,520.3L204.9,517.4L203.3,520.7L204.4,520.2L204.8,524.7ZM215.8,524.5L215.3,520.0L216.4,520.3L214.1,517.4L212.6,520.7L213.6,520.2L214.1,524.7ZM225.3,524.4L224.5,520.0L225.6,520.1L223.1,517.5L221.8,520.9L222.8,520.3L223.6,524.7ZM235.0,524.1L233.6,519.9L234.7,519.9L231.9,517.6L231.0,521.2L231.9,520.4L233.4,524.7ZM244.6,523.9L242.7,519.8L243.8,519.7L240.7,517.8L240.3,521.4L241.1,520.6L243.1,524.6ZM254.1,523.7L251.8,519.8L253.0,519.6L249.8,517.9L249.6,521.5L250.4,520.6L252.6,524.6ZM263.4,523.6L261.0,519.8L262.2,519.5L258.9,517.9L258.9,521.6L259.6,520.7L262.0,524.5ZM104.1,533.3L104.5,528.8L105.5,529.2L103.8,526.0L101.6,529.0L102.8,528.6L102.4,533.1ZM113.4,532.4L113.7,529.6L114.7,530.1L113.0,526.9L110.8,529.8L112.0,529.5L111.7,532.3ZM122.7,532.4L122.9,529.6L124.0,530.1L122.2,526.9L120.1,529.8L121.2,529.5L121.0,532.3ZM132.1,532.4L132.2,529.6L133.2,530.0L131.4,526.9L129.3,529.9L130.5,529.5L130.4,532.3ZM141.4,532.4L141.4,529.6L142.5,530.0L140.6,526.9L138.6,530.0L139.7,529.6L139.7,532.4ZM150.7,532.3L150.6,529.5L151.8,529.9L149.7,526.9L147.9,530.0L148.9,529.6L149.0,532.4ZM160.0,532.3L159.9,529.5L161.0,529.9L158.9,526.9L157.1,530.0L158.2,529.6L158.3,532.4ZM169.3,532.3L169.1,529.5L170.3,529.8L168.1,526.9L166.4,530.1L167.4,529.6L167.6,532.4ZM178.7,533.1L178.3,528.6L179.5,528.9L177.2,526.0L175.6,529.3L176.6,528.8L177.0,533.3ZM188.0,533.1L187.6,528.6L188.7,528.9L186.5,526.0L184.8,529.3L185.9,528.8L186.3,533.3ZM197.2,533.1L196.8,528.6L197.9,528.9L195.7,526.0L194.1,529.3L195.1,528.8L195.5,533.3ZM206.5,533.1L206.1,528.6L207.2,528.9L205.0,526.0L203.3,529.3L204.4,528.8L204.8,533.3ZM215.7,533.1L215.3,528.6L216.4,528.9L214.2,526.0L212.6,529.3L213.6,528.8L214.0,533.3ZM225.2,533.0L224.5,528.6L225.6,528.8L223.2,526.0L221.8,529.4L222.8,528.8L223.5,533.3ZM235.0,532.8L233.6,528.5L234.7,528.5L231.9,526.2L231.0,529.7L232.0,529.0L233.4,533.3ZM244.5,532.5L242.7,528.4L243.9,528.3L240.8,526.3L240.3,529.9L241.2,529.1L243.0,533.2ZM254.0,532.4L251.9,528.4L253.0,528.3L249.9,526.4L249.6,530.1L250.4,529.2L252.5,533.2ZM263.3,532.3L261.1,528.4L262.2,528.2L259.0,526.5L258.9,530.1L259.6,529.2L261.9,533.1Z" fill="#b6d3f2"/>
<path d="M89,379 H110.8 V444.8 H170 V379 H191.7 V465 H89 Z" fill="#7a7a7a"/>
<defs><linearGradient id="cbc" x1="0" y1="1" x2="0" y2="0"><stop offset="0.00" stop-color="#f8fbfe"/><stop offset="0.10" stop-color="#e3edf9"/><stop offset="0.20" stop-color="#c5dbf3"/><stop offset="0.30" stop-color="#b0d0f1"/><stop offset="0.40" stop-color="#90bdeb"/><stop offset="0.50" stop-color="#70a5e1"/><stop offset="0.60" stop-color="#5b87b9"/><stop offset="0.70" stop-color="#496c94"/><stop offset="0.80" stop-color="#354f6b"/><stop offset="0.90" stop-color="#1e2b3b"/><stop offset="1.00" stop-color="#0c1016"/></linearGradient></defs>
<rect x="278.5" y="300.1" width="12" height="231.4" fill="url(#cbc)" stroke="#555" stroke-width="0.8"/>
<text x="294.5" y="534.80" font-family="Liberation Sans, sans-serif" font-size="9.4" fill="#333">0</text>
<text x="294.5" y="488.52" font-family="Liberation Sans, sans-serif" font-size="9.4" fill="#333">0.2</text>
<text x="294.5" y="442.24" font-family="Liberation Sans, sans-serif" font-size="9.4" fill="#333">0.4</text>
<text x="294.5" y="395.96" font-family="Liberation Sans, sans-serif" font-size="9.4" fill="#333">0.6</text>
<text x="294.5" y="349.68" font-family="Liberation Sans, sans-serif" font-size="9.4" fill="#333">0.8</text>
<text x="294.5" y="303.40" font-family="Liberation Sans, sans-serif" font-size="9.4" fill="#333">1.0</text>
<path d="M287.5,485.22h3M287.5,438.94h3M287.5,392.66h3M287.5,346.38h3" stroke="#333" stroke-width="0.8"/>
<text transform="translate(315.2,415.8) rotate(90)" font-family="Liberation Sans, sans-serif" font-size="10" text-anchor="middle" fill="#222" textLength="86" lengthAdjust="spacingAndGlyphs">Action probability</text>
<text transform="translate(-0.7,303.7) scale(1.15,1)" font-family="Liberation Sans, sans-serif" font-size="15" font-weight="bold" fill="#000" stroke="#000" stroke-width="0.4">c</text>
<defs><clipPath id="cd"><rect x="371.5" y="303.0" width="246.0" height="228.5"/></clipPath></defs>
<g clip-path="url(#cd)">
<rect x="371.5" y="303.0" width="246.0" height="228.5" fill="#f6fafe"/>
<path d="M615.0,530.5L373.0,530.5L372.0,529.5L372.0,303.5L617.0,303.5L617.0,529.1L615.6,530.5L615.0,530.5ZM536.7,455.5L536.5,388.5L536.0,388.0L534.0,388.0L533.5,388.5L533.5,449.5L532.6,451.5L530.7,453.5L528.0,455.0L460.0,455.0L457.2,453.5L455.3,451.5L454.5,449.5L454.4,388.5L454.0,388.0L453.0,388.0L452.5,388.5L452.4,455.5L453.0,456.1L536.0,456.2L536.7,455.5Z" fill="#f1f6fd" fill-rule="evenodd"/>
<path d="M614.0,530.5L374.0,530.5L372.0,528.4L372.0,303.5L617.0,303.5L617.0,527.9L615.0,530.1L614.0,530.5ZM536.7,455.5L536.6,388.5L536.0,388.0L534.0,388.0L533.5,388.5L533.4,449.5L532.6,451.5L530.7,453.5L528.0,454.9L460.0,455.0L457.2,453.5L455.4,451.5L454.5,449.5L454.5,388.5L454.0,388.0L453.0,388.0L452.5,388.5L452.3,455.5L453.0,456.2L536.0,456.2L536.7,455.5Z" fill="#e7f0fa" fill-rule="evenodd"/>
<path d="M613.0,530.5L375.2,530.5L374.1,529.5L372.0,527.0L372.0,303.5L617.0,303.5L617.0,526.6L615.0,529.0L613.0,530.5ZM536.7,455.5L536.6,388.5L536.0,387.9L534.0,387.9L533.5,388.5L533.4,449.5L532.6,451.5L530.7,453.5L528.0,454.9L460.0,455.0L457.3,453.5L455.4,451.5L454.5,449.5L454.5,388.5L454.0,388.0L453.0,388.0L452.5,388.5L452.3,455.5L453.0,456.2L536.0,456.2L536.7,455.5Z" fill="#e2edf9" fill-rule="evenodd"/>
<path d="M611.0,530.5L376.8,530.5L375.0,529.1L372.0,525.4L372.0,303.5L617.0,303.5L617.0,524.9L614.1,528.5L611.0,530.5ZM536.7,455.5L536.6,388.5L536.0,387.9L534.0,387.9L533.5,388.5L533.4,449.5L532.5,451.5L530.7,453.5L528.0,454.9L460.0,454.9L457.3,453.5L455.4,451.5L454.6,449.5L454.5,388.5L454.0,388.0L453.0,388.0L452.4,388.5L452.3,455.5L453.0,456.2L536.0,456.3L536.7,455.5Z" fill="#ddeaf8" fill-rule="evenodd"/>
<path d="M608.0,530.5L378.7,530.5L375.0,527.7L372.0,523.3L372.0,303.5L617.0,303.5L617.0,522.9L615.0,525.9L613.0,527.9L608.0,530.5ZM536.8,455.5L536.6,388.5L536.0,387.9L534.0,387.9L533.4,388.5L533.4,449.5L532.5,451.5L530.6,453.5L528.0,454.9L460.0,454.9L457.3,453.5L455.4,451.5L454.6,449.5L454.5,388.5L454.0,387.9L453.0,387.9L452.4,388.5L452.3,455.5L453.0,456.2L536.0,456.3L536.8,455.5Z" fill="#d3e3f6" fill-rule="evenodd"/>
<path d="M601.0,530.5L381.5,530.5L378.0,528.6L376.0,526.9L374.0,524.4L372.0,520.4L372.0,303.5L617.0,303.5L617.0,520.2L614.5,524.5L611.2,527.5L607.0,529.4L601.0,530.5ZM536.8,455.5L536.7,388.5L536.0,387.9L534.0,387.9L533.4,388.5L533.4,449.5L532.5,451.5L530.6,453.5L528.0,454.9L460.0,454.9L457.4,453.5L455.5,451.5L454.6,449.5L454.5,388.5L454.0,387.9L453.0,387.9L452.4,388.5L452.3,455.5L453.0,456.3L536.0,456.3L536.8,455.5Z" fill="#c8ddf4" fill-rule="evenodd"/>
<path d="M582.0,530.5L385.8,530.5L380.7,528.5L376.8,525.5L374.0,521.5L372.0,516.0L372.0,304.3L372.8,303.5L613.0,303.5L617.0,303.8L617.0,516.1L616.0,519.0L614.0,522.5L612.0,524.7L609.0,526.6L602.0,528.4L582.0,530.5ZM536.8,455.5L536.7,388.5L536.0,387.9L534.0,387.9L533.4,388.5L533.4,449.5L532.5,451.5L530.6,453.5L528.0,454.9L460.0,454.9L457.4,453.5L455.5,451.5L454.6,449.5L454.6,388.5L454.0,387.9L453.0,387.9L452.4,388.5L452.2,455.5L453.0,456.3L536.0,456.3L536.8,455.5Z" fill="#c1d9f3" fill-rule="evenodd"/>
<path d="M568.0,530.5L528.2,530.5L516.0,528.7L503.0,529.1L493.0,528.6L477.0,529.9L463.0,529.1L452.7,530.5L423.0,530.5L409.0,529.7L401.3,530.5L393.2,530.5L388.6,529.5L383.1,527.5L380.0,525.7L377.6,523.5L375.6,520.5L374.0,516.8L372.0,508.3L372.0,305.3L373.7,303.5L615.8,303.5L617.0,304.7L617.0,500.1L615.9,513.5L615.0,516.7L612.9,520.5L610.0,523.3L607.0,524.8L603.0,525.6L583.0,527.8L573.0,530.0L568.0,530.5ZM536.8,455.5L536.7,388.5L536.0,387.8L534.0,387.8L533.4,388.5L533.3,449.5L532.4,451.5L530.5,453.5L528.0,454.8L460.0,454.9L457.4,453.5L455.5,451.5L454.6,449.5L454.6,388.5L454.0,387.9L453.0,387.9L452.3,388.5L452.2,455.5L453.0,456.3L536.0,456.4L536.8,455.5Z" fill="#bbd5f2" fill-rule="evenodd"/>
<path d="M446.0,529.7L439.0,530.2L426.0,528.1L410.0,526.7L398.0,528.5L393.0,528.2L387.3,526.5L381.7,523.5L378.0,519.5L376.0,515.2L372.0,501.1L372.0,306.5L374.8,303.5L614.9,303.5L617.0,305.7L617.0,486.4L614.3,502.5L613.4,512.5L612.5,515.5L611.3,517.5L609.0,519.8L605.0,521.4L584.0,522.2L572.0,526.9L558.0,528.7L534.0,528.6L528.0,527.7L518.0,525.3L505.0,525.0L496.0,524.2L486.0,525.1L478.0,526.6L467.0,525.4L462.0,525.6L456.0,526.7L446.0,529.7ZM536.9,455.5L536.7,388.5L536.0,387.8L534.0,387.8L533.4,388.5L533.3,449.5L532.4,451.5L530.5,453.5L528.0,454.8L460.0,454.8L457.5,453.5L455.5,451.5L454.7,449.5L454.6,388.5L454.0,387.9L453.0,387.8L452.3,388.5L452.2,455.5L453.0,456.3L536.0,456.4L536.9,455.5Z" fill="#b5d2f1" fill-rule="evenodd"/>
<path d="M444.0,526.6L441.0,527.0L437.0,526.6L414.0,520.5L410.0,520.8L398.0,524.7L394.0,524.7L391.0,523.8L385.4,520.5L381.3,516.5L373.0,497.6L372.0,493.7L372.0,307.9L373.0,306.5L376.0,303.5L613.7,303.5L617.0,307.0L617.0,472.6L614.0,488.4L609.3,501.5L608.0,510.3L607.0,512.6L604.0,514.7L598.0,515.1L594.0,514.4L587.0,511.2L583.0,511.0L580.0,511.9L572.0,515.8L566.0,517.8L560.4,522.5L558.6,523.5L554.0,524.6L544.0,525.2L536.0,525.0L532.0,524.4L529.0,523.3L519.0,518.2L511.0,516.8L500.0,513.4L496.0,513.0L489.0,515.7L478.0,519.0L475.0,519.0L468.0,518.1L462.0,518.9L456.0,521.0L444.0,526.6ZM536.9,455.5L536.7,388.5L536.0,387.8L534.0,387.8L533.3,388.5L533.3,449.5L532.4,451.5L530.5,453.5L528.0,454.8L460.0,454.8L457.5,453.5L455.6,451.5L454.7,449.5L454.6,388.5L454.0,387.8L453.0,387.8L452.3,388.5L452.2,455.5L453.0,456.4L536.0,456.4L536.9,455.5Z" fill="#aecff1" fill-rule="evenodd"/>
<path d="M441.0,518.6L437.0,518.1L425.0,513.4L418.0,512.1L410.0,512.2L400.0,515.7L397.0,515.5L392.0,514.0L388.0,511.8L385.0,508.7L377.0,498.5L374.0,492.5L372.0,484.6L372.0,331.5L372.0,309.8L374.0,306.7L377.6,303.5L612.3,303.5L613.6,304.5L617.0,308.5L617.0,462.9L616.0,467.9L613.0,476.8L611.0,481.0L609.0,483.9L605.5,487.5L602.0,489.9L599.0,491.1L592.7,492.5L589.0,494.3L577.7,503.5L573.0,506.6L570.0,507.7L562.0,508.6L557.0,509.9L552.0,512.2L547.0,515.9L544.0,516.9L539.0,517.2L534.6,515.5L524.0,505.4L513.0,499.8L507.2,490.5L505.0,488.9L503.0,488.5L500.0,489.2L498.0,490.5L495.0,493.7L488.3,502.5L484.0,506.1L480.0,508.6L477.0,509.7L473.0,509.9L461.0,506.0L458.0,505.7L455.0,506.1L452.0,508.0L447.2,514.5L445.2,516.5L443.0,518.0L441.0,518.6ZM536.9,455.5L536.8,388.5L536.0,387.8L534.0,387.8L533.3,388.5L533.3,449.5L532.4,451.5L530.4,453.5L528.0,454.8L460.0,454.8L457.5,453.5L455.6,451.5L454.7,449.5L454.6,388.5L454.0,387.8L453.0,387.8L452.3,388.5L452.1,455.5L453.0,456.4L536.0,456.4L536.9,455.5Z" fill="#a8cbf0" fill-rule="evenodd"/>
<path d="M417.0,502.6L412.0,503.1L406.0,502.8L394.0,500.6L391.0,499.5L386.0,495.3L380.0,492.5L378.0,491.0L375.0,486.2L372.9,479.5L372.0,474.4L372.0,312.5L374.0,308.5L376.0,306.1L379.5,303.5L604.0,303.5L610.5,303.5L614.0,306.2L617.0,310.8L617.0,451.1L614.0,464.8L612.0,469.0L610.0,471.5L606.0,474.8L600.0,478.4L595.0,480.2L587.0,482.1L583.0,484.0L579.0,487.6L572.0,496.8L569.0,498.7L566.0,499.5L555.0,500.4L544.0,498.4L538.0,500.1L536.0,499.9L534.0,498.7L529.4,494.5L523.0,491.6L521.0,490.1L519.0,487.5L515.1,479.5L512.0,477.1L506.0,476.1L485.0,476.2L481.0,476.9L477.8,478.5L475.5,480.5L471.0,485.9L469.0,487.1L458.0,486.9L453.0,488.5L442.0,497.8L438.0,500.4L436.0,500.9L426.0,501.3L417.0,502.6ZM536.9,455.5L536.8,388.5L536.0,387.7L534.0,387.8L533.3,388.5L533.3,449.5L532.3,451.5L530.4,453.5L528.0,454.8L460.0,454.8L457.5,453.5L455.6,451.5L454.7,449.5L454.7,388.5L454.0,387.8L453.0,387.8L452.3,388.5L452.1,455.5L453.0,456.4L536.0,456.5L536.9,455.5Z" fill="#9cc4ee" fill-rule="evenodd"/>
<path d="M413.0,492.5L409.0,492.6L398.0,489.2L391.0,486.4L381.0,484.7L379.0,483.6L377.0,481.3L375.3,477.5L374.5,474.5L374.0,469.5L374.4,458.5L372.7,445.5L372.0,431.7L372.0,316.5L374.3,310.5L377.4,306.5L382.1,303.5L608.2,303.5L613.0,306.8L615.1,309.5L617.0,314.4L616.7,422.5L617.0,442.0L616.0,446.9L612.0,458.3L610.0,461.9L608.0,464.1L602.0,468.0L596.0,470.4L586.0,472.5L578.0,472.5L575.0,473.1L572.5,474.5L566.0,479.6L563.0,480.9L559.0,481.7L551.0,481.8L540.0,479.2L530.0,478.6L527.0,477.7L524.0,475.3L521.8,472.5L520.2,469.5L520.0,467.5L521.7,460.5L521.2,458.5L519.6,456.5L536.0,456.5L537.0,455.5L536.8,388.5L536.0,387.7L534.0,387.7L533.3,388.5L533.2,449.5L532.3,451.5L530.4,453.5L528.0,454.7L459.1,454.5L456.0,451.9L454.7,449.5L454.7,388.5L454.0,387.8L453.0,387.8L452.2,388.5L452.1,455.5L453.0,456.4L492.4,456.5L493.2,458.5L495.0,459.9L501.0,460.6L503.1,461.5L504.7,463.5L504.7,465.5L503.0,467.2L501.0,467.9L488.0,468.1L483.0,468.9L475.0,472.1L465.0,478.3L461.0,480.1L450.0,482.8L441.0,486.6L420.0,490.0L413.0,492.5Z" fill="#91bdec" fill-rule="evenodd"/>
<path d="M439.0,478.6L434.0,478.9L429.0,478.5L421.0,475.9L413.0,474.5L405.0,472.4L401.0,472.4L389.0,473.7L384.0,473.8L381.1,472.5L380.0,470.8L379.3,458.5L376.0,447.6L375.0,441.6L373.3,420.5L373.1,405.5L372.0,389.4L372.0,323.2L373.0,318.3L374.7,313.5L376.2,310.5L378.6,307.5L381.3,305.5L385.8,303.5L480.0,303.5L604.9,303.5L609.0,305.4L611.7,307.5L613.3,309.5L614.8,312.5L617.0,321.0L617.0,380.1L616.3,386.5L615.7,405.5L614.1,420.5L614.7,440.5L614.2,443.5L613.0,446.4L609.0,451.6L604.0,455.3L600.0,456.7L596.0,456.6L588.0,454.8L577.0,456.6L572.0,458.7L565.0,464.2L562.0,465.2L559.0,465.6L550.0,465.9L548.0,465.4L537.0,456.4L536.8,388.5L536.0,387.7L534.0,387.7L533.3,388.5L533.2,449.5L532.3,451.5L530.3,453.5L528.0,454.7L459.1,454.5L456.0,451.9L454.8,449.5L454.7,388.5L454.0,387.7L453.0,387.7L452.2,388.5L452.1,455.5L453.0,456.5L471.9,456.5L472.4,461.5L471.5,464.5L470.0,466.5L465.0,470.5L460.1,473.5L455.0,475.3L446.0,476.3L439.0,478.6Z" fill="#87b6e9" fill-rule="evenodd"/>
<path d="M442.0,466.7L439.0,467.1L432.0,466.4L429.0,465.6L423.0,462.8L420.0,461.9L410.0,460.8L400.0,461.0L394.0,459.0L390.0,457.0L387.4,454.5L384.0,449.0L379.7,440.5L378.0,434.8L377.1,428.5L376.1,417.5L375.5,403.5L373.3,379.5L373.5,339.5L373.1,330.5L373.6,324.5L375.0,318.3L377.6,312.5L380.7,308.5L385.2,305.5L391.0,303.5L480.0,303.5L596.7,303.5L602.0,304.3L605.0,305.2L607.6,306.5L610.0,308.5L613.1,313.5L617.0,327.9L617.0,367.8L613.9,384.5L613.0,398.5L612.0,406.5L609.0,417.1L607.6,420.5L606.0,422.8L604.0,424.3L600.0,426.0L582.0,432.0L579.7,434.5L575.0,444.5L573.0,446.8L570.0,448.7L567.0,449.4L562.0,449.8L555.0,451.8L551.0,452.3L537.0,450.7L536.9,388.5L536.0,387.7L534.0,387.7L533.2,388.5L533.2,449.5L532.3,451.5L530.3,453.5L528.0,454.7L460.0,454.7L458.0,453.8L456.0,451.9L454.8,449.5L454.7,388.5L454.0,387.7L453.0,387.7L452.2,388.5L452.0,455.5L453.0,456.5L455.8,456.5L446.5,464.5L442.0,466.7Z" fill="#7cb0e5" fill-rule="evenodd"/>
<path d="M446.0,458.6L441.0,459.4L435.5,458.5L431.0,456.5L426.0,452.6L423.0,451.2L408.0,451.1L403.0,449.9L399.3,447.5L396.7,443.5L394.8,441.5L387.0,437.1L385.0,434.8L384.0,432.9L383.0,428.5L382.2,416.5L378.0,392.5L376.0,377.8L376.9,341.5L375.8,329.5L376.2,324.5L377.9,318.5L380.6,313.5L384.0,309.5L386.6,307.5L390.8,305.5L402.9,303.5L480.0,303.5L556.6,303.5L565.0,304.2L590.0,304.9L597.3,305.5L602.0,306.4L604.6,307.5L607.3,309.5L610.0,313.8L616.3,332.5L617.0,336.6L616.7,354.5L616.0,361.2L614.2,370.5L609.7,382.5L607.4,394.5L602.0,408.6L600.3,411.5L598.5,413.5L595.0,416.2L591.0,418.0L588.0,418.3L581.0,417.6L578.0,418.5L573.0,422.5L567.0,430.1L565.0,431.9L551.0,440.6L547.0,441.2L537.0,439.6L536.9,388.5L536.0,387.7L534.0,387.7L533.2,388.5L533.2,449.5L532.2,451.5L530.3,453.5L528.0,454.7L460.0,454.7L458.0,453.8L456.0,451.8L454.8,449.5L454.7,388.5L454.0,387.7L453.0,387.7L452.2,388.5L452.0,456.0L446.0,458.6Z" fill="#74a9e2" fill-rule="evenodd"/>
<path d="M528.0,454.7L460.0,454.7L457.7,453.5L455.8,451.5L454.8,449.5L454.8,388.5L454.0,387.7L453.0,387.7L452.1,388.5L452.0,448.9L443.0,449.4L441.0,449.1L439.0,448.0L436.0,444.4L431.0,435.3L428.0,432.3L425.0,431.6L416.0,433.1L410.0,432.6L404.0,430.2L398.3,425.5L396.7,423.5L395.2,420.5L392.0,409.5L386.0,393.3L383.7,383.5L381.6,377.5L380.9,373.5L381.3,358.5L384.0,347.5L384.8,340.5L384.3,336.5L381.0,328.5L381.0,324.5L381.9,321.5L384.0,317.5L388.9,310.5L391.7,308.5L394.0,307.5L410.8,303.5L527.1,303.5L545.0,305.2L555.2,305.5L565.0,306.7L593.0,308.1L599.8,309.5L603.0,311.5L605.0,314.4L607.5,320.5L613.3,331.5L615.0,338.2L615.2,344.5L614.0,356.0L611.1,366.5L609.0,371.0L603.9,378.5L599.4,391.5L597.0,395.0L593.0,398.6L579.0,406.1L575.0,408.9L563.0,421.5L558.4,425.5L550.0,431.4L548.0,432.1L545.0,432.4L537.0,431.5L536.9,388.5L536.0,387.6L534.0,387.6L533.2,388.5L533.2,449.5L532.2,451.5L530.3,453.5L528.0,454.7Z" fill="#6da1dc" fill-rule="evenodd"/>
<path d="M528.0,454.6L460.0,454.7L457.7,453.5L455.8,451.5L454.8,449.5L454.8,388.5L454.0,387.7L453.0,387.7L452.1,388.5L452.0,435.8L447.0,435.9L443.0,434.3L440.0,431.4L435.0,424.2L432.0,421.8L428.0,420.4L420.0,419.5L417.0,418.7L414.0,416.9L411.4,414.5L406.2,406.5L400.5,400.5L397.4,395.5L395.5,390.5L391.4,374.5L389.8,362.5L389.6,357.5L390.6,353.5L393.7,346.5L394.8,342.5L395.0,336.5L393.6,327.5L393.4,323.5L394.3,317.5L395.1,315.5L396.6,313.5L408.6,306.5L415.7,304.5L422.8,303.5L517.4,303.5L532.0,306.6L546.0,308.3L556.0,308.8L587.0,313.3L592.0,314.5L596.0,316.8L598.1,320.5L598.9,326.5L598.3,328.5L595.0,332.2L593.8,334.5L593.3,338.5L594.0,343.6L594.6,344.5L596.0,345.1L607.0,344.6L608.0,345.5L608.2,346.5L608.1,348.5L607.4,350.5L605.9,352.5L595.6,362.5L593.2,365.5L590.1,371.5L587.7,379.5L585.4,383.5L577.4,390.5L571.5,398.5L564.6,404.5L561.0,408.4L553.2,419.5L549.0,422.8L545.0,423.6L537.0,422.4L536.9,388.5L536.0,387.6L534.0,387.6L533.2,388.5L533.1,449.5L532.2,451.5L530.2,453.5L528.0,454.6Z" fill="#6899d1" fill-rule="evenodd"/>
<path d="M528.0,454.6L460.0,454.6L457.8,453.5L455.8,451.5L454.8,449.5L454.8,388.5L454.0,387.6L453.0,387.6L452.1,388.5L452.0,427.0L448.0,426.0L445.0,424.2L434.0,413.0L431.0,410.6L420.0,406.5L417.1,404.5L415.2,402.5L405.5,388.5L399.3,375.5L397.9,368.5L398.2,363.5L399.3,359.5L405.2,348.5L406.4,345.5L406.7,342.5L406.2,335.5L406.6,328.5L406.4,318.5L407.9,313.5L410.2,310.5L413.3,308.5L418.9,306.5L435.0,304.3L460.4,303.5L484.0,303.5L509.6,304.5L517.0,305.6L532.0,310.8L539.0,311.8L546.0,313.6L555.0,314.2L561.9,315.5L566.9,317.5L569.3,319.5L570.8,322.5L571.5,329.5L574.6,344.5L574.7,349.5L573.3,358.5L573.1,363.5L573.6,369.5L575.4,375.5L575.3,378.5L574.2,380.5L569.4,385.5L564.1,392.5L556.6,398.5L550.0,408.3L547.0,410.1L540.0,409.8L537.0,410.3L536.9,388.5L536.0,387.6L534.0,387.6L533.2,388.5L533.1,449.5L532.2,451.5L530.2,453.5L528.0,454.6Z" fill="#6290c5" fill-rule="evenodd"/>
<path d="M528.0,454.6L460.0,454.6L458.0,453.7L455.8,451.5L454.9,449.5L454.8,388.5L454.0,387.6L453.0,387.6L452.1,388.5L452.0,416.9L443.0,412.1L440.0,409.9L429.1,399.5L423.4,391.5L413.0,383.8L409.2,378.5L406.8,372.5L406.3,369.5L406.5,366.5L412.0,355.9L414.3,347.5L414.5,343.5L413.5,324.5L413.7,320.5L415.3,316.5L419.0,312.3L424.0,309.7L434.0,307.4L461.0,305.6L485.0,305.6L509.0,307.3L513.0,308.2L517.0,309.6L531.0,317.5L548.0,323.1L561.0,329.8L564.0,332.5L565.6,335.5L566.2,338.5L565.2,351.5L566.4,374.5L566.1,377.5L564.4,380.5L559.1,386.5L552.2,391.5L546.0,397.8L543.0,399.2L537.0,400.7L537.0,388.5L536.0,387.6L534.0,387.6L533.1,388.5L533.1,449.5L532.1,451.5L530.2,453.5L528.0,454.6Z" fill="#5a86b8" fill-rule="evenodd"/>
<path d="M528.0,454.6L460.0,454.6L458.0,453.6L455.9,451.5L454.9,449.5L454.8,388.5L454.0,387.6L453.0,387.6L452.0,388.5L452.0,407.4L444.0,404.1L440.0,401.2L436.9,397.5L430.0,385.8L420.0,376.8L418.3,374.5L417.5,372.5L417.2,367.5L419.0,357.5L421.0,334.0L423.0,327.6L425.5,324.5L431.0,321.2L439.0,315.5L445.0,313.0L462.0,309.3L482.0,308.6L489.0,308.9L502.0,311.0L506.0,312.3L512.0,316.2L521.0,319.8L536.0,328.6L548.0,333.4L553.5,337.5L554.8,339.5L555.9,342.5L558.3,357.5L559.0,370.5L558.7,375.5L557.5,378.5L555.2,381.5L552.0,384.3L549.0,386.1L537.0,391.0L537.0,388.5L536.0,387.6L534.0,387.6L533.1,388.5L533.1,449.5L532.1,451.5L530.1,453.5L528.0,454.6Z" fill="#547caa" fill-rule="evenodd"/>
<path d="M528.0,454.6L460.0,454.6L458.0,453.6L455.9,451.5L454.9,449.5L454.9,388.5L454.0,387.6L453.0,387.6L452.0,388.5L452.0,398.2L446.0,396.2L443.1,394.5L440.0,390.5L435.6,381.5L428.4,371.5L426.2,366.5L425.6,353.5L426.2,348.5L429.4,339.5L431.3,336.5L434.0,333.9L447.6,326.5L455.0,323.5L461.5,318.5L465.2,316.5L471.0,315.2L486.0,314.5L490.3,315.5L508.8,323.5L517.0,325.9L522.0,328.1L527.3,331.5L537.0,340.0L544.8,344.5L546.8,346.5L549.0,350.9L552.1,360.5L553.1,368.5L553.1,373.5L551.5,377.5L549.0,380.1L542.0,383.8L537.0,387.8L534.0,387.5L533.1,388.5L533.1,449.5L532.2,450.5L532.1,451.5L530.1,453.5L529.0,453.7L528.0,454.6Z" fill="#4e739d" fill-rule="evenodd"/>
<path d="M528.0,454.5L460.0,454.6L458.0,453.6L455.9,451.5L454.9,449.5L454.9,388.5L454.0,387.5L453.0,387.5L452.0,388.7L450.0,388.0L446.0,384.6L439.3,375.5L433.9,364.5L432.6,358.5L432.7,352.5L434.8,346.5L438.0,342.4L441.1,340.5L458.0,334.5L466.0,328.5L471.0,325.9L475.0,324.9L483.0,325.5L500.0,328.7L515.0,332.5L521.0,334.7L526.0,338.3L542.0,355.4L545.0,359.6L546.9,363.5L548.0,368.5L548.0,372.5L547.5,374.5L546.3,376.5L541.0,381.9L536.4,387.5L534.0,387.5L533.1,388.5L533.0,449.5L532.2,450.5L532.1,451.5L530.1,453.5L529.0,453.6L528.0,454.5Z" fill="#4a6e96" fill-rule="evenodd"/>
<path d="M528.0,454.5L460.0,454.6L459.0,453.7L458.0,453.6L455.9,451.5L455.8,450.5L454.9,449.5L454.9,388.5L454.0,387.5L452.0,387.5L448.0,382.5L440.2,363.5L439.2,358.5L439.3,354.5L440.4,351.5L443.0,348.5L447.0,346.5L458.0,344.0L462.0,342.5L465.5,340.5L472.0,335.6L474.7,334.5L478.0,334.2L493.0,335.1L502.0,337.3L513.0,338.4L518.5,340.5L522.0,343.0L526.0,346.7L538.9,361.5L541.8,366.5L542.6,371.5L541.2,375.5L534.0,385.6L533.9,387.5L533.1,388.5L533.0,449.5L532.1,450.5L532.0,451.5L530.0,453.5L529.0,453.6L528.0,454.5Z" fill="#46698f" fill-rule="evenodd"/>
<path d="M528.0,454.5L460.0,454.5L459.0,453.6L458.0,453.5L456.0,451.5L455.9,450.5L455.0,449.5L454.9,388.5L454.0,387.5L452.9,387.5L447.9,369.5L447.0,364.5L447.5,359.5L448.3,357.5L450.0,355.5L454.0,353.5L474.0,347.8L477.0,347.7L484.0,348.5L496.0,345.5L512.0,345.5L516.0,346.7L520.1,349.5L532.4,363.5L534.9,367.5L535.6,371.5L534.6,375.5L530.8,382.5L531.3,384.5L533.3,387.5L533.0,449.5L532.0,450.5L532.0,451.5L530.0,453.5L529.0,453.5L528.0,454.5Z" fill="#406184" fill-rule="evenodd"/>
<path d="M489.0,454.5L460.0,454.5L459.0,453.5L458.0,453.5L456.0,451.5L455.9,450.5L455.0,449.6L454.9,388.5L454.4,387.5L456.4,383.5L454.0,373.5L454.1,368.5L455.3,365.5L457.3,363.5L462.0,360.8L467.0,359.0L484.0,356.3L498.0,352.9L502.0,352.9L512.0,354.3L515.0,355.5L517.0,357.2L525.1,368.5L526.8,372.5L526.1,377.5L526.4,379.5L528.1,382.5L533.0,387.8L533.0,435.5L524.0,434.4L523.7,443.5L523.0,445.1L490.9,445.5L488.9,447.5L488.2,449.5L488.4,452.5L489.4,454.5L489.0,454.5ZM480.7,452.5L481.3,450.5L479.2,447.5L476.0,446.1L474.0,447.1L473.8,449.5L475.0,451.1L478.0,452.7L480.7,452.5Z" fill="#3a5776" fill-rule="evenodd"/>
<path d="M522.0,444.7L488.0,445.2L466.0,444.9L465.0,444.5L464.4,443.5L464.0,433.5L460.2,435.5L458.0,437.4L455.0,442.3L455.0,387.5L459.8,381.5L461.4,374.5L463.0,372.4L466.0,370.7L474.0,368.2L484.0,363.8L493.0,361.8L497.0,361.8L500.0,363.0L509.0,369.7L511.0,372.5L512.2,377.5L523.0,377.7L523.8,378.5L524.0,384.4L527.6,385.5L533.0,388.4L533.0,423.2L524.0,424.5L523.4,442.5L523.0,444.4L522.0,444.7Z" fill="#334b67" fill-rule="evenodd"/>
<path d="M520.0,444.5L471.0,444.8L467.4,444.5L465.0,443.0L464.0,425.4L455.0,428.1L455.0,400.5L455.0,388.1L464.0,381.4L464.2,378.5L465.0,377.7L476.4,377.5L484.0,372.8L487.0,371.8L490.0,371.5L493.0,372.1L495.0,373.2L499.3,377.5L523.0,378.0L523.5,378.5L524.0,395.1L533.0,397.3L533.0,406.9L524.0,411.8L523.2,441.5L523.0,442.9L520.0,444.5Z" fill="#2c4058" fill-rule="evenodd"/>
<path d="M513.0,444.5L474.0,444.5L468.5,443.5L465.6,441.5L465.0,440.6L464.8,438.5L464.0,416.5L459.0,416.5L455.0,415.2L455.0,391.5L464.0,387.8L464.7,378.5L465.0,378.2L490.0,377.8L523.2,378.5L523.7,402.5L523.0,440.5L521.3,442.5L519.4,443.5L513.0,444.5Z" fill="#25364a" fill-rule="evenodd"/>
<path d="M492.0,443.5L479.0,443.3L472.0,442.7L468.0,441.1L466.1,438.5L465.0,434.2L464.6,413.5L464.0,406.6L459.7,403.5L458.3,401.5L458.2,400.5L459.8,398.5L464.0,396.0L465.2,382.5L466.9,380.5L469.0,379.9L481.0,379.3L498.0,379.5L516.0,380.6L520.0,381.3L522.0,383.3L523.0,388.0L523.0,434.5L522.0,438.5L520.0,441.1L516.0,442.7L510.0,443.3L492.0,443.5Z" fill="#1f2c3c" fill-rule="evenodd"/>
<path d="M515.0,440.6L509.0,441.3L480.0,441.2L473.0,440.2L471.0,439.5L469.0,437.8L467.5,434.5L466.7,429.5L465.9,402.5L466.0,392.5L467.0,389.1L469.0,386.4L472.0,385.0L476.0,384.4L494.0,384.3L513.0,385.8L517.0,386.9L519.0,388.3L521.1,392.5L521.8,415.5L521.4,429.5L520.7,434.5L519.5,437.5L517.6,439.5L515.0,440.6ZM490.2,415.5L491.4,413.5L490.8,411.5L489.0,410.5L487.0,411.2L486.1,412.5L486.4,414.5L488.0,415.8L490.2,415.5Z" fill="#18222e" fill-rule="evenodd"/>
<path d="M511.0,437.6L500.0,436.8L480.0,437.0L476.0,436.2L473.0,434.4L471.7,432.5L471.1,430.5L469.7,415.5L469.3,396.5L469.4,392.5L470.4,391.5L473.0,390.1L476.0,389.4L489.0,389.0L507.0,389.8L513.0,390.9L516.3,392.5L518.9,412.5L518.6,426.5L517.7,431.5L516.4,434.5L514.2,436.5L511.0,437.6ZM491.1,418.5L493.0,417.1L493.9,415.5L494.3,413.5L494.1,411.5L493.0,409.5L491.0,408.0L489.0,407.6L487.0,407.8L485.0,409.0L483.7,410.5L483.1,412.5L483.4,415.5L484.8,417.5L487.0,418.8L489.0,419.0L491.1,418.5Z" fill="#111921" fill-rule="evenodd"/>
<path d="M511.0,429.8L508.0,430.0L505.0,428.1L502.3,424.5L500.3,419.5L499.5,413.5L499.5,406.5L501.0,402.4L502.6,400.5L504.0,399.7L507.0,399.8L510.0,402.0L512.3,405.5L514.1,410.5L515.0,416.5L514.7,422.5L513.2,427.5L511.0,429.8ZM480.0,433.5L477.0,432.9L475.5,431.5L475.4,429.5L476.0,428.5L478.0,427.2L481.0,427.2L483.0,428.5L483.6,429.5L483.7,430.5L483.0,432.0L482.0,432.8L480.0,433.5Z" fill="#0e131a" fill-rule="evenodd"/>
</g>
<path d="M442.2,378.4 H464.1 V445 H523.9 V378.4 H546.1 V465.6 H442.2 Z" fill="#7a7a7a"/>
<rect x="371.5" y="303.0" width="246.0" height="228.5" fill="none" stroke="#888" stroke-width="0.8"/>
<rect x="633.9" y="525.10" width="11.5" height="7.10" fill="#f6fafe"/>
<rect x="633.9" y="518.31" width="11.5" height="7.10" fill="#f1f6fd"/>
<rect x="633.9" y="511.51" width="11.5" height="7.10" fill="#e7f0fa"/>
<rect x="633.9" y="504.71" width="11.5" height="7.10" fill="#e2edf9"/>
<rect x="633.9" y="497.91" width="11.5" height="7.10" fill="#ddeaf8"/>
<rect x="633.9" y="491.12" width="11.5" height="7.10" fill="#d3e3f6"/>
<rect x="633.9" y="484.32" width="11.5" height="7.10" fill="#c8ddf4"/>
<rect x="633.9" y="477.52" width="11.5" height="7.10" fill="#c1d9f3"/>
<rect x="633.9" y="470.73" width="11.5" height="7.10" fill="#bbd5f2"/>
<rect x="633.9" y="463.93" width="11.5" height="7.10" fill="#b5d2f1"/>
<rect x="633.9" y="457.13" width="11.5" height="7.10" fill="#aecff1"/>
<rect x="633.9" y="450.34" width="11.5" height="7.10" fill="#a8cbf0"/>
<rect x="633.9" y="443.54" width="11.5" height="7.10" fill="#9cc4ee"/>
<rect x="633.9" y="436.74" width="11.5" height="7.10" fill="#91bdec"/>
<rect x="633.9" y="429.94" width="11.5" height="7.10" fill="#87b6e9"/>
<rect x="633.9" y="423.15" width="11.5" height="7.10" fill="#7cb0e5"/>
<rect x="633.9" y="416.35" width="11.5" height="7.10" fill="#74a9e2"/>
<rect x="633.9" y="409.55" width="11.5" height="7.10" fill="#6da1dc"/>
<rect x="633.9" y="402.76" width="11.5" height="7.10" fill="#6899d1"/>
<rect x="633.9" y="395.96" width="11.5" height="7.10" fill="#6290c5"/>
<rect x="633.9" y="389.16" width="11.5" height="7.10" fill="#5a86b8"/>
<rect x="633.9" y="382.36" width="11.5" height="7.10" fill="#547caa"/>
<rect x="633.9" y="375.57" width="11.5" height="7.10" fill="#4e739d"/>
<rect x="633.9" y="368.77" width="11.5" height="7.10" fill="#4a6e96"/>
<rect x="633.9" y="361.97" width="11.5" height="7.10" fill="#46698f"/>
<rect x="633.9" y="355.18" width="11.5" height="7.10" fill="#406184"/>
<rect x="633.9" y="348.38" width="11.5" height="7.10" fill="#3a5776"/>
<rect x="633.9" y="341.58" width="11.5" height="7.10" fill="#334b67"/>
<rect x="633.9" y="334.79" width="11.5" height="7.10" fill="#2c4058"/>
<rect x="633.9" y="327.99" width="11.5" height="7.10" fill="#25364a"/>
<rect x="633.9" y="321.19" width="11.5" height="7.10" fill="#1f2c3c"/>
<rect x="633.9" y="314.39" width="11.5" height="7.10" fill="#18222e"/>
<rect x="633.9" y="307.60" width="11.5" height="7.10" fill="#111921"/>
<rect x="633.9" y="300.80" width="11.5" height="7.10" fill="#0e131a"/>
<rect x="633.9" y="300.8" width="11.5" height="231.1" fill="none" stroke="#555" stroke-width="0.8"/>
<text x="651.1" y="532.79" font-family="Liberation Sans, sans-serif" font-size="9.4" fill="#333">0.33</text>
<text x="651.1" y="495.18" font-family="Liberation Sans, sans-serif" font-size="9.4" fill="#333">0.43</text>
<text x="651.1" y="457.56" font-family="Liberation Sans, sans-serif" font-size="9.4" fill="#333">0.53</text>
<text x="651.1" y="419.95" font-family="Liberation Sans, sans-serif" font-size="9.4" fill="#333">0.63</text>
<text x="651.1" y="382.34" font-family="Liberation Sans, sans-serif" font-size="9.4" fill="#333">0.73</text>
<text x="651.1" y="344.72" font-family="Liberation Sans, sans-serif" font-size="9.4" fill="#333">0.83</text>
<text x="651.1" y="307.11" font-family="Liberation Sans, sans-serif" font-size="9.4" fill="#333">0.93</text>
<path d="M642.4,529.49h3M642.4,491.88h3M642.4,454.26h3M642.4,416.65h3M642.4,379.04h3M642.4,341.42h3M642.4,303.81h3" stroke="#333" stroke-width="0.8"/>
<text transform="translate(677,416.6) rotate(90)" font-family="Liberation Sans, sans-serif" font-size="10" text-anchor="middle" fill="#222" textLength="26.3" lengthAdjust="spacingAndGlyphs">Value</text>
<text transform="translate(333.5,303.6) scale(1.15,1)" font-family="Liberation Sans, sans-serif" font-size="14.6" font-weight="bold" fill="#000" stroke="#000" stroke-width="0.4">d</text></svg></body></html>
